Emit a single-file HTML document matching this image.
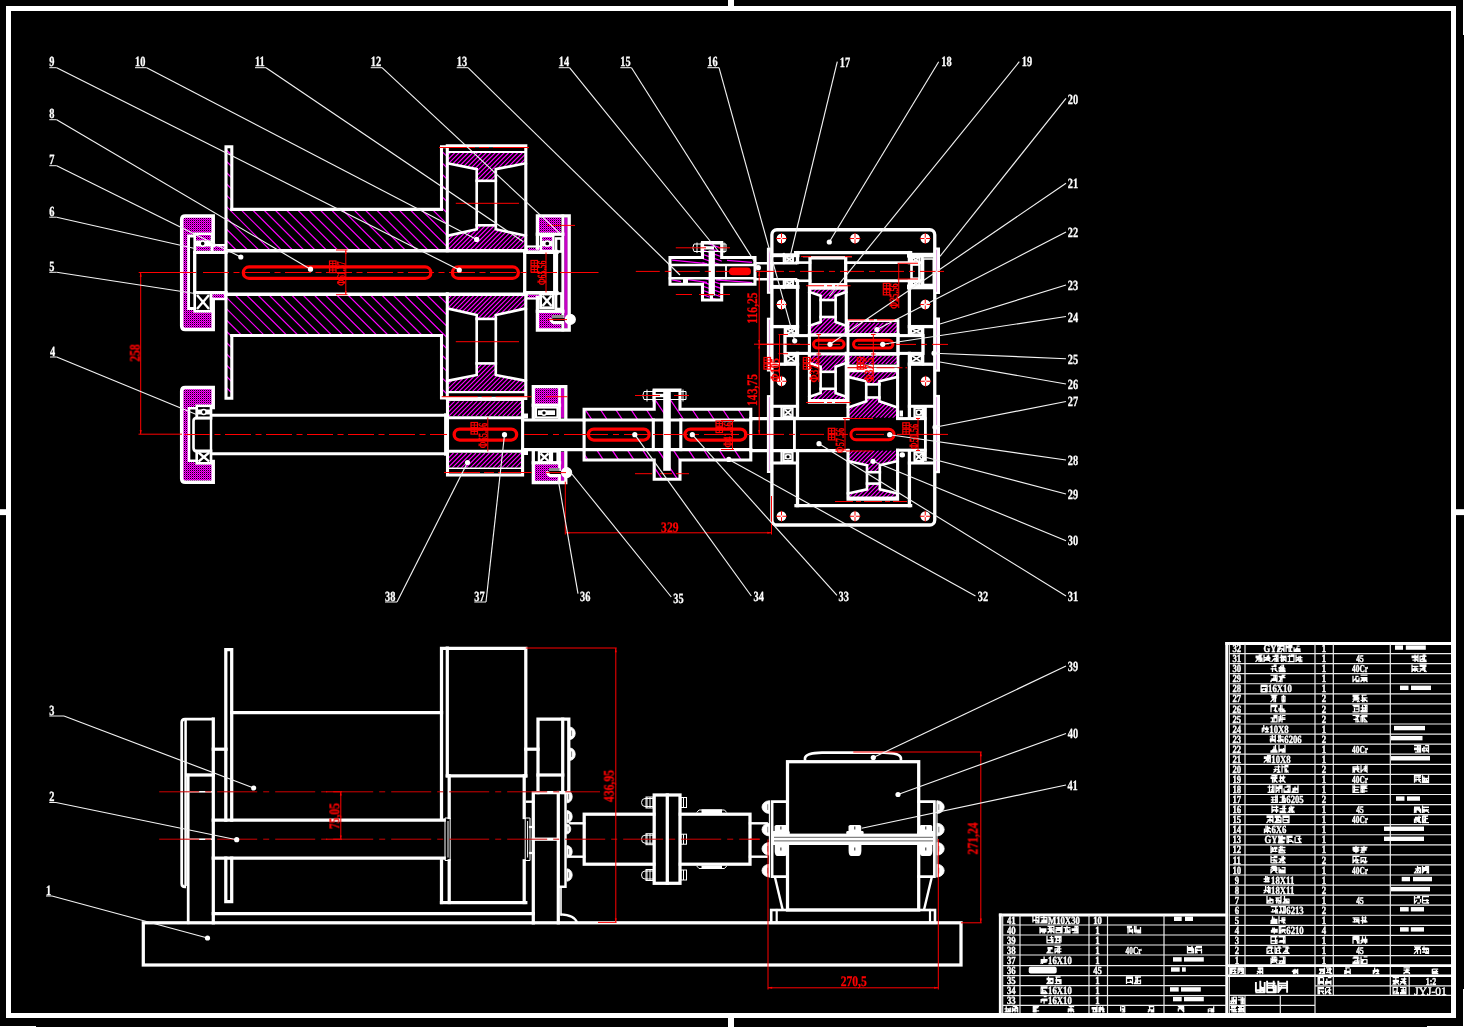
<!DOCTYPE html>
<html><head><meta charset="utf-8"><title>drawing</title>
<style>html,body{margin:0;padding:0;background:#000;overflow:hidden}svg{display:block}text{font-family:"Liberation Serif",serif}</style>
</head><body>
<svg width="1464" height="1027" viewBox="0 0 1464 1027" shape-rendering="auto">
<defs><pattern id="dh" x="0" y="0" width="2" height="2" patternUnits="userSpaceOnUse"><rect width="2" height="2" fill="#f0f"/><rect x="0" y="0" width="1" height="1" fill="#100010"/><rect x="1" y="1" width="1" height="1" fill="#a800a8"/></pattern><clipPath id="c1"><path d="M226,146.7 L231.8,146.7 L231.8,209.4 L441.5,209.4 L441.5,146.7 L447.3,146.7 L447.3,250.7 L226,250.7 Z"/></clipPath><clipPath id="c2"><path d="M226,294.3 L447.3,294.3 L447.3,398.3 L441.5,398.3 L441.5,335.5 L231.8,335.5 L231.8,398.3 L226,398.3 Z"/></clipPath><clipPath id="c3"><path d="M447.3,152 L525.8,152 L525.8,163.3 L495.8,169.2 L495.8,180.8 L476.7,180.8 L476.7,169.2 L447.3,163.3 Z"/></clipPath><clipPath id="c4"><path d="M447.3,235.8 L476.7,229.2 L476.7,225.3 L495.8,225.3 L495.8,229.2 L525.8,235.8 L525.8,250.7 L447.3,250.7 Z"/></clipPath><clipPath id="c5"><path d="M447.3,392.2 L525.8,392.2 L525.8,380.9 L495.8,375 L495.8,363.4 L476.7,363.4 L476.7,375 L447.3,380.9 Z"/></clipPath><clipPath id="c6"><path d="M447.3,308.4 L476.7,315 L476.7,318.9 L495.8,318.9 L495.8,315 L525.8,308.4 L525.8,293.9 L447.3,293.9 Z"/></clipPath><clipPath id="c7"><path d="M447.5,401.2 L522.6,401.2 L522.6,416.2 L447.5,416.2 Z"/></clipPath><clipPath id="c8"><path d="M447.5,453 L522.6,453 L522.6,467.8 L447.5,467.8 Z"/></clipPath><clipPath id="c9"><path d="M584.1,409.2 L654.2,409.2 L654.2,390 L680,390 L680,409.2 L750.8,409.2 L750.8,420 L584.1,420 Z"/></clipPath><clipPath id="c10"><path d="M584.1,449.6 L750.8,449.6 L750.8,460 L680,460 L680,479.2 L654.2,479.2 L654.2,460 L584.1,460 Z"/></clipPath><clipPath id="c11"><path d="M702.5,242.5 L721.7,242.5 L721.7,265 L702.5,265 Z"/></clipPath><clipPath id="c12"><path d="M702.5,278.3 L721.7,278.3 L721.7,300 L702.5,300 Z"/></clipPath><clipPath id="c13"><path d="M809.4,288.6 L846.25,288.6 L846.25,292 L835.6,295.75 L835.6,300 L820.6,300 L820.6,295.75 L809.4,292 Z"/></clipPath><clipPath id="c14"><path d="M809.4,325.75 L820.6,322 L820.6,317 L835.6,317 L835.6,322 L846.25,325.75 L846.25,335 L809.4,335 Z"/></clipPath><clipPath id="c15"><path d="M809.4,400.2 L846.25,400.2 L846.25,396.8 L835.6,393.05 L835.6,388.8 L820.6,388.8 L820.6,393.05 L809.4,396.8 Z"/></clipPath><clipPath id="c16"><path d="M809.4,363.05 L820.6,366.8 L820.6,371.8 L835.6,371.8 L835.6,366.8 L846.25,363.05 L846.25,353.4 L809.4,353.4 Z"/></clipPath><clipPath id="c17"><path d="M848,322.5 L898,322.5 L898,333.2 L848,333.2 Z"/></clipPath><clipPath id="c18"><path d="M848,355.8 L898,355.8 L898,364.2 L848,364.2 Z"/></clipPath><clipPath id="c19"><path d="M848,371.2 L897.6,371.2 L897.6,376.9 L879.4,381.25 L879.4,384.4 L866.25,384.4 L866.25,381.25 L848,376.9 Z"/></clipPath><clipPath id="c20"><path d="M848,407.5 L866.25,401.25 L866.25,397.5 L879.4,397.5 L879.4,401.25 L897.6,407.5 L897.6,417.8 L848,417.8 Z"/></clipPath><clipPath id="c21"><path d="M848,497.6 L897.6,497.6 L897.6,493.5 L879.8,489.4 L879.8,483.6 L867,483.6 L867,489.4 L848,493.5 Z"/></clipPath><clipPath id="c22"><path d="M848,461 L867,465.2 L867,472.2 L879.8,472.2 L879.8,465.2 L897.6,461 L897.6,450.4 L848,450.4 Z"/></clipPath></defs>
<rect x="0" y="0" width="1464" height="1027" fill="#000"/>
<path clip-path="url(#c1)" d="M121.62,146.7 L225.62,250.7 M132.89,146.7 L236.89,250.7 M144.16,146.7 L248.16,250.7 M155.43,146.7 L259.43,250.7 M166.7,146.7 L270.7,250.7 M177.97,146.7 L281.97,250.7 M189.24,146.7 L293.24,250.7 M200.51,146.7 L304.51,250.7 M211.78,146.7 L315.78,250.7 M223.05,146.7 L327.05,250.7 M234.32,146.7 L338.32,250.7 M245.59,146.7 L349.59,250.7 M256.86,146.7 L360.86,250.7 M268.13,146.7 L372.13,250.7 M279.4,146.7 L383.4,250.7 M290.67,146.7 L394.67,250.7 M301.94,146.7 L405.94,250.7 M313.21,146.7 L417.21,250.7 M324.48,146.7 L428.48,250.7 M335.75,146.7 L439.75,250.7 M347.02,146.7 L451.02,250.7 M358.29,146.7 L462.29,250.7 M369.56,146.7 L473.56,250.7 M380.83,146.7 L484.83,250.7 M392.1,146.7 L496.1,250.7 M403.37,146.7 L507.37,250.7 M414.64,146.7 L518.64,250.7 M425.91,146.7 L529.91,250.7 M437.18,146.7 L541.18,250.7 M448.45,146.7 L552.45,250.7" stroke="#ff00ff" stroke-width="1.2" fill="none"/>
<path clip-path="url(#c2)" d="M121.87,294.3 L225.87,398.3 M133.14,294.3 L237.14,398.3 M144.41,294.3 L248.41,398.3 M155.68,294.3 L259.68,398.3 M166.95,294.3 L270.95,398.3 M178.22,294.3 L282.22,398.3 M189.49,294.3 L293.49,398.3 M200.76,294.3 L304.76,398.3 M212.03,294.3 L316.03,398.3 M223.3,294.3 L327.3,398.3 M234.57,294.3 L338.57,398.3 M245.84,294.3 L349.84,398.3 M257.11,294.3 L361.11,398.3 M268.38,294.3 L372.38,398.3 M279.65,294.3 L383.65,398.3 M290.92,294.3 L394.92,398.3 M302.19,294.3 L406.19,398.3 M313.46,294.3 L417.46,398.3 M324.73,294.3 L428.73,398.3 M336,294.3 L440,398.3 M347.27,294.3 L451.27,398.3 M358.54,294.3 L462.54,398.3 M369.81,294.3 L473.81,398.3 M381.08,294.3 L485.08,398.3 M392.35,294.3 L496.35,398.3 M403.62,294.3 L507.62,398.3 M414.89,294.3 L518.89,398.3 M426.16,294.3 L530.16,398.3 M437.43,294.3 L541.43,398.3 M448.7,294.3 L552.7,398.3" stroke="#ff00ff" stroke-width="1.2" fill="none"/>
<path clip-path="url(#c3)" d="M446.5,152 L417.7,180.8 M451,152 L422.2,180.8 M455.5,152 L426.7,180.8 M460,152 L431.2,180.8 M464.5,152 L435.7,180.8 M469,152 L440.2,180.8 M473.5,152 L444.7,180.8 M478,152 L449.2,180.8 M482.5,152 L453.7,180.8 M487,152 L458.2,180.8 M491.5,152 L462.7,180.8 M496,152 L467.2,180.8 M500.5,152 L471.7,180.8 M505,152 L476.2,180.8 M509.5,152 L480.7,180.8 M514,152 L485.2,180.8 M518.5,152 L489.7,180.8 M523,152 L494.2,180.8 M527.5,152 L498.7,180.8 M532,152 L503.2,180.8 M536.5,152 L507.7,180.8 M541,152 L512.2,180.8 M545.5,152 L516.7,180.8 M550,152 L521.2,180.8 M554.5,152 L525.7,180.8 M559,152 L530.2,180.8" stroke="#ff00ff" stroke-width="1.2" fill="none"/>
<path clip-path="url(#c4)" d="M445.2,225.3 L419.8,250.7 M449.7,225.3 L424.3,250.7 M454.2,225.3 L428.8,250.7 M458.7,225.3 L433.3,250.7 M463.2,225.3 L437.8,250.7 M467.7,225.3 L442.3,250.7 M472.2,225.3 L446.8,250.7 M476.7,225.3 L451.3,250.7 M481.2,225.3 L455.8,250.7 M485.7,225.3 L460.3,250.7 M490.2,225.3 L464.8,250.7 M494.7,225.3 L469.3,250.7 M499.2,225.3 L473.8,250.7 M503.7,225.3 L478.3,250.7 M508.2,225.3 L482.8,250.7 M512.7,225.3 L487.3,250.7 M517.2,225.3 L491.8,250.7 M521.7,225.3 L496.3,250.7 M526.2,225.3 L500.8,250.7 M530.7,225.3 L505.3,250.7 M535.2,225.3 L509.8,250.7 M539.7,225.3 L514.3,250.7 M544.2,225.3 L518.8,250.7 M548.7,225.3 L523.3,250.7 M553.2,225.3 L527.8,250.7" stroke="#ff00ff" stroke-width="1.2" fill="none"/>
<path clip-path="url(#c5)" d="M446.6,363.4 L417.8,392.2 M451.1,363.4 L422.3,392.2 M455.6,363.4 L426.8,392.2 M460.1,363.4 L431.3,392.2 M464.6,363.4 L435.8,392.2 M469.1,363.4 L440.3,392.2 M473.6,363.4 L444.8,392.2 M478.1,363.4 L449.3,392.2 M482.6,363.4 L453.8,392.2 M487.1,363.4 L458.3,392.2 M491.6,363.4 L462.8,392.2 M496.1,363.4 L467.3,392.2 M500.6,363.4 L471.8,392.2 M505.1,363.4 L476.3,392.2 M509.6,363.4 L480.8,392.2 M514.1,363.4 L485.3,392.2 M518.6,363.4 L489.8,392.2 M523.1,363.4 L494.3,392.2 M527.6,363.4 L498.8,392.2 M532.1,363.4 L503.3,392.2 M536.6,363.4 L507.8,392.2 M541.1,363.4 L512.3,392.2 M545.6,363.4 L516.8,392.2 M550.1,363.4 L521.3,392.2 M554.6,363.4 L525.8,392.2" stroke="#ff00ff" stroke-width="1.2" fill="none"/>
<path clip-path="url(#c6)" d="M444.1,293.9 L419.1,318.9 M448.6,293.9 L423.6,318.9 M453.1,293.9 L428.1,318.9 M457.6,293.9 L432.6,318.9 M462.1,293.9 L437.1,318.9 M466.6,293.9 L441.6,318.9 M471.1,293.9 L446.1,318.9 M475.6,293.9 L450.6,318.9 M480.1,293.9 L455.1,318.9 M484.6,293.9 L459.6,318.9 M489.1,293.9 L464.1,318.9 M493.6,293.9 L468.6,318.9 M498.1,293.9 L473.1,318.9 M502.6,293.9 L477.6,318.9 M507.1,293.9 L482.1,318.9 M511.6,293.9 L486.6,318.9 M516.1,293.9 L491.1,318.9 M520.6,293.9 L495.6,318.9 M525.1,293.9 L500.1,318.9 M529.6,293.9 L504.6,318.9 M534.1,293.9 L509.1,318.9 M538.6,293.9 L513.6,318.9 M543.1,293.9 L518.1,318.9 M547.6,293.9 L522.6,318.9 M552.1,293.9 L527.1,318.9" stroke="#ff00ff" stroke-width="1.2" fill="none"/>
<path d="M181.7,216 L213.2,216 L213.2,233.5 L194.7,233.5 L194.7,236 L188.6,236 L188.6,308.5 L194.7,308.5 L194.7,311.5 L213.2,311.5 L213.2,329.5 L181.7,329.5 Z" fill="url(#dh)" stroke="none" shape-rendering="crispEdges"/>
<path d="M196,235 L211,235 L211,251 L196,251 Z" fill="url(#dh)" stroke="none" shape-rendering="crispEdges"/>
<path d="M213,246.3 L224.5,246.3 L224.5,251.2 L213,251.2 Z" fill="url(#dh)" stroke="none" shape-rendering="crispEdges"/>
<path d="M212,293.8 L224.5,293.8 L224.5,298 L212,298 Z" fill="url(#dh)" stroke="none" shape-rendering="crispEdges"/>
<path d="M181.7,387.5 L213.2,387.5 L213.2,405 L194.7,405 L194.7,407.5 L188.6,407.5 L188.6,461.3 L194.7,461.3 L194.7,464.3 L213.2,464.3 L213.2,482.3 L181.7,482.3 Z" fill="url(#dh)" stroke="none" shape-rendering="crispEdges"/>
<path clip-path="url(#c7)" d="M445.8,401.2 L430.8,416.2 M450.3,401.2 L435.3,416.2 M454.8,401.2 L439.8,416.2 M459.3,401.2 L444.3,416.2 M463.8,401.2 L448.8,416.2 M468.3,401.2 L453.3,416.2 M472.8,401.2 L457.8,416.2 M477.3,401.2 L462.3,416.2 M481.8,401.2 L466.8,416.2 M486.3,401.2 L471.3,416.2 M490.8,401.2 L475.8,416.2 M495.3,401.2 L480.3,416.2 M499.8,401.2 L484.8,416.2 M504.3,401.2 L489.3,416.2 M508.8,401.2 L493.8,416.2 M513.3,401.2 L498.3,416.2 M517.8,401.2 L502.8,416.2 M522.3,401.2 L507.3,416.2 M526.8,401.2 L511.8,416.2 M531.3,401.2 L516.3,416.2 M535.8,401.2 L520.8,416.2 M540.3,401.2 L525.3,416.2" stroke="#ff00ff" stroke-width="1.2" fill="none"/>
<path clip-path="url(#c8)" d="M444.5,453 L429.7,467.8 M449,453 L434.2,467.8 M453.5,453 L438.7,467.8 M458,453 L443.2,467.8 M462.5,453 L447.7,467.8 M467,453 L452.2,467.8 M471.5,453 L456.7,467.8 M476,453 L461.2,467.8 M480.5,453 L465.7,467.8 M485,453 L470.2,467.8 M489.5,453 L474.7,467.8 M494,453 L479.2,467.8 M498.5,453 L483.7,467.8 M503,453 L488.2,467.8 M507.5,453 L492.7,467.8 M512,453 L497.2,467.8 M516.5,453 L501.7,467.8 M521,453 L506.2,467.8 M525.5,453 L510.7,467.8 M530,453 L515.2,467.8 M534.5,453 L519.7,467.8 M539,453 L524.2,467.8" stroke="#ff00ff" stroke-width="1.2" fill="none"/>
<path d="M538.9,217.4 L561.3,217.4 L561.3,233 L538.9,233 Z" fill="url(#dh)" stroke="none" shape-rendering="crispEdges"/>
<path d="M538.9,312.5 L561.3,312.5 L561.3,328.5 L538.9,328.5 Z" fill="url(#dh)" stroke="none" shape-rendering="crispEdges"/>
<rect x="564.2" y="217.4" width="3.6" height="111.1" fill="#c800c8"/>
<path d="M542,237 L552.3,237 L552.3,250 L542,250 Z" fill="url(#dh)" stroke="none" shape-rendering="crispEdges"/>
<path d="M527.5,247.5 L540,247.5 L540,250.5 L527.5,250.5 Z" fill="url(#dh)" stroke="none" shape-rendering="crispEdges"/>
<path d="M527.5,294.5 L540,294.5 L540,297.5 L527.5,297.5 Z" fill="url(#dh)" stroke="none" shape-rendering="crispEdges"/>
<path d="M534.8,388.2 L558,388.2 L558,404 L534.8,404 Z" fill="url(#dh)" stroke="none" shape-rendering="crispEdges"/>
<path d="M534.8,464 L558,464 L558,481 L534.8,481 Z" fill="url(#dh)" stroke="none" shape-rendering="crispEdges"/>
<rect x="560.9" y="388.2" width="3.5" height="29.6" fill="#c800c8"/>
<rect x="560.9" y="451.8" width="3.5" height="29.2" fill="#c800c8"/>
<path clip-path="url(#c9)" d="M556.8,390 L576.8,420 M572.1,390 L592.1,420 M587.4,390 L607.4,420 M602.7,390 L622.7,420 M618,390 L638,420 M633.3,390 L653.3,420 M648.6,390 L668.6,420 M663.9,390 L683.9,420 M679.2,390 L699.2,420 M694.5,390 L714.5,420 M709.8,390 L729.8,420 M725.1,390 L745.1,420 M740.4,390 L760.4,420 M755.7,390 L775.7,420" stroke="#ff00ff" stroke-width="1.25" fill="none"/>
<path clip-path="url(#c10)" d="M550.63,449.6 L570.37,479.2 M565.93,449.6 L585.67,479.2 M581.23,449.6 L600.97,479.2 M596.53,449.6 L616.27,479.2 M611.83,449.6 L631.57,479.2 M627.13,449.6 L646.87,479.2 M642.43,449.6 L662.17,479.2 M657.73,449.6 L677.47,479.2 M673.03,449.6 L692.77,479.2 M688.33,449.6 L708.07,479.2 M703.63,449.6 L723.37,479.2 M718.93,449.6 L738.67,479.2 M734.23,449.6 L753.97,479.2 M749.53,449.6 L769.27,479.2 M764.83,449.6 L784.57,479.2" stroke="#ff00ff" stroke-width="1.25" fill="none"/>
<path clip-path="url(#c11)" d="M632.86,242.5 L697.14,265 M644.86,242.5 L709.14,265 M656.86,242.5 L721.14,265 M668.86,242.5 L733.14,265 M680.86,242.5 L745.14,265 M692.86,242.5 L757.14,265 M704.86,242.5 L769.14,265 M716.86,242.5 L781.14,265 M728.86,242.5 L793.14,265" stroke="#ff00ff" stroke-width="1.2" fill="none"/>
<path clip-path="url(#c12)" d="M632.14,278.3 L694.14,300 M644.14,278.3 L706.14,300 M656.14,278.3 L718.14,300 M668.14,278.3 L730.14,300 M680.14,278.3 L742.14,300 M692.14,278.3 L754.14,300 M704.14,278.3 L766.14,300 M716.14,278.3 L778.14,300 M728.14,278.3 L790.14,300" stroke="#ff00ff" stroke-width="1.2" fill="none"/>
<line x1="672" y1="260.2" x2="707" y2="263.6" stroke="#ff00ff" stroke-width="1.2"/>
<line x1="727" y1="260.4" x2="752" y2="262.4" stroke="#ff00ff" stroke-width="1.2"/>
<line x1="672" y1="279.9" x2="681" y2="281.6" stroke="#ff00ff" stroke-width="1.2"/>
<line x1="688" y1="279.7" x2="707" y2="282.4" stroke="#ff00ff" stroke-width="1.2"/>
<line x1="716" y1="279.8" x2="752" y2="282.6" stroke="#ff00ff" stroke-width="1.2"/>
<path clip-path="url(#c13)" d="M808.6,288.6 L797.2,300 M812.8,288.6 L801.4,300 M817,288.6 L805.6,300 M821.2,288.6 L809.8,300 M825.4,288.6 L814,300 M829.6,288.6 L818.2,300 M833.8,288.6 L822.4,300 M838,288.6 L826.6,300 M842.2,288.6 L830.8,300 M846.4,288.6 L835,300 M850.6,288.6 L839.2,300 M854.8,288.6 L843.4,300 M859,288.6 L847.6,300" stroke="#ff00ff" stroke-width="1.2" fill="none"/>
<path clip-path="url(#c14)" d="M805.4,317 L787.4,335 M809.6,317 L791.6,335 M813.8,317 L795.8,335 M818,317 L800,335 M822.2,317 L804.2,335 M826.4,317 L808.4,335 M830.6,317 L812.6,335 M834.8,317 L816.8,335 M839,317 L821,335 M843.2,317 L825.2,335 M847.4,317 L829.4,335 M851.6,317 L833.6,335 M855.8,317 L837.8,335 M860,317 L842,335 M864.2,317 L846.2,335 M868.4,317 L850.4,335" stroke="#ff00ff" stroke-width="1.2" fill="none"/>
<path clip-path="url(#c15)" d="M807,388.8 L795.6,400.2 M811.2,388.8 L799.8,400.2 M815.4,388.8 L804,400.2 M819.6,388.8 L808.2,400.2 M823.8,388.8 L812.4,400.2 M828,388.8 L816.6,400.2 M832.2,388.8 L820.8,400.2 M836.4,388.8 L825,400.2 M840.6,388.8 L829.2,400.2 M844.8,388.8 L833.4,400.2 M849,388.8 L837.6,400.2 M853.2,388.8 L841.8,400.2 M857.4,388.8 L846,400.2 M861.6,388.8 L850.2,400.2" stroke="#ff00ff" stroke-width="1.2" fill="none"/>
<path clip-path="url(#c16)" d="M808.8,353.4 L790.4,371.8 M813,353.4 L794.6,371.8 M817.2,353.4 L798.8,371.8 M821.4,353.4 L803,371.8 M825.6,353.4 L807.2,371.8 M829.8,353.4 L811.4,371.8 M834,353.4 L815.6,371.8 M838.2,353.4 L819.8,371.8 M842.4,353.4 L824,371.8 M846.6,353.4 L828.2,371.8 M850.8,353.4 L832.4,371.8 M855,353.4 L836.6,371.8 M859.2,353.4 L840.8,371.8 M863.4,353.4 L845,371.8 M867.6,353.4 L849.2,371.8" stroke="#ff00ff" stroke-width="1.2" fill="none"/>
<path clip-path="url(#c17)" d="M845.6,322.5 L834.9,333.2 M849.8,322.5 L839.1,333.2 M854,322.5 L843.3,333.2 M858.2,322.5 L847.5,333.2 M862.4,322.5 L851.7,333.2 M866.6,322.5 L855.9,333.2 M870.8,322.5 L860.1,333.2 M875,322.5 L864.3,333.2 M879.2,322.5 L868.5,333.2 M883.4,322.5 L872.7,333.2 M887.6,322.5 L876.9,333.2 M891.8,322.5 L881.1,333.2 M896,322.5 L885.3,333.2 M900.2,322.5 L889.5,333.2 M904.4,322.5 L893.7,333.2 M908.6,322.5 L897.9,333.2 M912.8,322.5 L902.1,333.2" stroke="#ff00ff" stroke-width="1.2" fill="none"/>
<path clip-path="url(#c18)" d="M847.9,355.8 L839.5,364.2 M852.1,355.8 L843.7,364.2 M856.3,355.8 L847.9,364.2 M860.5,355.8 L852.1,364.2 M864.7,355.8 L856.3,364.2 M868.9,355.8 L860.5,364.2 M873.1,355.8 L864.7,364.2 M877.3,355.8 L868.9,364.2 M881.5,355.8 L873.1,364.2 M885.7,355.8 L877.3,364.2 M889.9,355.8 L881.5,364.2 M894.1,355.8 L885.7,364.2 M898.3,355.8 L889.9,364.2 M902.5,355.8 L894.1,364.2 M906.7,355.8 L898.3,364.2" stroke="#ff00ff" stroke-width="1.2" fill="none"/>
<path clip-path="url(#c19)" d="M846.8,371.2 L833.6,384.4 M851,371.2 L837.8,384.4 M855.2,371.2 L842,384.4 M859.4,371.2 L846.2,384.4 M863.6,371.2 L850.4,384.4 M867.8,371.2 L854.6,384.4 M872,371.2 L858.8,384.4 M876.2,371.2 L863,384.4 M880.4,371.2 L867.2,384.4 M884.6,371.2 L871.4,384.4 M888.8,371.2 L875.6,384.4 M893,371.2 L879.8,384.4 M897.2,371.2 L884,384.4 M901.4,371.2 L888.2,384.4 M905.6,371.2 L892.4,384.4 M909.8,371.2 L896.6,384.4 M914,371.2 L900.8,384.4" stroke="#ff00ff" stroke-width="1.2" fill="none"/>
<path clip-path="url(#c20)" d="M845.7,397.5 L825.4,417.8 M849.9,397.5 L829.6,417.8 M854.1,397.5 L833.8,417.8 M858.3,397.5 L838,417.8 M862.5,397.5 L842.2,417.8 M866.7,397.5 L846.4,417.8 M870.9,397.5 L850.6,417.8 M875.1,397.5 L854.8,417.8 M879.3,397.5 L859,417.8 M883.5,397.5 L863.2,417.8 M887.7,397.5 L867.4,417.8 M891.9,397.5 L871.6,417.8 M896.1,397.5 L875.8,417.8 M900.3,397.5 L880,417.8 M904.5,397.5 L884.2,417.8 M908.7,397.5 L888.4,417.8 M912.9,397.5 L892.6,417.8 M917.1,397.5 L896.8,417.8 M921.3,397.5 L901,417.8" stroke="#ff00ff" stroke-width="1.2" fill="none"/>
<path clip-path="url(#c21)" d="M845.6,483.6 L831.6,497.6 M849.8,483.6 L835.8,497.6 M854,483.6 L840,497.6 M858.2,483.6 L844.2,497.6 M862.4,483.6 L848.4,497.6 M866.6,483.6 L852.6,497.6 M870.8,483.6 L856.8,497.6 M875,483.6 L861,497.6 M879.2,483.6 L865.2,497.6 M883.4,483.6 L869.4,497.6 M887.6,483.6 L873.6,497.6 M891.8,483.6 L877.8,497.6 M896,483.6 L882,497.6 M900.2,483.6 L886.2,497.6 M904.4,483.6 L890.4,497.6 M908.6,483.6 L894.6,497.6 M912.8,483.6 L898.8,497.6" stroke="#ff00ff" stroke-width="1.2" fill="none"/>
<path clip-path="url(#c22)" d="M845.2,450.4 L823.4,472.2 M849.4,450.4 L827.6,472.2 M853.6,450.4 L831.8,472.2 M857.8,450.4 L836,472.2 M862,450.4 L840.2,472.2 M866.2,450.4 L844.4,472.2 M870.4,450.4 L848.6,472.2 M874.6,450.4 L852.8,472.2 M878.8,450.4 L857,472.2 M883,450.4 L861.2,472.2 M887.2,450.4 L865.4,472.2 M891.4,450.4 L869.6,472.2 M895.6,450.4 L873.8,472.2 M899.8,450.4 L878,472.2 M904,450.4 L882.2,472.2 M908.2,450.4 L886.4,472.2 M912.4,450.4 L890.6,472.2 M916.6,450.4 L894.8,472.2 M920.8,450.4 L899,472.2" stroke="#ff00ff" stroke-width="1.2" fill="none"/>
<rect x="8.5" y="8.5" width="1445" height="1007" fill="none" stroke="#fff" stroke-width="5"/>
<rect x="728" y="0" width="6" height="8" fill="#fff"/>
<rect x="728" y="1016" width="6" height="11" fill="#fff"/>
<rect x="0" y="509.2" width="8" height="5.9" fill="#fff"/>
<rect x="1454" y="509.2" width="10" height="5.9" fill="#fff"/>
<rect x="1463" y="0" width="1" height="35" fill="#fff"/>
<rect x="1463" y="989" width="1" height="38" fill="#fff"/>
<rect x="1427" y="1026" width="37" height="1" fill="#fff"/>
<rect x="0" y="1026" width="36" height="1" fill="#fff"/>
<path d="M231.8,209.4 L231.8,146.7 L226,146.7 L226,398.3 L231.8,398.3 L231.8,335.5" fill="none" stroke="#fff" stroke-width="3.08" stroke-linejoin="miter" stroke-linecap="square"/>
<path d="M231.8,209.4 L441.5,209.4 L441.5,146.7 L447.3,146.7" fill="none" stroke="#fff" stroke-width="3.08" stroke-linejoin="miter" stroke-linecap="square"/>
<path d="M231.8,335.5 L441.5,335.5 L441.5,398 L447.3,398" fill="none" stroke="#fff" stroke-width="3.08" stroke-linejoin="miter" stroke-linecap="square"/>
<line x1="226" y1="250.8" x2="526" y2="250.8" stroke="#fff" stroke-width="3.52" stroke-linecap="square"/>
<line x1="226" y1="294.2" x2="526" y2="294.2" stroke="#fff" stroke-width="3.52" stroke-linecap="square"/>
<path d="M447.3,250.7 L447.3,145.8 L525.8,145.8 L525.8,250.7" fill="none" stroke="#fff" stroke-width="3.08" stroke-linejoin="miter" stroke-linecap="square"/>
<line x1="447.3" y1="152" x2="525.8" y2="152" stroke="#fff" stroke-width="2.2" stroke-linecap="square"/>
<path d="M447.3,163.3 L476.7,169.2 L476.7,229.2 L447.3,235.8" fill="none" stroke="#fff" stroke-width="2.64" stroke-linejoin="miter" stroke-linecap="square"/>
<path d="M525.8,163.3 L495.8,169.2 L495.8,229.2 L525.8,235.8" fill="none" stroke="#fff" stroke-width="2.64" stroke-linejoin="miter" stroke-linecap="square"/>
<line x1="476.7" y1="180.8" x2="495.8" y2="180.8" stroke="#fff" stroke-width="2.64" stroke-linecap="square"/>
<line x1="476.7" y1="225.3" x2="495.8" y2="225.3" stroke="#fff" stroke-width="2.64" stroke-linecap="square"/>
<path d="M447.3,293.9 L447.3,398.4 L525.8,398.4 L525.8,293.9" fill="none" stroke="#fff" stroke-width="3.08" stroke-linejoin="miter" stroke-linecap="square"/>
<line x1="447.3" y1="392.2" x2="525.8" y2="392.2" stroke="#fff" stroke-width="2.2" stroke-linecap="square"/>
<path d="M447.3,380.9 L476.7,375 L476.7,315 L447.3,308.4" fill="none" stroke="#fff" stroke-width="2.64" stroke-linejoin="miter" stroke-linecap="square"/>
<path d="M525.8,380.9 L495.8,375 L495.8,315 L525.8,308.4" fill="none" stroke="#fff" stroke-width="2.64" stroke-linejoin="miter" stroke-linecap="square"/>
<line x1="476.7" y1="363.4" x2="495.8" y2="363.4" stroke="#fff" stroke-width="2.64" stroke-linecap="square"/>
<line x1="476.7" y1="318.9" x2="495.8" y2="318.9" stroke="#fff" stroke-width="2.64" stroke-linecap="square"/>
<path d="M213.2,245.5 V216 H185.2 Q181.7,216 181.7,219.5 V326 Q181.7,329.5 185.2,329.5 H213.2 V299.5" fill="none" stroke="#fff" stroke-width="3.52" stroke-linejoin="miter" stroke-linecap="square"/>
<path d="M194.7,236 L188.6,236 L188.6,308.5 L194.7,308.5" fill="none" stroke="#fff" stroke-width="2.86" stroke-linejoin="miter" stroke-linecap="square"/>
<rect x="194.7" y="233.8" width="17.3" height="18.5" fill="none" stroke="#fff" stroke-width="2.64"/>
<rect x="196" y="240.5" width="15" height="6" fill="#fff"/>
<circle cx="202.7" cy="243.6" r="2.6" fill="#000" stroke="#fff" stroke-width="1.6"/>
<rect x="212" y="245.2" width="13.5" height="7.1" fill="none" stroke="#fff" stroke-width="2.42"/>
<path d="M226,252.3 L194.7,252.3 L194.7,292.7 L226,292.7" fill="none" stroke="#fff" stroke-width="3.3" stroke-linejoin="miter" stroke-linecap="square"/>
<rect x="194.7" y="292.7" width="16.3" height="18.6" fill="none" stroke="#fff" stroke-width="2.64"/>
<line x1="197" y1="295" x2="209" y2="309" stroke="#fff" stroke-width="2.42"/>
<line x1="209" y1="295" x2="197" y2="309" stroke="#fff" stroke-width="2.42"/>
<rect x="211" y="292.7" width="14.5" height="6.3" fill="none" stroke="#fff" stroke-width="2.42"/>
<path d="M213.2,407.5 V387.5 H185.2 Q181.7,387.5 181.7,391 V478.8 Q181.7,482.3 185.2,482.3 H213.2 V461.5" fill="none" stroke="#fff" stroke-width="3.52" stroke-linejoin="miter" stroke-linecap="square"/>
<path d="M196.7,408.3 L189,408.3 L189,460.8 L196.7,460.8" fill="none" stroke="#fff" stroke-width="2.64" stroke-linejoin="miter" stroke-linecap="square"/>
<rect x="196.7" y="405.8" width="14.3" height="12.5" fill="none" stroke="#fff" stroke-width="2.64"/>
<rect x="198" y="409.5" width="12" height="5" fill="#fff"/>
<circle cx="203.7" cy="412" r="2.4" fill="#000" stroke="#fff" stroke-width="1.5"/>
<rect x="196.7" y="450.8" width="14.3" height="12.5" fill="none" stroke="#fff" stroke-width="2.64"/>
<line x1="198.5" y1="452.5" x2="209.2" y2="461.6" stroke="#fff" stroke-width="2.42"/>
<line x1="209.2" y1="452.5" x2="198.5" y2="461.6" stroke="#fff" stroke-width="2.42"/>
<path d="M211.5,417.7 H197 Q193.5,417.7 193.5,421 V448 Q193.5,451.4 197,451.4 H211.5" fill="none" stroke="#fff" stroke-width="2.64" stroke-linejoin="miter" stroke-linecap="butt"/>
<line x1="211" y1="418" x2="211" y2="451" stroke="#fff" stroke-width="2.42" stroke-linecap="square"/>
<line x1="212" y1="415.3" x2="445" y2="415.3" stroke="#fff" stroke-width="3.08" stroke-linecap="square"/>
<line x1="212" y1="453.8" x2="445" y2="453.8" stroke="#fff" stroke-width="3.08" stroke-linecap="square"/>
<line x1="445.3" y1="414.5" x2="445.3" y2="454.5" stroke="#fff" stroke-width="2.42" stroke-linecap="square"/>
<rect x="447.5" y="399.4" width="75.1" height="75.6" fill="none" stroke="#fff" stroke-width="3.08"/>
<line x1="447.5" y1="417.8" x2="522.6" y2="417.8" stroke="#fff" stroke-width="3.08" stroke-linecap="square"/>
<line x1="447.5" y1="451.2" x2="522.6" y2="451.2" stroke="#fff" stroke-width="3.08" stroke-linecap="square"/>
<line x1="447.5" y1="468.3" x2="522.6" y2="468.3" stroke="#fff" stroke-width="1.6" stroke-linecap="square"/>
<rect x="523.5" y="413.5" width="4.5" height="5" fill="#fff"/>
<rect x="523.5" y="450" width="4.5" height="5" fill="#fff"/>
<line x1="522.6" y1="420" x2="584.1" y2="420" stroke="#fff" stroke-width="3.08" stroke-linecap="square"/>
<line x1="522.6" y1="449.6" x2="584.1" y2="449.6" stroke="#fff" stroke-width="3.08" stroke-linecap="square"/>
<path d="M537.4,248 L537.4,215.9 L569.2,215.9 L569.2,330 L537.4,330 L537.4,297.5" fill="none" stroke="#fff" stroke-width="3.3" stroke-linejoin="miter" stroke-linecap="square"/>
<line x1="562.8" y1="215.9" x2="562.8" y2="330" stroke="#fff" stroke-width="2.86" stroke-linecap="square"/>
<line x1="537.4" y1="234.2" x2="562.8" y2="234.2" stroke="#fff" stroke-width="3.3" stroke-linecap="square"/>
<line x1="537.4" y1="311.3" x2="562.8" y2="311.3" stroke="#fff" stroke-width="3.3" stroke-linecap="square"/>
<rect x="541" y="236" width="12.3" height="15" fill="none" stroke="#fff" stroke-width="2.42"/>
<rect x="542" y="240.8" width="10.3" height="5.6" fill="#fff"/>
<circle cx="547.3" cy="243.5" r="2.6" fill="#000" stroke="#fff" stroke-width="1.5"/>
<rect x="556" y="238.5" width="5.5" height="13" fill="none" stroke="#fff" stroke-width="2.64"/>
<rect x="526.5" y="246.5" width="14.5" height="5" fill="none" stroke="#fff" stroke-width="2.2"/>
<path d="M524.7,250.7 L524.7,294.3" fill="none" stroke="#fff" stroke-width="3.3" stroke-linejoin="miter" stroke-linecap="square"/>
<line x1="524.7" y1="252.3" x2="557" y2="252.3" stroke="#fff" stroke-width="3.3" stroke-linecap="square"/>
<line x1="524.7" y1="292.7" x2="557" y2="292.7" stroke="#fff" stroke-width="3.3" stroke-linecap="square"/>
<line x1="555.6" y1="252.3" x2="555.6" y2="292.7" stroke="#fff" stroke-width="5.06" stroke-linecap="square"/>
<rect x="540.6" y="294" width="12.7" height="13.8" fill="none" stroke="#fff" stroke-width="2.86"/>
<line x1="542.5" y1="295.8" x2="551.5" y2="306" stroke="#fff" stroke-width="2.42"/>
<line x1="551.5" y1="295.8" x2="542.5" y2="306" stroke="#fff" stroke-width="2.42"/>
<rect x="526.5" y="293.5" width="14.5" height="5" fill="none" stroke="#fff" stroke-width="2.2"/>
<rect x="556" y="293.5" width="5.5" height="15.5" fill="none" stroke="#fff" stroke-width="2.64"/>
<circle cx="570.3" cy="319.4" r="5" fill="#fff" stroke="#fff" stroke-width="1.2"/>
<rect x="551.5" y="318" width="13" height="3.4" fill="#000"/>
<path d="M564,322.6 H553.5 Q550.6,321.4 551.2,318.4" fill="none" stroke="#fff" stroke-width="3.08" stroke-linejoin="miter" stroke-linecap="butt"/>
<rect x="551.9" y="315" width="11.7" height="3.1" fill="#8c8c8c"/>
<path d="M533.3,419 L533.3,386.7 L565.8,386.7 L565.8,419" fill="none" stroke="#fff" stroke-width="3.3" stroke-linejoin="miter" stroke-linecap="square"/>
<path d="M533.3,450.6 L533.3,482.5 L565.8,482.5 L565.8,450.6" fill="none" stroke="#fff" stroke-width="3.3" stroke-linejoin="miter" stroke-linecap="square"/>
<line x1="559.5" y1="386.7" x2="559.5" y2="419" stroke="#fff" stroke-width="2.86" stroke-linecap="square"/>
<line x1="559.5" y1="450.6" x2="559.5" y2="482.5" stroke="#fff" stroke-width="2.86" stroke-linecap="square"/>
<line x1="533.3" y1="405.2" x2="559.5" y2="405.2" stroke="#fff" stroke-width="3.3" stroke-linecap="square"/>
<line x1="533.3" y1="462.8" x2="559.5" y2="462.8" stroke="#fff" stroke-width="3.3" stroke-linecap="square"/>
<rect x="536" y="407.5" width="21.5" height="10" fill="none" stroke="#fff" stroke-width="2.2"/>
<rect x="538" y="410.3" width="17" height="4.7" fill="#fff"/>
<circle cx="544" cy="412.8" r="2.4" fill="#000" stroke="#fff" stroke-width="1.5"/>
<rect x="539" y="451.7" width="11" height="10.8" fill="none" stroke="#fff" stroke-width="2.42"/>
<line x1="540.5" y1="453.3" x2="548.5" y2="461" stroke="#fff" stroke-width="2.42"/>
<line x1="548.5" y1="453.3" x2="540.5" y2="461" stroke="#fff" stroke-width="2.42"/>
<rect x="552" y="451.5" width="5.5" height="11" fill="none" stroke="#fff" stroke-width="2.2"/>
<circle cx="566.6" cy="472.6" r="5" fill="#fff" stroke="#fff" stroke-width="1.2"/>
<rect x="548.5" y="471" width="12.5" height="3.4" fill="#000"/>
<path d="M560.5,475.6 H550 Q547.2,474.4 547.8,471.4" fill="none" stroke="#fff" stroke-width="3.08" stroke-linejoin="miter" stroke-linecap="butt"/>
<rect x="549" y="468" width="10.5" height="3" fill="#8c8c8c"/>
<path d="M584.1,409.2 L654.2,409.2 L654.2,390 L680,390 L680,409.2 L750.8,409.2 L750.8,460 L680,460 L680,479.2 L654.2,479.2 L654.2,460 L584.1,460 Z" fill="none" stroke="#fff" stroke-width="3.08" stroke-linejoin="miter" stroke-linecap="square"/>
<line x1="584.1" y1="420" x2="750.8" y2="420" stroke="#fff" stroke-width="3.08" stroke-linecap="square"/>
<line x1="584.1" y1="449.6" x2="750.8" y2="449.6" stroke="#fff" stroke-width="3.08" stroke-linecap="square"/>
<line x1="653.3" y1="420" x2="653.3" y2="449.6" stroke="#fff" stroke-width="3.08" stroke-linecap="square"/>
<line x1="680.8" y1="420" x2="680.8" y2="449.6" stroke="#fff" stroke-width="3.08" stroke-linecap="square"/>
<rect x="663.2" y="390" width="7.6" height="80.8" fill="#fff"/>
<path d="M644,391.5 H686 M644,399.5 H686 M647,389.5 V401.5 M653,389.5 V401.5 M683,389.5 V401.5 M644,391.5 Q641.5,395.5 644,399.5 M686,391.5 V399.5" fill="none" stroke="#fff" stroke-width="1" stroke-linejoin="miter" stroke-linecap="butt"/>
<rect x="654" y="393.8" width="12" height="3.4" fill="#fff"/>
<path d="M670,257.5 L702.5,257.5 L702.5,242.5 L721.7,242.5 L721.7,257.5 L755,257.5 L755,284.2 L721.7,284.2 L721.7,300 L702.5,300 L702.5,284.2 L670,284.2 Z" fill="none" stroke="#fff" stroke-width="3.08" stroke-linejoin="miter" stroke-linecap="square"/>
<line x1="670" y1="265" x2="755" y2="265" stroke="#fff" stroke-width="2.64" stroke-linecap="square"/>
<line x1="670" y1="278.3" x2="755" y2="278.3" stroke="#fff" stroke-width="2.64" stroke-linecap="square"/>
<rect x="708.6" y="250.5" width="6.3" height="45" fill="#fff"/>
<rect x="710" y="295.5" width="3" height="3.5" fill="#fff"/>
<line x1="726" y1="265" x2="726" y2="278.3" stroke="#fff" stroke-width="1.8" stroke-linecap="square"/>
<rect x="683" y="279" width="5" height="4.5" fill="#fff"/>
<path d="M694,244 H726 M694,251.5 H726 M697,242.5 V253 M701,242.5 V253 M724,242.5 V253 M694,244 Q691.5,247.8 694,251.5 M726,244 V251.5" fill="none" stroke="#fff" stroke-width="1" stroke-linejoin="miter" stroke-linecap="butt"/>
<rect x="703" y="246.2" width="11" height="3.3" fill="#fff"/>
<line x1="755" y1="263.3" x2="796" y2="263.3" stroke="#fff" stroke-width="2.64" stroke-linecap="square"/>
<line x1="755" y1="279.2" x2="796" y2="279.2" stroke="#fff" stroke-width="2.64" stroke-linecap="square"/>
<rect x="771.9" y="229.75" width="162.85" height="295.25" fill="none" stroke="#fff" stroke-width="3.3" rx="5"/>
<rect x="766.9" y="247.7" width="3.9" height="46.1" fill="#fff"/>
<rect x="936" y="247.5" width="4" height="46.5" fill="#fff"/>
<rect x="766.9" y="317.7" width="3.9" height="53.8" fill="#fff"/>
<rect x="936" y="317.5" width="4" height="54.2" fill="#fff"/>
<rect x="766.9" y="395.1" width="3.9" height="77.9" fill="#fff"/>
<rect x="936" y="394.9" width="4" height="78.3" fill="#fff"/>
<line x1="795.6" y1="252.6" x2="910.6" y2="252.6" stroke="#fff" stroke-width="3.3" stroke-linecap="square"/>
<line x1="796" y1="505.6" x2="910.6" y2="505.6" stroke="#fff" stroke-width="3.3" stroke-linecap="square"/>
<line x1="797.5" y1="252.6" x2="797.5" y2="262.6" stroke="#fff" stroke-width="3.3" stroke-linecap="square"/>
<line x1="797.5" y1="280.75" x2="797.5" y2="335" stroke="#fff" stroke-width="3.3" stroke-linecap="square"/>
<line x1="797.5" y1="353.4" x2="797.5" y2="417.5" stroke="#fff" stroke-width="3.3" stroke-linecap="square"/>
<line x1="797.5" y1="450.6" x2="797.5" y2="505.6" stroke="#fff" stroke-width="3.3" stroke-linecap="square"/>
<line x1="909.4" y1="252.6" x2="909.4" y2="262.6" stroke="#fff" stroke-width="3.3" stroke-linecap="square"/>
<line x1="909.4" y1="280.75" x2="909.4" y2="335" stroke="#fff" stroke-width="3.3" stroke-linecap="square"/>
<line x1="909.4" y1="353.4" x2="909.4" y2="417.5" stroke="#fff" stroke-width="3.3" stroke-linecap="square"/>
<line x1="909.4" y1="450.6" x2="909.4" y2="505.6" stroke="#fff" stroke-width="3.3" stroke-linecap="square"/>
<line x1="771.9" y1="255.2" x2="797.5" y2="255.2" stroke="#fff" stroke-width="3.96" stroke-linecap="square"/>
<line x1="771.9" y1="286.9" x2="797.5" y2="286.9" stroke="#fff" stroke-width="3.96" stroke-linecap="square"/>
<line x1="909.4" y1="255.2" x2="934.75" y2="255.2" stroke="#fff" stroke-width="4.84" stroke-linecap="square"/>
<line x1="909.4" y1="286.9" x2="934.75" y2="286.9" stroke="#fff" stroke-width="4.84" stroke-linecap="square"/>
<rect x="773.8" y="258" width="9.7" height="3.4" fill="#000"/>
<rect x="773.8" y="281" width="9.7" height="3.5" fill="#000"/>
<rect x="785.5" y="256.5" width="7.5" height="5.8" fill="none" stroke="#fff" stroke-width="2.2"/>
<line x1="786.5" y1="257.5" x2="792" y2="261.3" stroke="#fff" stroke-width="1.8"/>
<line x1="792" y1="257.5" x2="786.5" y2="261.3" stroke="#fff" stroke-width="1.8"/>
<rect x="785.5" y="280.5" width="7.5" height="6" fill="none" stroke="#fff" stroke-width="2.2"/>
<line x1="786.5" y1="281.5" x2="792" y2="285.5" stroke="#fff" stroke-width="1.8"/>
<line x1="792" y1="281.5" x2="786.5" y2="285.5" stroke="#fff" stroke-width="1.8"/>
<line x1="783.8" y1="254" x2="783.8" y2="263" stroke="#fff" stroke-width="2.2" stroke-linecap="square"/>
<line x1="783.8" y1="279.5" x2="783.8" y2="288" stroke="#fff" stroke-width="2.2" stroke-linecap="square"/>
<rect x="912" y="257" width="7.5" height="5.5" fill="none" stroke="#fff" stroke-width="2.2"/>
<line x1="913" y1="258" x2="918.5" y2="261.5" stroke="#fff" stroke-width="1.8"/>
<line x1="918.5" y1="258" x2="913" y2="261.5" stroke="#fff" stroke-width="1.8"/>
<rect x="912" y="280.7" width="7.5" height="5.5" fill="none" stroke="#fff" stroke-width="2.2"/>
<line x1="913" y1="281.7" x2="918.5" y2="285.2" stroke="#fff" stroke-width="1.8"/>
<line x1="918.5" y1="281.7" x2="913" y2="285.2" stroke="#fff" stroke-width="1.8"/>
<rect x="911.5" y="264.5" width="8" height="14.2" fill="none" stroke="#fff" stroke-width="2.64"/>
<line x1="922.3" y1="257" x2="922.3" y2="286" stroke="#fff" stroke-width="2.86" stroke-linecap="square"/>
<rect x="923.5" y="259" width="9.8" height="25.5" fill="none" stroke="#fff" stroke-width="1.6"/>
<line x1="796" y1="262.6" x2="810" y2="262.6" stroke="#fff" stroke-width="2.64" stroke-linecap="square"/>
<line x1="796" y1="280.75" x2="810" y2="280.75" stroke="#fff" stroke-width="2.64" stroke-linecap="square"/>
<line x1="845.6" y1="262.6" x2="920" y2="262.6" stroke="#fff" stroke-width="2.86" stroke-linecap="square"/>
<line x1="845.6" y1="280.75" x2="920" y2="280.75" stroke="#fff" stroke-width="2.86" stroke-linecap="square"/>
<rect x="810" y="257.9" width="35.7" height="26.8" fill="none" stroke="#fff" stroke-width="3.3"/>
<line x1="803" y1="256.6" x2="852" y2="256.6" stroke="#ffd0d0" stroke-width="1.4"/>
<path d="M809.4,335 L809.4,286.6 L846.25,286.6 L846.25,335" fill="none" stroke="#fff" stroke-width="3.08" stroke-linejoin="miter" stroke-linecap="square"/>
<line x1="809.4" y1="288.6" x2="846.25" y2="288.6" stroke="#fff" stroke-width="2.2" stroke-linecap="square"/>
<path d="M809.4,292 L820.6,295.75 L820.6,322 L809.4,325.75" fill="none" stroke="#fff" stroke-width="2.64" stroke-linejoin="miter" stroke-linecap="square"/>
<path d="M846.25,292 L835.6,295.75 L835.6,322 L846.25,325.75" fill="none" stroke="#fff" stroke-width="2.64" stroke-linejoin="miter" stroke-linecap="square"/>
<line x1="820.6" y1="300" x2="835.6" y2="300" stroke="#fff" stroke-width="2.64" stroke-linecap="square"/>
<line x1="820.6" y1="317" x2="835.6" y2="317" stroke="#fff" stroke-width="2.64" stroke-linecap="square"/>
<path d="M809.4,353.4 L809.4,402.2 L846.25,402.2 L846.25,353.4" fill="none" stroke="#fff" stroke-width="3.08" stroke-linejoin="miter" stroke-linecap="square"/>
<line x1="809.4" y1="400.2" x2="846.25" y2="400.2" stroke="#fff" stroke-width="2.2" stroke-linecap="square"/>
<path d="M809.4,396.8 L820.6,393.05 L820.6,366.8 L809.4,363.05" fill="none" stroke="#fff" stroke-width="2.64" stroke-linejoin="miter" stroke-linecap="square"/>
<path d="M846.25,396.8 L835.6,393.05 L835.6,366.8 L846.25,363.05" fill="none" stroke="#fff" stroke-width="2.64" stroke-linejoin="miter" stroke-linecap="square"/>
<line x1="820.6" y1="388.8" x2="835.6" y2="388.8" stroke="#fff" stroke-width="2.64" stroke-linecap="square"/>
<line x1="820.6" y1="371.8" x2="835.6" y2="371.8" stroke="#fff" stroke-width="2.64" stroke-linecap="square"/>
<rect x="848" y="320.6" width="50" height="45.4" fill="none" stroke="#fff" stroke-width="2.86"/>
<line x1="848" y1="335" x2="898" y2="335" stroke="#fff" stroke-width="3.3" stroke-linecap="square"/>
<line x1="848" y1="353.8" x2="898" y2="353.8" stroke="#fff" stroke-width="3.3" stroke-linecap="square"/>
<line x1="809.4" y1="335" x2="898" y2="335" stroke="#fff" stroke-width="3.3" stroke-linecap="square"/>
<line x1="809.4" y1="353.8" x2="898" y2="353.8" stroke="#fff" stroke-width="3.3" stroke-linecap="square"/>
<line x1="771.9" y1="326.6" x2="797.5" y2="326.6" stroke="#fff" stroke-width="3.3" stroke-linecap="square"/>
<line x1="771.9" y1="364.2" x2="797.5" y2="364.2" stroke="#fff" stroke-width="3.3" stroke-linecap="square"/>
<line x1="909.4" y1="326.6" x2="934.75" y2="326.6" stroke="#fff" stroke-width="3.3" stroke-linecap="square"/>
<line x1="909.4" y1="364.2" x2="934.75" y2="364.2" stroke="#fff" stroke-width="3.3" stroke-linecap="square"/>
<rect x="785" y="335.6" width="24.4" height="17.8" fill="none" stroke="#fff" stroke-width="3.08"/>
<line x1="785" y1="326.6" x2="785" y2="364.2" stroke="#fff" stroke-width="2.64" stroke-linecap="square"/>
<rect x="786.2" y="328" width="9.8" height="6.4" fill="none" stroke="#fff" stroke-width="2.2"/>
<line x1="787.2" y1="329" x2="795" y2="333.4" stroke="#fff" stroke-width="1.8"/>
<line x1="795" y1="329" x2="787.2" y2="333.4" stroke="#fff" stroke-width="1.8"/>
<rect x="786.2" y="354.8" width="9.8" height="7.8" fill="none" stroke="#fff" stroke-width="2.2"/>
<line x1="787.2" y1="355.8" x2="795" y2="361.6" stroke="#fff" stroke-width="1.8"/>
<line x1="795" y1="355.8" x2="787.2" y2="361.6" stroke="#fff" stroke-width="1.8"/>
<rect x="898" y="335.6" width="25" height="17.8" fill="none" stroke="#fff" stroke-width="3.08"/>
<line x1="923" y1="326.6" x2="923" y2="364.2" stroke="#fff" stroke-width="2.64" stroke-linecap="square"/>
<rect x="911" y="328" width="10.8" height="6.4" fill="none" stroke="#fff" stroke-width="2.2"/>
<line x1="912" y1="329" x2="920.8" y2="333.4" stroke="#fff" stroke-width="1.8"/>
<line x1="920.8" y1="329" x2="912" y2="333.4" stroke="#fff" stroke-width="1.8"/>
<rect x="911" y="354.8" width="10.8" height="7.8" fill="none" stroke="#fff" stroke-width="2.2"/>
<line x1="912" y1="355.8" x2="920.8" y2="361.6" stroke="#fff" stroke-width="1.8"/>
<line x1="920.8" y1="355.8" x2="912" y2="361.6" stroke="#fff" stroke-width="1.8"/>
<path d="M848,417.8 L848,369.6 L897.6,369.6 L897.6,417.8" fill="none" stroke="#fff" stroke-width="3.08" stroke-linejoin="miter" stroke-linecap="square"/>
<line x1="848" y1="371.2" x2="897.6" y2="371.2" stroke="#fff" stroke-width="2.2" stroke-linecap="square"/>
<path d="M848,376.9 L866.25,381.25 L866.25,401.25 L848,407.5" fill="none" stroke="#fff" stroke-width="2.64" stroke-linejoin="miter" stroke-linecap="square"/>
<path d="M897.6,376.9 L879.4,381.25 L879.4,401.25 L897.6,407.5" fill="none" stroke="#fff" stroke-width="2.64" stroke-linejoin="miter" stroke-linecap="square"/>
<line x1="866.25" y1="384.4" x2="879.4" y2="384.4" stroke="#fff" stroke-width="2.64" stroke-linecap="square"/>
<line x1="866.25" y1="397.5" x2="879.4" y2="397.5" stroke="#fff" stroke-width="2.64" stroke-linecap="square"/>
<path d="M848,450.4 L848,499.2 L897.6,499.2 L897.6,450.4" fill="none" stroke="#fff" stroke-width="3.08" stroke-linejoin="miter" stroke-linecap="square"/>
<line x1="848" y1="497.6" x2="897.6" y2="497.6" stroke="#fff" stroke-width="2.2" stroke-linecap="square"/>
<path d="M848,493.5 L867,489.4 L867,465.2 L848,461" fill="none" stroke="#fff" stroke-width="2.64" stroke-linejoin="miter" stroke-linecap="square"/>
<path d="M897.6,493.5 L879.8,489.4 L879.8,465.2 L897.6,461" fill="none" stroke="#fff" stroke-width="2.64" stroke-linejoin="miter" stroke-linecap="square"/>
<line x1="867" y1="483.6" x2="879.8" y2="483.6" stroke="#fff" stroke-width="2.64" stroke-linecap="square"/>
<line x1="867" y1="472.2" x2="879.8" y2="472.2" stroke="#fff" stroke-width="2.64" stroke-linecap="square"/>
<line x1="750.8" y1="418.6" x2="848" y2="418.6" stroke="#fff" stroke-width="3.3" stroke-linecap="square"/>
<line x1="750.8" y1="450.6" x2="848" y2="450.6" stroke="#fff" stroke-width="3.3" stroke-linecap="square"/>
<line x1="794.4" y1="418" x2="794.4" y2="450.4" stroke="#fff" stroke-width="2.86" stroke-linecap="square"/>
<line x1="897.6" y1="418.6" x2="925" y2="418.6" stroke="#fff" stroke-width="3.08" stroke-linecap="square"/>
<line x1="897.6" y1="450.2" x2="925" y2="450.2" stroke="#fff" stroke-width="3.08" stroke-linecap="square"/>
<line x1="925.4" y1="408.5" x2="925.4" y2="459.5" stroke="#fff" stroke-width="2.86" stroke-linecap="square"/>
<line x1="771.9" y1="406.3" x2="797.5" y2="406.3" stroke="#fff" stroke-width="3.08" stroke-linecap="square"/>
<line x1="771.9" y1="463" x2="797.5" y2="463" stroke="#fff" stroke-width="3.08" stroke-linecap="square"/>
<line x1="909.4" y1="406.3" x2="934.75" y2="406.3" stroke="#fff" stroke-width="3.08" stroke-linecap="square"/>
<line x1="909.4" y1="463" x2="934.75" y2="463" stroke="#fff" stroke-width="3.08" stroke-linecap="square"/>
<rect x="783.5" y="408.3" width="9" height="8.2" fill="none" stroke="#fff" stroke-width="2.2"/>
<line x1="784.5" y1="409.3" x2="791.5" y2="415.5" stroke="#fff" stroke-width="1.8"/>
<line x1="791.5" y1="409.3" x2="784.5" y2="415.5" stroke="#fff" stroke-width="1.8"/>
<rect x="783.5" y="452.5" width="9" height="8.5" fill="none" stroke="#fff" stroke-width="2.2"/>
<rect x="784.5" y="454.35" width="7" height="4.8" fill="#fff"/>
<circle cx="788" cy="456.75" r="2.2" fill="#000" stroke="#fff" stroke-width="1.2"/>
<rect x="914.5" y="408.3" width="8.5" height="8.2" fill="none" stroke="#fff" stroke-width="2.2"/>
<rect x="915.5" y="410" width="6.5" height="4.8" fill="#fff"/>
<circle cx="918.75" cy="412.4" r="2.2" fill="#000" stroke="#fff" stroke-width="1.2"/>
<rect x="914.5" y="452.5" width="8.5" height="8.5" fill="none" stroke="#fff" stroke-width="2.2"/>
<line x1="915.5" y1="453.5" x2="922" y2="460" stroke="#fff" stroke-width="1.8"/>
<line x1="922" y1="453.5" x2="915.5" y2="460" stroke="#fff" stroke-width="1.8"/>
<line x1="781.5" y1="406.3" x2="781.5" y2="418" stroke="#fff" stroke-width="2.2" stroke-linecap="square"/>
<line x1="781.5" y1="450.4" x2="781.5" y2="463" stroke="#fff" stroke-width="2.2" stroke-linecap="square"/>
<rect x="899.5" y="410.5" width="3.5" height="6" fill="#fff"/>
<rect x="899.5" y="452.3" width="5.5" height="5.2" fill="#fff" rx="2.5"/>
<circle cx="781.5" cy="238.5" r="4" fill="#fff" stroke="#fff" stroke-width="1.6"/>
<circle cx="855" cy="238.5" r="4" fill="#fff" stroke="#fff" stroke-width="1.6"/>
<circle cx="925.25" cy="238.5" r="4" fill="#fff" stroke="#fff" stroke-width="1.6"/>
<circle cx="781.5" cy="304.5" r="4" fill="#fff" stroke="#fff" stroke-width="1.6"/>
<circle cx="925.25" cy="304.5" r="4" fill="#fff" stroke="#fff" stroke-width="1.6"/>
<circle cx="781.5" cy="381.25" r="4" fill="#fff" stroke="#fff" stroke-width="1.6"/>
<circle cx="925.6" cy="381.25" r="4" fill="#fff" stroke="#fff" stroke-width="1.6"/>
<circle cx="781.5" cy="516.25" r="4" fill="#fff" stroke="#fff" stroke-width="1.6"/>
<circle cx="855" cy="516.25" r="4" fill="#fff" stroke="#fff" stroke-width="1.6"/>
<circle cx="925.25" cy="516.25" r="4" fill="#fff" stroke="#fff" stroke-width="1.6"/>
<rect x="143.3" y="922.8" width="817.7" height="42.2" fill="none" stroke="#fff" stroke-width="3.25"/>
<line x1="213.3" y1="913.5" x2="533.3" y2="913.5" stroke="#fff" stroke-width="3.25" stroke-linecap="square"/>
<path d="M213.3,719 H185 Q181.7,719 181.7,722.3 V883.5 Q181.7,886.8 185,886.8 H186" fill="none" stroke="#fff" stroke-width="2.75" stroke-linejoin="miter" stroke-linecap="butt"/>
<line x1="185.6" y1="720" x2="185.6" y2="886" stroke="#fff" stroke-width="2.53"/>
<line x1="188.2" y1="775" x2="188.2" y2="922.8" stroke="#fff" stroke-width="2.75" stroke-linecap="square"/>
<line x1="213.3" y1="719" x2="213.3" y2="922.8" stroke="#fff" stroke-width="3.25" stroke-linecap="square"/>
<line x1="213.3" y1="749.2" x2="226" y2="749.2" stroke="#fff" stroke-width="3.25" stroke-linecap="square"/>
<line x1="187" y1="775" x2="213.3" y2="775" stroke="#fff" stroke-width="3.25" stroke-linecap="square"/>
<line x1="188" y1="791.8" x2="213.3" y2="791.8" stroke="#fff" stroke-width="1.6"/>
<line x1="188" y1="839.2" x2="213.3" y2="839.2" stroke="#fff" stroke-width="1.6"/>
<path d="M225.8,820 L225.8,649.6 L231.7,649.6 L231.7,820" fill="none" stroke="#fff" stroke-width="3.25" stroke-linejoin="miter" stroke-linecap="square"/>
<path d="M225.8,858 L225.8,901.7 L231.7,901.7 L231.7,858" fill="none" stroke="#fff" stroke-width="3.25" stroke-linejoin="miter" stroke-linecap="square"/>
<line x1="231.7" y1="712.5" x2="441.5" y2="712.5" stroke="#fff" stroke-width="3.25" stroke-linecap="square"/>
<line x1="213.3" y1="820" x2="444.2" y2="820" stroke="#fff" stroke-width="3.25" stroke-linecap="square"/>
<line x1="213.3" y1="858" x2="444.2" y2="858" stroke="#fff" stroke-width="3.25" stroke-linecap="square"/>
<path d="M441.5,817.5 L441.5,648.3 L447.3,648.3" fill="none" stroke="#fff" stroke-width="3.25" stroke-linejoin="miter" stroke-linecap="square"/>
<line x1="447.3" y1="648.3" x2="447.3" y2="775.8" stroke="#fff" stroke-width="3.25" stroke-linecap="square"/>
<line x1="441.5" y1="860.8" x2="441.5" y2="902.5" stroke="#fff" stroke-width="3.25" stroke-linecap="square"/>
<path d="M445,818 V860.5 M448,821 V857.5 M450.2,818 V860.5 M445,818 H450.2 M445,860.5 H450.2" fill="none" stroke="#fff" stroke-width="1" stroke-linejoin="miter" stroke-linecap="butt"/>
<path d="M525.2,818 V860.5 M527.6,821 V857.5 M530,818 V860.5 M525.2,818 H530 M525.2,860.5 H530" fill="none" stroke="#fff" stroke-width="1" stroke-linejoin="miter" stroke-linecap="butt"/>
<path d="M447.3,648.3 L525.8,648.3 L525.8,775.8" fill="none" stroke="#fff" stroke-width="3.25" stroke-linejoin="miter" stroke-linecap="square"/>
<line x1="447.3" y1="775.8" x2="525.8" y2="775.8" stroke="#fff" stroke-width="3.25" stroke-linecap="square"/>
<line x1="449.2" y1="775.8" x2="449.2" y2="817.5" stroke="#fff" stroke-width="3.25" stroke-linecap="square"/>
<line x1="449.2" y1="860.8" x2="449.2" y2="902.5" stroke="#fff" stroke-width="3.25" stroke-linecap="square"/>
<line x1="524.2" y1="775.8" x2="524.2" y2="817.5" stroke="#fff" stroke-width="3.25" stroke-linecap="square"/>
<line x1="524.2" y1="860.8" x2="524.2" y2="902.5" stroke="#fff" stroke-width="3.25" stroke-linecap="square"/>
<line x1="441.5" y1="902.5" x2="525.8" y2="902.5" stroke="#fff" stroke-width="3.25" stroke-linecap="square"/>
<line x1="525.8" y1="749.2" x2="538" y2="749.2" stroke="#fff" stroke-width="3.25" stroke-linecap="square"/>
<line x1="527" y1="801.7" x2="533.3" y2="801.7" stroke="#fff" stroke-width="2.42" stroke-linecap="square"/>
<line x1="530" y1="827" x2="533.3" y2="827" stroke="#fff" stroke-width="2.2" stroke-linecap="square"/>
<line x1="530" y1="853" x2="533.3" y2="853" stroke="#fff" stroke-width="2.2" stroke-linecap="square"/>
<path d="M538,792.5 L538,719.2 L568.8,719.2 L568.8,792" fill="none" stroke="#fff" stroke-width="3.25" stroke-linejoin="miter" stroke-linecap="square"/>
<line x1="562.7" y1="719.2" x2="562.7" y2="792.5" stroke="#fff" stroke-width="3.25" stroke-linecap="square"/>
<line x1="538" y1="775" x2="562.7" y2="775" stroke="#fff" stroke-width="3.25" stroke-linecap="square"/>
<path d="M533.3,922.8 L533.3,792.5 L566,792.5" fill="none" stroke="#fff" stroke-width="3.25" stroke-linejoin="miter" stroke-linecap="square"/>
<line x1="558.3" y1="792.5" x2="558.3" y2="922.8" stroke="#fff" stroke-width="3.25" stroke-linecap="square"/>
<path d="M565.5,792.5 L565.5,886.7 L558.3,886.7" fill="none" stroke="#fff" stroke-width="2.42" stroke-linejoin="miter" stroke-linecap="square"/>
<line x1="561" y1="886.7" x2="561" y2="915" stroke="#fff" stroke-width="1.6" stroke-linecap="square"/>
<line x1="533.3" y1="839.2" x2="558.3" y2="839.2" stroke="#fff" stroke-width="3.25" stroke-linecap="square"/>
<path d="M560.5,914.3 Q574.5,914.8 577.3,922.8" fill="none" stroke="#fff" stroke-width="2.2" stroke-linejoin="miter" stroke-linecap="butt"/>
<path d="M570,727.14 A5.22,6.16 0 0 1 570,739.46 Z" fill="#fff" stroke="#fff" stroke-width="0.8"/>
<line x1="571.6" y1="730.53" x2="571.6" y2="736.07" stroke="#555" stroke-width="0.7"/>
<path d="M570,748.04 A5.22,6.16 0 0 1 570,760.36 Z" fill="#fff" stroke="#fff" stroke-width="0.8"/>
<line x1="571.6" y1="751.43" x2="571.6" y2="756.97" stroke="#555" stroke-width="0.7"/>
<path d="M567,790.54 A5.22,6.16 0 0 1 567,802.86 Z" fill="#fff" stroke="#fff" stroke-width="0.8"/>
<line x1="568.6" y1="793.93" x2="568.6" y2="799.47" stroke="#555" stroke-width="0.7"/>
<path d="M567,810.54 A5.22,6.16 0 0 1 567,822.86 Z" fill="#fff" stroke="#fff" stroke-width="0.8"/>
<line x1="568.6" y1="813.93" x2="568.6" y2="819.47" stroke="#555" stroke-width="0.7"/>
<path d="M567,845.54 A5.22,6.16 0 0 1 567,857.86 Z" fill="#fff" stroke="#fff" stroke-width="0.8"/>
<line x1="568.6" y1="848.93" x2="568.6" y2="854.47" stroke="#555" stroke-width="0.7"/>
<path d="M567,868.84 A5.22,6.16 0 0 1 567,881.16 Z" fill="#fff" stroke="#fff" stroke-width="0.8"/>
<line x1="568.6" y1="872.23" x2="568.6" y2="877.77" stroke="#555" stroke-width="0.7"/>
<path d="M566.5,823.96 A4.27,5.04 0 0 1 566.5,834.04 Z" fill="#fff" stroke="#fff" stroke-width="0.8"/>
<line x1="568.1" y1="826.73" x2="568.1" y2="831.27" stroke="#555" stroke-width="0.7"/>
<line x1="570" y1="823.3" x2="584.2" y2="823.3" stroke="#fff" stroke-width="2.42" stroke-linecap="square"/>
<line x1="570" y1="856.7" x2="584.2" y2="856.7" stroke="#fff" stroke-width="2.42" stroke-linecap="square"/>
<rect x="584.2" y="814.2" width="165.8" height="50" fill="none" stroke="#fff" stroke-width="3.25"/>
<rect x="655.5" y="811.5" width="23.2" height="55.5" fill="#000"/>
<rect x="654.2" y="795" width="25.8" height="88.3" fill="none" stroke="#fff" stroke-width="3.25"/>
<line x1="667.3" y1="795" x2="667.3" y2="883.3" stroke="#fff" stroke-width="3.3" stroke-linecap="square"/>
<path d="M653,798.5 H645 Q641.5,798.5 641.5,802.5 Q641.5,806.5 645,806.5 H653 M647,797 V808 M650,797 V808" fill="none" stroke="#fff" stroke-width="1" stroke-linejoin="miter" stroke-linecap="butt"/>
<rect x="646" y="797" width="7" height="11" fill="none" stroke="#fff" stroke-width="1"/>
<rect x="681" y="797.5" width="5.5" height="10" fill="none" stroke="#fff" stroke-width="1"/>
<line x1="683.5" y1="797.5" x2="683.5" y2="807.5" stroke="#fff" stroke-width="1"/>
<path d="M653,835.2 H645 Q641.5,835.2 641.5,839.2 Q641.5,843.2 645,843.2 H653 M647,833.7 V844.7 M650,833.7 V844.7" fill="none" stroke="#fff" stroke-width="1" stroke-linejoin="miter" stroke-linecap="butt"/>
<rect x="646" y="833.7" width="7" height="11" fill="none" stroke="#fff" stroke-width="1"/>
<rect x="681" y="834.2" width="5.5" height="10" fill="none" stroke="#fff" stroke-width="1"/>
<line x1="683.5" y1="834.2" x2="683.5" y2="844.2" stroke="#fff" stroke-width="1"/>
<path d="M653,871 H645 Q641.5,871 641.5,875 Q641.5,879 645,879 H653 M647,869.5 V880.5 M650,869.5 V880.5" fill="none" stroke="#fff" stroke-width="1" stroke-linejoin="miter" stroke-linecap="butt"/>
<rect x="646" y="869.5" width="7" height="11" fill="none" stroke="#fff" stroke-width="1"/>
<rect x="681" y="870" width="5.5" height="10" fill="none" stroke="#fff" stroke-width="1"/>
<line x1="683.5" y1="870" x2="683.5" y2="880" stroke="#fff" stroke-width="1"/>
<path d="M696.7,812.5 L699,810 H724.5 L726.7,812.5" fill="none" stroke="#fff" stroke-width="1" stroke-linejoin="miter" stroke-linecap="butt"/>
<rect x="701.5" y="809.3" width="20.5" height="3.7" fill="#fff"/>
<path d="M696.7,866 L699,868.5 H724.5 L726.7,866" fill="none" stroke="#fff" stroke-width="1" stroke-linejoin="miter" stroke-linecap="butt"/>
<rect x="701.5" y="865.5" width="20.5" height="3.5" fill="#fff"/>
<line x1="750" y1="823.3" x2="766.7" y2="823.3" stroke="#fff" stroke-width="2.42" stroke-linecap="square"/>
<line x1="750" y1="856.7" x2="766.7" y2="856.7" stroke="#fff" stroke-width="2.42" stroke-linecap="square"/>
<rect x="787.5" y="761.7" width="131.2" height="148.3" fill="none" stroke="#fff" stroke-width="3.25"/>
<path d="M805,760.5 V758 Q806,753 822,752.6 H884 Q900,753 900.9,758 V760.5" fill="none" stroke="#fff" stroke-width="2.64" stroke-linejoin="miter" stroke-linecap="butt"/>
<path d="M787.5,801.7 L772.1,801.7 L772.1,876.7 L787.5,876.7" fill="none" stroke="#fff" stroke-width="2.75" stroke-linejoin="miter" stroke-linecap="square"/>
<path d="M918.7,801.7 L934.4,801.7 L934.4,876.7 L918.7,876.7" fill="none" stroke="#fff" stroke-width="2.75" stroke-linejoin="miter" stroke-linecap="square"/>
<line x1="769.4" y1="800.5" x2="769.4" y2="877.5" stroke="#fff" stroke-width="1.1"/>
<line x1="937" y1="800.5" x2="937" y2="877.5" stroke="#fff" stroke-width="1.1"/>
<rect x="772.3" y="833.6" width="161.9" height="11.4" fill="#fff"/>
<line x1="774" y1="837.3" x2="933" y2="837.3" stroke="#3a3a3a" stroke-width="0.8"/>
<line x1="774" y1="840.9" x2="933" y2="840.9" stroke="#3a3a3a" stroke-width="0.8"/>
<rect x="774.6" y="825" width="12.7" height="7" fill="#fff" rx="1.6"/>
<rect x="772.4" y="831" width="17.3" height="3.5" fill="#fff" rx="1.2"/>
<path d="M774.7,845 H787.5 V851 Q787.3,856 784.5,856 H777.5 Q774.7,856 774.7,851 Z" fill="#fff"/>
<line x1="780.9" y1="847.5" x2="780.9" y2="850.5" stroke="#222" stroke-width="1"/>
<line x1="780.9" y1="826.5" x2="780.9" y2="829.5" stroke="#222" stroke-width="1"/>
<rect x="848.5" y="825" width="12.7" height="7" fill="#fff" rx="1.6"/>
<rect x="846.3" y="831" width="17.3" height="3.5" fill="#fff" rx="1.2"/>
<path d="M848.6,845 H861.4 V851 Q861.2,856 858.4,856 H851.4 Q848.6,856 848.6,851 Z" fill="#fff"/>
<line x1="854.8" y1="847.5" x2="854.8" y2="850.5" stroke="#222" stroke-width="1"/>
<line x1="854.8" y1="826.5" x2="854.8" y2="829.5" stroke="#222" stroke-width="1"/>
<rect x="919.5" y="825" width="12.7" height="7" fill="#fff" rx="1.6"/>
<rect x="917.3" y="831" width="17.3" height="3.5" fill="#fff" rx="1.2"/>
<path d="M919.6,845 H932.4 V851 Q932.2,856 929.4,856 H922.4 Q919.6,856 919.6,851 Z" fill="#fff"/>
<line x1="925.8" y1="847.5" x2="925.8" y2="850.5" stroke="#222" stroke-width="1"/>
<line x1="925.8" y1="826.5" x2="925.8" y2="829.5" stroke="#222" stroke-width="1"/>
<path d="M937.2,800.8 A7,6.3 0 0 1 937.2,813.4 Z" fill="#fff" stroke="#fff" stroke-width="0.8"/>
<line x1="938.8" y1="804.26" x2="938.8" y2="809.94" stroke="#555" stroke-width="0.7"/>
<path d="M769.3,800.8 A7.3,6.3 0 0 0 769.3,813.4 Z" fill="#fff" stroke="#fff" stroke-width="0.8"/>
<line x1="767.7" y1="804.26" x2="767.7" y2="809.94" stroke="#555" stroke-width="0.7"/>
<path d="M937.2,823.3 A7,6.3 0 0 1 937.2,835.9 Z" fill="#fff" stroke="#fff" stroke-width="0.8"/>
<line x1="938.8" y1="826.76" x2="938.8" y2="832.44" stroke="#555" stroke-width="0.7"/>
<path d="M769.3,823.3 A7.3,6.3 0 0 0 769.3,835.9 Z" fill="#fff" stroke="#fff" stroke-width="0.8"/>
<line x1="767.7" y1="826.76" x2="767.7" y2="832.44" stroke="#555" stroke-width="0.7"/>
<path d="M937.2,842.5 A7,6.3 0 0 1 937.2,855.1 Z" fill="#fff" stroke="#fff" stroke-width="0.8"/>
<line x1="938.8" y1="845.96" x2="938.8" y2="851.63" stroke="#555" stroke-width="0.7"/>
<path d="M769.3,842.5 A7.3,6.3 0 0 0 769.3,855.1 Z" fill="#fff" stroke="#fff" stroke-width="0.8"/>
<line x1="767.7" y1="845.96" x2="767.7" y2="851.63" stroke="#555" stroke-width="0.7"/>
<path d="M937.2,864.3 A7,6.3 0 0 1 937.2,876.9 Z" fill="#fff" stroke="#fff" stroke-width="0.8"/>
<line x1="938.8" y1="867.76" x2="938.8" y2="873.44" stroke="#555" stroke-width="0.7"/>
<path d="M769.3,864.3 A7.3,6.3 0 0 0 769.3,876.9 Z" fill="#fff" stroke="#fff" stroke-width="0.8"/>
<line x1="767.7" y1="867.76" x2="767.7" y2="873.44" stroke="#555" stroke-width="0.7"/>
<line x1="775" y1="877.5" x2="782.5" y2="909" stroke="#fff" stroke-width="2.42" stroke-linecap="square"/>
<line x1="931.7" y1="877.5" x2="924.2" y2="909" stroke="#fff" stroke-width="2.42" stroke-linecap="square"/>
<rect x="771.2" y="910" width="163.8" height="12.8" fill="none" stroke="#fff" stroke-width="2.64"/>
<line x1="776.7" y1="910" x2="776.7" y2="922.8" stroke="#fff" stroke-width="2.2" stroke-linecap="square"/>
<line x1="930" y1="910" x2="930" y2="922.8" stroke="#fff" stroke-width="2.2" stroke-linecap="square"/>
<line x1="1226.7" y1="643.5" x2="1226.7" y2="1013" stroke="#fff" stroke-width="2.86" stroke-linecap="square"/>
<line x1="1226.7" y1="643.5" x2="1451" y2="643.5" stroke="#fff" stroke-width="2.86" stroke-linecap="square"/>
<line x1="1229.3" y1="643.5" x2="1229.3" y2="1013" stroke="#ececec" stroke-width="1.2"/>
<line x1="1229.3" y1="653.57" x2="1451" y2="653.57" stroke="#ececec" stroke-width="1.2"/>
<line x1="1229.3" y1="663.63" x2="1451" y2="663.63" stroke="#ececec" stroke-width="1.2"/>
<line x1="1229.3" y1="673.7" x2="1451" y2="673.7" stroke="#ececec" stroke-width="1.2"/>
<line x1="1229.3" y1="683.76" x2="1451" y2="683.76" stroke="#ececec" stroke-width="1.2"/>
<line x1="1229.3" y1="693.83" x2="1451" y2="693.83" stroke="#ececec" stroke-width="1.2"/>
<line x1="1229.3" y1="703.89" x2="1451" y2="703.89" stroke="#ececec" stroke-width="1.2"/>
<line x1="1229.3" y1="713.96" x2="1451" y2="713.96" stroke="#ececec" stroke-width="1.2"/>
<line x1="1229.3" y1="724.02" x2="1451" y2="724.02" stroke="#ececec" stroke-width="1.2"/>
<line x1="1229.3" y1="734.09" x2="1451" y2="734.09" stroke="#ececec" stroke-width="1.2"/>
<line x1="1229.3" y1="744.16" x2="1451" y2="744.16" stroke="#ececec" stroke-width="1.2"/>
<line x1="1229.3" y1="754.22" x2="1451" y2="754.22" stroke="#ececec" stroke-width="1.2"/>
<line x1="1229.3" y1="764.29" x2="1451" y2="764.29" stroke="#ececec" stroke-width="1.2"/>
<line x1="1229.3" y1="774.35" x2="1451" y2="774.35" stroke="#ececec" stroke-width="1.2"/>
<line x1="1229.3" y1="784.42" x2="1451" y2="784.42" stroke="#ececec" stroke-width="1.2"/>
<line x1="1229.3" y1="794.48" x2="1451" y2="794.48" stroke="#ececec" stroke-width="1.2"/>
<line x1="1229.3" y1="804.55" x2="1451" y2="804.55" stroke="#ececec" stroke-width="1.2"/>
<line x1="1229.3" y1="814.62" x2="1451" y2="814.62" stroke="#ececec" stroke-width="1.2"/>
<line x1="1229.3" y1="824.68" x2="1451" y2="824.68" stroke="#ececec" stroke-width="1.2"/>
<line x1="1229.3" y1="834.75" x2="1451" y2="834.75" stroke="#ececec" stroke-width="1.2"/>
<line x1="1229.3" y1="844.81" x2="1451" y2="844.81" stroke="#ececec" stroke-width="1.2"/>
<line x1="1229.3" y1="854.88" x2="1451" y2="854.88" stroke="#ececec" stroke-width="1.2"/>
<line x1="1229.3" y1="864.94" x2="1451" y2="864.94" stroke="#ececec" stroke-width="1.2"/>
<line x1="1229.3" y1="875.01" x2="1451" y2="875.01" stroke="#ececec" stroke-width="1.2"/>
<line x1="1229.3" y1="885.08" x2="1451" y2="885.08" stroke="#ececec" stroke-width="1.2"/>
<line x1="1229.3" y1="895.14" x2="1451" y2="895.14" stroke="#ececec" stroke-width="1.2"/>
<line x1="1229.3" y1="905.21" x2="1451" y2="905.21" stroke="#ececec" stroke-width="1.2"/>
<line x1="1229.3" y1="915.27" x2="1451" y2="915.27" stroke="#ececec" stroke-width="1.2"/>
<line x1="1229.3" y1="925.34" x2="1451" y2="925.34" stroke="#ececec" stroke-width="1.2"/>
<line x1="1229.3" y1="935.4" x2="1451" y2="935.4" stroke="#ececec" stroke-width="1.2"/>
<line x1="1229.3" y1="945.47" x2="1451" y2="945.47" stroke="#ececec" stroke-width="1.2"/>
<line x1="1229.3" y1="955.53" x2="1451" y2="955.53" stroke="#ececec" stroke-width="1.2"/>
<line x1="1245" y1="643.5" x2="1245" y2="975.7" stroke="#ececec" stroke-width="1.2"/>
<line x1="1315" y1="643.5" x2="1315" y2="975.7" stroke="#ececec" stroke-width="1.2"/>
<line x1="1333.3" y1="643.5" x2="1333.3" y2="975.7" stroke="#ececec" stroke-width="1.2"/>
<line x1="1390.3" y1="643.5" x2="1390.3" y2="975.7" stroke="#ececec" stroke-width="1.2"/>
<line x1="1229.3" y1="965.6" x2="1451" y2="965.6" stroke="#fff" stroke-width="2.64" stroke-linecap="square"/>
<line x1="1229.3" y1="975.7" x2="1451" y2="975.7" stroke="#fff" stroke-width="2.64" stroke-linecap="square"/>
<line x1="1315" y1="975.7" x2="1315" y2="1013" stroke="#ececec" stroke-width="1.2"/>
<line x1="1333.3" y1="975.7" x2="1333.3" y2="995.3" stroke="#ececec" stroke-width="1.2"/>
<line x1="1390.3" y1="975.7" x2="1390.3" y2="995.3" stroke="#ececec" stroke-width="1.2"/>
<line x1="1409.2" y1="975.7" x2="1409.2" y2="995.3" stroke="#ececec" stroke-width="1.2"/>
<line x1="1315" y1="985.8" x2="1451" y2="985.8" stroke="#ececec" stroke-width="1.2"/>
<line x1="1229.3" y1="995.3" x2="1451" y2="995.3" stroke="#ececec" stroke-width="1.2"/>
<line x1="1229.3" y1="1005.3" x2="1315" y2="1005.3" stroke="#ececec" stroke-width="1.2"/>
<line x1="1280.3" y1="995.3" x2="1280.3" y2="1013" stroke="#ececec" stroke-width="1.2"/>
<line x1="1245" y1="995.3" x2="1245" y2="1013" stroke="#ececec" stroke-width="1.2"/>
<line x1="1000.3" y1="915" x2="1000.3" y2="1013" stroke="#fff" stroke-width="2.86" stroke-linecap="square"/>
<line x1="1000.3" y1="915" x2="1226.7" y2="915" stroke="#fff" stroke-width="2.86" stroke-linecap="square"/>
<line x1="1002.7" y1="915" x2="1002.7" y2="1013" stroke="#ececec" stroke-width="1.2"/>
<line x1="1002.7" y1="925" x2="1226.7" y2="925" stroke="#ececec" stroke-width="1.2"/>
<line x1="1002.7" y1="935" x2="1226.7" y2="935" stroke="#ececec" stroke-width="1.2"/>
<line x1="1002.7" y1="945" x2="1226.7" y2="945" stroke="#ececec" stroke-width="1.2"/>
<line x1="1002.7" y1="955" x2="1226.7" y2="955" stroke="#ececec" stroke-width="1.2"/>
<line x1="1002.7" y1="965.6" x2="1226.7" y2="965.6" stroke="#ececec" stroke-width="1.2"/>
<line x1="1002.7" y1="975.7" x2="1226.7" y2="975.7" stroke="#ececec" stroke-width="1.2"/>
<line x1="1002.7" y1="985.7" x2="1226.7" y2="985.7" stroke="#ececec" stroke-width="1.2"/>
<line x1="1002.7" y1="995.6" x2="1226.7" y2="995.6" stroke="#ececec" stroke-width="1.2"/>
<line x1="1002.7" y1="1005.3" x2="1226.7" y2="1005.3" stroke="#ececec" stroke-width="1.2"/>
<line x1="1020" y1="915" x2="1020" y2="1013" stroke="#ececec" stroke-width="1.2"/>
<line x1="1089" y1="915" x2="1089" y2="1013" stroke="#ececec" stroke-width="1.2"/>
<line x1="1107.5" y1="915" x2="1107.5" y2="1013" stroke="#ececec" stroke-width="1.2"/>
<line x1="1164" y1="915" x2="1164" y2="1013" stroke="#ececec" stroke-width="1.2"/>
<line x1="439" y1="147.5" x2="533" y2="147.5" stroke="#ff0000" stroke-width="1" stroke-dasharray="36 4 10 4"/>
<line x1="441.7" y1="396.7" x2="531.7" y2="396.7" stroke="#ff0000" stroke-width="1" stroke-dasharray="36 4 10 4"/>
<line x1="455.8" y1="203.3" x2="519" y2="203.3" stroke="#ff0000" stroke-width="1"/>
<line x1="455.8" y1="341.7" x2="519" y2="341.7" stroke="#ff0000" stroke-width="1"/>
<rect x="243.35" y="266.95" width="187.5" height="11.4" fill="none" stroke="#ff0000" stroke-width="3.3" rx="5.7"/>
<rect x="452.45" y="266.95" width="65.9" height="11.4" fill="none" stroke="#ff0000" stroke-width="3.3" rx="5.7"/>
<line x1="138.7" y1="272.5" x2="196" y2="272.5" stroke="#ff0000" stroke-width="1"/>
<line x1="203" y1="272.5" x2="598" y2="272.5" stroke="#ff0000" stroke-width="1" stroke-dasharray="26 4.5 6 4.5"/>
<line x1="560" y1="272.5" x2="598.5" y2="272.5" stroke="#ff0000" stroke-width="1"/>
<line x1="138.5" y1="434.2" x2="182" y2="434.2" stroke="#ff0000" stroke-width="1"/>
<line x1="184" y1="434.5" x2="447" y2="434.5" stroke="#ff0000" stroke-width="1" stroke-dasharray="26 4.5 6 4.5"/>
<line x1="524" y1="434.5" x2="584" y2="434.5" stroke="#ff0000" stroke-width="1" stroke-dasharray="24 5 6 5"/>
<line x1="444" y1="472.5" x2="531.7" y2="472.5" stroke="#ff0000" stroke-width="1" stroke-dasharray="36 4 10 4"/>
<rect x="454.15" y="429.15" width="62.5" height="10.9" fill="none" stroke="#ff0000" stroke-width="3.3" rx="5.45"/>
<line x1="547" y1="225.4" x2="575" y2="225.4" stroke="#ff0000" stroke-width="1"/>
<line x1="547" y1="319.6" x2="567" y2="319.6" stroke="#ff0000" stroke-width="1"/>
<line x1="546" y1="252.5" x2="546" y2="292.5" stroke="#ff0000" stroke-width="1"/>
<line x1="545.8" y1="396.7" x2="567.5" y2="396.7" stroke="#ff0000" stroke-width="1"/>
<line x1="545.8" y1="472.6" x2="566" y2="472.6" stroke="#ff0000" stroke-width="1"/>
<rect x="588.35" y="429.15" width="60.8" height="10.9" fill="none" stroke="#ff0000" stroke-width="3.3" rx="5.45"/>
<rect x="684.95" y="429.15" width="60.9" height="10.9" fill="none" stroke="#ff0000" stroke-width="3.3" rx="5.45"/>
<line x1="584" y1="434.5" x2="770" y2="434.5" stroke="#ff0000" stroke-width="1" stroke-dasharray="24 5 6 5"/>
<line x1="654" y1="434.5" x2="663" y2="434.5" stroke="#ff0000" stroke-width="1"/>
<line x1="671" y1="434.5" x2="680" y2="434.5" stroke="#ff0000" stroke-width="1"/>
<line x1="635" y1="395.5" x2="660" y2="395.5" stroke="#ff0000" stroke-width="1"/>
<line x1="674" y1="395.5" x2="689" y2="395.5" stroke="#ff0000" stroke-width="1"/>
<line x1="635" y1="473.7" x2="652" y2="473.7" stroke="#ff0000" stroke-width="1"/>
<line x1="660" y1="473.7" x2="672" y2="473.7" stroke="#ff0000" stroke-width="1"/>
<line x1="676" y1="473.7" x2="689" y2="473.7" stroke="#ff0000" stroke-width="1"/>
<rect x="729" y="267.5" width="22" height="7.8" fill="#ff0000" rx="3.8"/>
<line x1="736" y1="271.4" x2="744" y2="271.4" stroke="#ff0000" stroke-width="1"/>
<line x1="635.8" y1="271.4" x2="770" y2="271.4" stroke="#ff0000" stroke-width="1" stroke-dasharray="24 5 6 5"/>
<line x1="675.8" y1="247.8" x2="706" y2="247.8" stroke="#ff0000" stroke-width="1"/>
<line x1="718" y1="247.8" x2="730" y2="247.8" stroke="#ff0000" stroke-width="1"/>
<line x1="675.8" y1="294.5" x2="692" y2="294.5" stroke="#ff0000" stroke-width="1"/>
<line x1="699" y1="294.5" x2="714" y2="294.5" stroke="#ff0000" stroke-width="1"/>
<line x1="718" y1="294.5" x2="730" y2="294.5" stroke="#ff0000" stroke-width="1"/>
<line x1="140.7" y1="272.5" x2="140.7" y2="434.2" stroke="#ff0000" stroke-width="1"/>
<line x1="565.3" y1="481.7" x2="565.3" y2="534.5" stroke="#ff0000" stroke-width="1"/>
<line x1="771.5" y1="496" x2="771.5" y2="534.5" stroke="#ff0000" stroke-width="1"/>
<line x1="565.3" y1="532.8" x2="771.5" y2="532.8" stroke="#ff0000" stroke-width="1"/>
<line x1="759.2" y1="271.7" x2="759.2" y2="344.2" stroke="#ff0000" stroke-width="1"/>
<line x1="759.2" y1="344.2" x2="759.2" y2="434.2" stroke="#ff0000" stroke-width="1"/>
<line x1="754" y1="344.2" x2="800" y2="344.2" stroke="#ff0000" stroke-width="1"/>
<line x1="345.8" y1="250" x2="345.8" y2="294.7" stroke="#ff0000" stroke-width="1"/>
<line x1="336" y1="250" x2="347.5" y2="250" stroke="#ff0000" stroke-width="1"/>
<line x1="336" y1="294.7" x2="347.5" y2="294.7" stroke="#ff0000" stroke-width="1"/>
<line x1="487.8" y1="417.5" x2="487.8" y2="451.5" stroke="#ff0000" stroke-width="1"/>
<line x1="732.5" y1="420.5" x2="732.5" y2="449.5" stroke="#ff0000" stroke-width="1"/>
<line x1="721" y1="420.5" x2="734" y2="420.5" stroke="#ff0000" stroke-width="1"/>
<line x1="721" y1="449.5" x2="734" y2="449.5" stroke="#ff0000" stroke-width="1"/>
<path d="M140.7,272.5 L139.7,276.7 L141.7,276.7 Z" fill="#ff0000"/>
<path d="M140.7,434.2 L139.7,430 L141.7,430 Z" fill="#ff0000"/>
<path d="M565.3,532.8 L569.5,531.8 L569.5,533.8 Z" fill="#ff0000"/>
<path d="M771.5,532.8 L767.3,531.8 L767.3,533.8 Z" fill="#ff0000"/>
<path d="M759.2,271.7 L758.2,275.9 L760.2,275.9 Z" fill="#ff0000"/>
<path d="M759.2,344.2 L758.2,340 L760.2,340 Z" fill="#ff0000"/>
<path d="M759.2,344.2 L758.2,348.4 L760.2,348.4 Z" fill="#ff0000"/>
<path d="M759.2,434.2 L758.2,430 L760.2,430 Z" fill="#ff0000"/>
<path d="M345.8,250.5 L344.9,253.9 L346.7,253.9 Z" fill="#ff0000"/>
<path d="M345.8,294.3 L344.9,290.9 L346.7,290.9 Z" fill="#ff0000"/>
<line x1="769.4" y1="249.7" x2="769.4" y2="291.8" stroke="#d070d0" stroke-width="0.7"/>
<line x1="936.6" y1="249.7" x2="936.6" y2="291.8" stroke="#d070d0" stroke-width="0.7"/>
<line x1="769.4" y1="319.7" x2="769.4" y2="369.5" stroke="#d070d0" stroke-width="0.7"/>
<line x1="936.6" y1="319.7" x2="936.6" y2="369.5" stroke="#d070d0" stroke-width="0.7"/>
<line x1="769.4" y1="397.1" x2="769.4" y2="471" stroke="#d070d0" stroke-width="0.7"/>
<line x1="936.6" y1="397.1" x2="936.6" y2="471" stroke="#d070d0" stroke-width="0.7"/>
<line x1="801" y1="256.6" x2="811" y2="256.6" stroke="#ff0000" stroke-width="1"/>
<line x1="845" y1="256.6" x2="852" y2="256.6" stroke="#ff0000" stroke-width="1"/>
<line x1="806" y1="285.75" x2="850.6" y2="285.75" stroke="#ff0000" stroke-width="1" stroke-dasharray="18 3 5 3"/>
<line x1="760" y1="271.4" x2="948.7" y2="271.4" stroke="#ff0000" stroke-width="1" stroke-dasharray="24 5 6 5"/>
<line x1="898.75" y1="263.25" x2="898.75" y2="308" stroke="#ff0000" stroke-width="1"/>
<line x1="897.5" y1="263.25" x2="918" y2="263.25" stroke="#ff0000" stroke-width="1"/>
<line x1="897.5" y1="279" x2="918" y2="279" stroke="#ff0000" stroke-width="1"/>
<line x1="806" y1="402.5" x2="850.6" y2="402.5" stroke="#ff0000" stroke-width="1" stroke-dasharray="18 3 5 3"/>
<line x1="848" y1="319.8" x2="898" y2="319.8" stroke="#ff0000" stroke-width="1" stroke-dasharray="18 3 5 3"/>
<line x1="847.5" y1="367.75" x2="907" y2="367.75" stroke="#ff0000" stroke-width="1" stroke-dasharray="18 3 5 3"/>
<rect x="813.5" y="340.3" width="30.6" height="7.8" fill="none" stroke="#ff0000" stroke-width="3" rx="3.9"/>
<rect x="853.5" y="340.3" width="39.4" height="7.8" fill="none" stroke="#ff0000" stroke-width="3" rx="3.9"/>
<line x1="818" y1="344.4" x2="840" y2="344.4" stroke="#ff0000" stroke-width="1"/>
<line x1="858" y1="344.4" x2="889" y2="344.4" stroke="#ff0000" stroke-width="1"/>
<line x1="760" y1="344.4" x2="810" y2="344.4" stroke="#ff0000" stroke-width="1" stroke-dasharray="20 5 6 5"/>
<line x1="896" y1="344.4" x2="948" y2="344.4" stroke="#ff0000" stroke-width="1" stroke-dasharray="20 5 6 5"/>
<line x1="779.5" y1="334.5" x2="779.5" y2="381" stroke="#ff0000" stroke-width="1"/>
<line x1="778.5" y1="334.5" x2="788" y2="334.5" stroke="#ff0000" stroke-width="1"/>
<line x1="778.5" y1="353.7" x2="788" y2="353.7" stroke="#ff0000" stroke-width="1"/>
<line x1="818.8" y1="334.5" x2="818.8" y2="382" stroke="#ff0000" stroke-width="1"/>
<line x1="816.5" y1="334.5" x2="821" y2="334.5" stroke="#ff0000" stroke-width="1"/>
<line x1="816.5" y1="354" x2="821" y2="354" stroke="#ff0000" stroke-width="1"/>
<line x1="873.3" y1="334.5" x2="873.3" y2="382" stroke="#ff0000" stroke-width="1"/>
<line x1="871" y1="334.5" x2="875.5" y2="334.5" stroke="#ff0000" stroke-width="1"/>
<line x1="871" y1="354" x2="875.5" y2="354" stroke="#ff0000" stroke-width="1"/>
<line x1="835" y1="501.5" x2="907" y2="501.5" stroke="#ff0000" stroke-width="1" stroke-dasharray="18 3 5 3"/>
<rect x="850.9" y="429.3" width="43.2" height="10.4" fill="none" stroke="#ff0000" stroke-width="3" rx="5.2"/>
<line x1="856" y1="434.4" x2="884" y2="434.4" stroke="#ff0000" stroke-width="1"/>
<line x1="760" y1="434.4" x2="848" y2="434.4" stroke="#ff0000" stroke-width="1" stroke-dasharray="24 5 6 5"/>
<line x1="897" y1="434.4" x2="948" y2="434.4" stroke="#ff0000" stroke-width="1"/>
<line x1="845" y1="418.5" x2="845" y2="451" stroke="#ff0000" stroke-width="1"/>
<line x1="843" y1="418.5" x2="873" y2="418.5" stroke="#ff0000" stroke-width="1"/>
<line x1="846" y1="451" x2="873" y2="451" stroke="#ff0000" stroke-width="1"/>
<line x1="918" y1="418.5" x2="918" y2="450.5" stroke="#ff0000" stroke-width="1"/>
<line x1="916" y1="418.5" x2="920" y2="418.5" stroke="#ff0000" stroke-width="1"/>
<line x1="916" y1="450.5" x2="920" y2="450.5" stroke="#ff0000" stroke-width="1"/>
<line x1="776" y1="238.5" x2="787" y2="238.5" stroke="#ff0000" stroke-width="1"/>
<line x1="781.5" y1="233" x2="781.5" y2="244" stroke="#ff0000" stroke-width="1"/>
<circle cx="781.5" cy="238.5" r="0.9" fill="#fff"/>
<line x1="849.5" y1="238.5" x2="860.5" y2="238.5" stroke="#ff0000" stroke-width="1"/>
<line x1="855" y1="233" x2="855" y2="244" stroke="#ff0000" stroke-width="1"/>
<circle cx="855" cy="238.5" r="0.9" fill="#fff"/>
<line x1="919.75" y1="238.5" x2="930.75" y2="238.5" stroke="#ff0000" stroke-width="1"/>
<line x1="925.25" y1="233" x2="925.25" y2="244" stroke="#ff0000" stroke-width="1"/>
<circle cx="925.25" cy="238.5" r="0.9" fill="#fff"/>
<line x1="776" y1="304.5" x2="787" y2="304.5" stroke="#ff0000" stroke-width="1"/>
<line x1="781.5" y1="299" x2="781.5" y2="310" stroke="#ff0000" stroke-width="1"/>
<circle cx="781.5" cy="304.5" r="0.9" fill="#fff"/>
<line x1="919.75" y1="304.5" x2="930.75" y2="304.5" stroke="#ff0000" stroke-width="1"/>
<line x1="925.25" y1="299" x2="925.25" y2="310" stroke="#ff0000" stroke-width="1"/>
<circle cx="925.25" cy="304.5" r="0.9" fill="#fff"/>
<line x1="776" y1="381.25" x2="787" y2="381.25" stroke="#ff0000" stroke-width="1"/>
<line x1="781.5" y1="375.75" x2="781.5" y2="386.75" stroke="#ff0000" stroke-width="1"/>
<circle cx="781.5" cy="381.25" r="0.9" fill="#fff"/>
<line x1="920.1" y1="381.25" x2="931.1" y2="381.25" stroke="#ff0000" stroke-width="1"/>
<line x1="925.6" y1="375.75" x2="925.6" y2="386.75" stroke="#ff0000" stroke-width="1"/>
<circle cx="925.6" cy="381.25" r="0.9" fill="#fff"/>
<line x1="776" y1="516.25" x2="787" y2="516.25" stroke="#ff0000" stroke-width="1"/>
<line x1="781.5" y1="510.75" x2="781.5" y2="521.75" stroke="#ff0000" stroke-width="1"/>
<circle cx="781.5" cy="516.25" r="0.9" fill="#fff"/>
<line x1="849.5" y1="516.25" x2="860.5" y2="516.25" stroke="#ff0000" stroke-width="1"/>
<line x1="855" y1="510.75" x2="855" y2="521.75" stroke="#ff0000" stroke-width="1"/>
<circle cx="855" cy="516.25" r="0.9" fill="#fff"/>
<line x1="919.75" y1="516.25" x2="930.75" y2="516.25" stroke="#ff0000" stroke-width="1"/>
<line x1="925.25" y1="510.75" x2="925.25" y2="521.75" stroke="#ff0000" stroke-width="1"/>
<circle cx="925.25" cy="516.25" r="0.9" fill="#fff"/>
<line x1="159.2" y1="791.8" x2="600" y2="791.8" stroke="#d00000" stroke-width="1" stroke-dasharray="40 6 6 6"/>
<line x1="159.2" y1="839.2" x2="760" y2="839.2" stroke="#d00000" stroke-width="1" stroke-dasharray="40 6 6 6"/>
<line x1="750" y1="839.2" x2="759.5" y2="839.2" stroke="#ff0000" stroke-width="1"/>
<line x1="525.8" y1="648" x2="616.7" y2="648" stroke="#ff0000" stroke-width="1"/>
<line x1="615.8" y1="648" x2="615.8" y2="922.5" stroke="#ff0000" stroke-width="1"/>
<line x1="598" y1="922.4" x2="616.5" y2="922.4" stroke="#ff0000" stroke-width="1"/>
<line x1="340.8" y1="792" x2="340.8" y2="839" stroke="#ff0000" stroke-width="1"/>
<line x1="326" y1="791.8" x2="342" y2="791.8" stroke="#ff0000" stroke-width="1"/>
<line x1="326" y1="839.2" x2="342" y2="839.2" stroke="#ff0000" stroke-width="1"/>
<line x1="853.3" y1="752" x2="981.7" y2="752" stroke="#ff0000" stroke-width="1"/>
<line x1="980.8" y1="752" x2="980.8" y2="922.8" stroke="#ff0000" stroke-width="1"/>
<line x1="961" y1="922.8" x2="981.7" y2="922.8" stroke="#ff0000" stroke-width="1"/>
<line x1="768" y1="839.5" x2="768" y2="989.5" stroke="#ff0000" stroke-width="1"/>
<line x1="938.3" y1="839" x2="938.3" y2="989.5" stroke="#ff0000" stroke-width="1"/>
<line x1="768" y1="987.8" x2="938.3" y2="987.8" stroke="#ff0000" stroke-width="1"/>
<path d="M615.8,648 L614.8,652.2 L616.8,652.2 Z" fill="#ff0000"/>
<path d="M615.8,922.5 L614.8,918.3 L616.8,918.3 Z" fill="#ff0000"/>
<path d="M340.8,792 L339.8,795.6 L341.8,795.6 Z" fill="#ff0000"/>
<path d="M340.8,839 L339.8,835.4 L341.8,835.4 Z" fill="#ff0000"/>
<path d="M980.8,752 L979.8,756.2 L981.8,756.2 Z" fill="#ff0000"/>
<path d="M980.8,922.8 L979.8,918.6 L981.8,918.6 Z" fill="#ff0000"/>
<path d="M768,987.8 L772.2,986.8 L772.2,988.8 Z" fill="#ff0000"/>
<path d="M938.3,987.8 L934.1,986.8 L934.1,988.8 Z" fill="#ff0000"/>
<line x1="49.3" y1="67.7" x2="56.7" y2="67.7" stroke="#f2f2f2" stroke-width="1"/>
<line x1="56.7" y1="67.7" x2="459.3" y2="270" stroke="#f2f2f2" stroke-width="1.15"/>
<circle cx="459.3" cy="270" r="2.6" fill="#fff"/>
<line x1="135" y1="67.7" x2="146.7" y2="67.7" stroke="#f2f2f2" stroke-width="1"/>
<line x1="146.7" y1="67.7" x2="476.7" y2="239.4" stroke="#f2f2f2" stroke-width="1.15"/>
<circle cx="476.7" cy="239.4" r="2.6" fill="#fff"/>
<line x1="255" y1="67.7" x2="266" y2="67.7" stroke="#f2f2f2" stroke-width="1"/>
<line x1="266" y1="67.7" x2="523" y2="241.5" stroke="#f2f2f2" stroke-width="1.15"/>
<line x1="370.7" y1="67.7" x2="382" y2="67.7" stroke="#f2f2f2" stroke-width="1"/>
<line x1="382" y1="67.7" x2="560" y2="233.3" stroke="#f2f2f2" stroke-width="1.15"/>
<line x1="456.7" y1="67.7" x2="468" y2="67.7" stroke="#f2f2f2" stroke-width="1"/>
<line x1="468" y1="67.7" x2="680" y2="275" stroke="#f2f2f2" stroke-width="1.15"/>
<line x1="558.7" y1="67.7" x2="569.5" y2="67.7" stroke="#f2f2f2" stroke-width="1"/>
<line x1="569.5" y1="67.7" x2="719" y2="252" stroke="#f2f2f2" stroke-width="1.15"/>
<line x1="620.3" y1="67.7" x2="631.5" y2="67.7" stroke="#f2f2f2" stroke-width="1"/>
<line x1="631.5" y1="67.7" x2="758.4" y2="267.7" stroke="#f2f2f2" stroke-width="1.15"/>
<circle cx="758.4" cy="267.7" r="2.6" fill="#fff"/>
<line x1="707.3" y1="67.7" x2="719" y2="67.7" stroke="#f2f2f2" stroke-width="1"/>
<line x1="719" y1="67.7" x2="794.7" y2="340.8" stroke="#f2f2f2" stroke-width="1.15"/>
<circle cx="794.7" cy="340.8" r="2.6" fill="#fff"/>
<line x1="49.3" y1="119.7" x2="56.7" y2="119.7" stroke="#f2f2f2" stroke-width="1"/>
<line x1="56.7" y1="119.7" x2="310.5" y2="269.2" stroke="#f2f2f2" stroke-width="1.15"/>
<circle cx="310.5" cy="269.2" r="2.6" fill="#fff"/>
<line x1="49.3" y1="165.7" x2="56.7" y2="165.7" stroke="#f2f2f2" stroke-width="1"/>
<line x1="56.7" y1="165.7" x2="240.8" y2="257" stroke="#f2f2f2" stroke-width="1.15"/>
<circle cx="240.8" cy="257" r="2.6" fill="#fff"/>
<line x1="49.3" y1="217.2" x2="56.7" y2="217.2" stroke="#f2f2f2" stroke-width="1"/>
<line x1="56.7" y1="217.2" x2="197" y2="249" stroke="#f2f2f2" stroke-width="1.15"/>
<line x1="49.3" y1="272.3" x2="56.7" y2="272.3" stroke="#f2f2f2" stroke-width="1"/>
<line x1="56.7" y1="272.3" x2="195" y2="293.5" stroke="#f2f2f2" stroke-width="1.15"/>
<line x1="50" y1="357" x2="56.7" y2="357" stroke="#f2f2f2" stroke-width="1"/>
<line x1="56.7" y1="357" x2="198.3" y2="415.3" stroke="#f2f2f2" stroke-width="1.15"/>
<line x1="49.3" y1="716" x2="64" y2="716" stroke="#f2f2f2" stroke-width="1"/>
<line x1="64" y1="716" x2="253.7" y2="788" stroke="#f2f2f2" stroke-width="1.15"/>
<circle cx="253.7" cy="788" r="2.6" fill="#fff"/>
<line x1="49.3" y1="802.5" x2="56" y2="802.5" stroke="#f2f2f2" stroke-width="1"/>
<line x1="56" y1="802.5" x2="236.7" y2="839.7" stroke="#f2f2f2" stroke-width="1.15"/>
<circle cx="236.7" cy="839.7" r="2.6" fill="#fff"/>
<line x1="46" y1="896" x2="52" y2="896" stroke="#f2f2f2" stroke-width="1"/>
<line x1="52" y1="896" x2="207.5" y2="938" stroke="#f2f2f2" stroke-width="1.15"/>
<circle cx="207.5" cy="938" r="2.6" fill="#fff"/>
<line x1="385" y1="602" x2="397" y2="602" stroke="#f2f2f2" stroke-width="1"/>
<line x1="397" y1="602" x2="467.5" y2="462.5" stroke="#f2f2f2" stroke-width="1.15"/>
<circle cx="467.5" cy="462.5" r="2.6" fill="#fff"/>
<line x1="474.3" y1="602" x2="486" y2="602" stroke="#f2f2f2" stroke-width="1"/>
<line x1="486" y1="602" x2="504.5" y2="434.7" stroke="#f2f2f2" stroke-width="1.15"/>
<circle cx="504.5" cy="434.7" r="2.6" fill="#fff"/>
<line x1="837.3" y1="61.7" x2="790" y2="257" stroke="#f2f2f2" stroke-width="1.15"/>
<line x1="938.7" y1="61.7" x2="829.3" y2="242" stroke="#f2f2f2" stroke-width="1.15"/>
<circle cx="829.3" cy="242" r="2.6" fill="#fff"/>
<line x1="1019.3" y1="61.7" x2="829.4" y2="296" stroke="#f2f2f2" stroke-width="1.15"/>
<line x1="1066" y1="98.3" x2="940" y2="256.3" stroke="#f2f2f2" stroke-width="1.15"/>
<line x1="1066" y1="183.3" x2="830" y2="344.3" stroke="#f2f2f2" stroke-width="1.15"/>
<circle cx="830" cy="344.3" r="2.6" fill="#fff"/>
<line x1="1066" y1="232" x2="876.9" y2="329.6" stroke="#f2f2f2" stroke-width="1.15"/>
<circle cx="876.9" cy="329.6" r="2.6" fill="#fff"/>
<line x1="1066" y1="285" x2="940" y2="324" stroke="#f2f2f2" stroke-width="1.15"/>
<line x1="1066" y1="316.5" x2="882.7" y2="344.3" stroke="#f2f2f2" stroke-width="1.15"/>
<circle cx="882.7" cy="344.3" r="2.6" fill="#fff"/>
<line x1="1066" y1="358.7" x2="934.1" y2="353.2" stroke="#f2f2f2" stroke-width="1.15"/>
<circle cx="934.1" cy="353.2" r="2.6" fill="#fff"/>
<line x1="1066" y1="384" x2="940" y2="362" stroke="#f2f2f2" stroke-width="1.15"/>
<line x1="1066" y1="401.5" x2="935" y2="427.2" stroke="#f2f2f2" stroke-width="1.15"/>
<circle cx="935" cy="427.2" r="2.6" fill="#fff"/>
<line x1="1066" y1="460" x2="889.7" y2="434.7" stroke="#f2f2f2" stroke-width="1.15"/>
<circle cx="889.7" cy="434.7" r="2.6" fill="#fff"/>
<line x1="1066" y1="494" x2="918" y2="455.2" stroke="#f2f2f2" stroke-width="1.15"/>
<line x1="1066" y1="540.7" x2="873" y2="461.3" stroke="#f2f2f2" stroke-width="1.15"/>
<circle cx="873" cy="461.3" r="2.6" fill="#fff"/>
<line x1="1066" y1="596" x2="819" y2="443.7" stroke="#f2f2f2" stroke-width="1.15"/>
<circle cx="819" cy="443.7" r="2.6" fill="#fff"/>
<line x1="975.5" y1="596" x2="728.8" y2="459.4" stroke="#f2f2f2" stroke-width="1.15"/>
<circle cx="728.8" cy="459.4" r="2.6" fill="#fff"/>
<line x1="837" y1="595.3" x2="692.3" y2="434.7" stroke="#f2f2f2" stroke-width="1.15"/>
<circle cx="692.3" cy="434.7" r="2.6" fill="#fff"/>
<line x1="751.3" y1="596" x2="634.8" y2="434.7" stroke="#f2f2f2" stroke-width="1.15"/>
<circle cx="634.8" cy="434.7" r="2.6" fill="#fff"/>
<line x1="671.3" y1="597" x2="569" y2="470.5" stroke="#f2f2f2" stroke-width="1.15"/>
<line x1="578" y1="593.7" x2="558" y2="478.7" stroke="#f2f2f2" stroke-width="1.15"/>
<line x1="1066" y1="666" x2="873.3" y2="757.5" stroke="#f2f2f2" stroke-width="1.15"/>
<circle cx="873.3" cy="757.5" r="2.6" fill="#fff"/>
<line x1="1066" y1="733.5" x2="898" y2="794.5" stroke="#f2f2f2" stroke-width="1.15"/>
<circle cx="898" cy="794.5" r="2.6" fill="#fff"/>
<line x1="1066" y1="785" x2="861.7" y2="828.3" stroke="#f2f2f2" stroke-width="1.15"/>
<g opacity="0.999" style="text-rendering:geometricPrecision">
<text transform="translate(1236.8,652.17) scale(0.8,1)" font-family="'Liberation Serif', serif" font-size="10.9" font-weight="bold" fill="#fff" stroke="#fff" stroke-width="0.45" text-anchor="middle">32</text>
<text transform="translate(1263.46,652.17) scale(0.8,1)" font-family="'Liberation Serif', serif" font-size="10.9" font-weight="bold" fill="#fff" stroke="#fff" stroke-width="0.45" text-anchor="start">GYZ</text>
<path d="M1277.54,644.87 H1283.64 M1277.54,646.19 H1284.54 M1277.54,648.83 H1283.64 M1278.04,647.37 V651.97 M1284.04,644.37 V651.97 M1281.42,648.17 L1284.54,651.87 M1280.66,648.17 L1277.54,651.87 M1288.66,644.87 H1292.54 M1285.54,646.19 H1292.54 M1285.54,647.51 H1292.54 M1288.66,651.47 H1292.54 M1286.04,644.37 V651.97 M1289.04,644.37 V651.97 M1290.54,644.37 V650.97 M1296.66,646.19 H1299.64 M1296.66,648.83 H1300.54 M1294.44,650.15 H1300.54 M1293.54,651.47 H1299.64 M1294.04,647.37 V651.97 M1297.04,647.37 V651.97 M1297.42,648.17 L1300.54,651.87 M1296.66,648.17 L1293.54,651.87" stroke="#fff" stroke-width="1.3" fill="none"/>
<text transform="translate(1324,652.17) scale(0.8,1)" font-family="'Liberation Serif', serif" font-size="10.9" font-weight="bold" fill="#fff" stroke="#fff" stroke-width="0.45" text-anchor="middle">1</text>
<rect x="1395" y="645.37" width="8" height="4.4" fill="#fff"/>
<rect x="1405.8" y="645.37" width="20" height="4.4" fill="#fff"/>
<text transform="translate(1236.8,662.23) scale(0.8,1)" font-family="'Liberation Serif', serif" font-size="10.9" font-weight="bold" fill="#fff" stroke="#fff" stroke-width="0.45" text-anchor="middle">31</text>
<path d="M1258.62,654.93 H1262.5 M1255.5,656.25 H1261.6 M1255.5,657.57 H1261.6 M1256.4,658.89 H1262.5 M1259,657.43 V662.03 M1260.5,654.43 V662.03 M1262,657.43 V661.03 M1259.38,658.23 L1262.5,661.93 M1258.62,658.23 L1255.5,661.93 M1266.62,656.25 H1269.6 M1264.4,657.57 H1270.5 M1266.62,658.89 H1270.5 M1263.5,660.21 H1269.6 M1264,654.43 V662.03 M1268.5,654.43 V661.03 M1267.38,658.23 L1270.5,661.93 M1266.62,658.23 L1263.5,661.93 M1274.62,654.93 H1277.6 M1272.4,656.25 H1278.5 M1274.62,658.89 H1277.6 M1275,657.43 V662.03 M1276.5,654.43 V662.03 M1278,654.43 V662.03 M1275.38,658.23 L1278.5,661.93 M1274.62,658.23 L1271.5,661.93 M1280.4,656.25 H1286.5 M1279.5,657.57 H1286.5 M1280.4,660.21 H1285.6 M1281.5,654.43 V662.03 M1283,657.43 V662.03 M1286,657.43 V662.03 M1283.38,658.23 L1286.5,661.93 M1290.62,654.93 H1294.5 M1287.5,656.25 H1294.5 M1287.5,661.53 H1294.5 M1289.5,654.43 V662.03 M1294,654.43 V662.03 M1296.4,657.57 H1302.5 M1295.5,660.21 H1302.5 M1298.62,661.53 H1302.5 M1296,654.43 V662.03 M1299,655.73 V661.03 M1300.5,655.73 V662.03 M1298.62,658.23 L1295.5,661.93" stroke="#fff" stroke-width="1.3" fill="none"/>
<text transform="translate(1324,662.23) scale(0.8,1)" font-family="'Liberation Serif', serif" font-size="10.9" font-weight="bold" fill="#fff" stroke="#fff" stroke-width="0.45" text-anchor="middle">1</text>
<text transform="translate(1360,662.23) scale(0.7,1)" font-family="'Liberation Serif', serif" font-size="10.5" font-weight="bold" fill="#fff" stroke="#fff" stroke-width="0.45" text-anchor="middle">45</text>
<path d="M1411.5,656.25 H1417.6 M1411.5,657.57 H1417.6 M1412.4,660.21 H1417.6 M1415,654.43 V662.03 M1418,654.43 V661.03 M1415.38,658.23 L1418.5,661.93 M1422.62,654.93 H1425.6 M1419.5,656.25 H1426.5 M1422.62,660.21 H1426.5 M1419.5,661.53 H1426.5 M1420,655.73 V662.03 M1423,655.73 V662.03 M1424.5,654.43 V662.03 M1423.38,658.23 L1426.5,661.93 M1422.62,658.23 L1419.5,661.93" stroke="#fff" stroke-width="1.3" fill="none"/>
<text transform="translate(1236.8,672.3) scale(0.8,1)" font-family="'Liberation Serif', serif" font-size="10.9" font-weight="bold" fill="#fff" stroke="#fff" stroke-width="0.45" text-anchor="middle">30</text>
<path d="M1273.62,665 H1276.6 M1271.4,666.32 H1276.6 M1270.5,668.96 H1276.6 M1272.5,667.5 V672.1 M1275.5,667.5 V671.1 M1274.38,668.3 L1277.5,672 M1278.5,667.64 H1284.6 M1278.5,668.96 H1285.5 M1278.5,670.28 H1285.5 M1278.5,671.6 H1284.6 M1280.5,665.8 V672.1 M1282,664.5 V672.1 M1283.5,664.5 V671.1 M1282.38,668.3 L1285.5,672" stroke="#fff" stroke-width="1.3" fill="none"/>
<text transform="translate(1324,672.3) scale(0.8,1)" font-family="'Liberation Serif', serif" font-size="10.9" font-weight="bold" fill="#fff" stroke="#fff" stroke-width="0.45" text-anchor="middle">1</text>
<text transform="translate(1360,672.3) scale(0.7,1)" font-family="'Liberation Serif', serif" font-size="10.5" font-weight="bold" fill="#fff" stroke="#fff" stroke-width="0.45" text-anchor="middle">40Cr</text>
<path d="M1411.5,666.32 H1418.5 M1411.5,668.96 H1418.5 M1411.5,670.28 H1417.6 M1412,664.5 V671.1 M1415,665.8 V672.1 M1416.5,667.5 V671.1 M1415.38,668.3 L1418.5,672 M1414.62,668.3 L1411.5,672 M1419.5,665 H1426.5 M1419.5,666.32 H1426.5 M1422.62,667.64 H1425.6 M1419.5,668.96 H1425.6 M1423,664.5 V671.1 M1424.5,664.5 V672.1 M1423.38,668.3 L1426.5,672 M1422.62,668.3 L1419.5,672" stroke="#fff" stroke-width="1.3" fill="none"/>
<text transform="translate(1236.8,682.36) scale(0.8,1)" font-family="'Liberation Serif', serif" font-size="10.9" font-weight="bold" fill="#fff" stroke="#fff" stroke-width="0.45" text-anchor="middle">29</text>
<path d="M1270.5,675.06 H1277.5 M1271.4,679.02 H1276.6 M1270.5,680.34 H1276.6 M1274,674.56 V681.16 M1275.5,675.86 V681.16 M1277,674.56 V682.16 M1274.38,678.36 L1277.5,682.06 M1273.62,678.36 L1270.5,682.06 M1281.62,675.06 H1285.5 M1278.5,676.38 H1284.6 M1279.4,677.7 H1285.5 M1280.5,675.86 V682.16 M1282,677.56 V682.16 M1281.62,678.36 L1278.5,682.06" stroke="#fff" stroke-width="1.3" fill="none"/>
<text transform="translate(1324,682.36) scale(0.8,1)" font-family="'Liberation Serif', serif" font-size="10.9" font-weight="bold" fill="#fff" stroke="#fff" stroke-width="0.45" text-anchor="middle">1</text>
<path d="M1355.62,676.38 H1358.6 M1355.62,680.34 H1359.5 M1355.62,681.66 H1359.5 M1353,675.86 V682.16 M1356,675.86 V681.16 M1359,677.56 V682.16 M1355.62,678.36 L1352.5,682.06 M1360.5,675.06 H1367.5 M1360.5,677.7 H1367.5 M1361.4,679.02 H1367.5 M1360.5,680.34 H1367.5 M1364,677.56 V682.16 M1365.5,677.56 V681.16 M1364.38,678.36 L1367.5,682.06 M1363.62,678.36 L1360.5,682.06" stroke="#fff" stroke-width="1.3" fill="none"/>
<text transform="translate(1236.8,692.43) scale(0.8,1)" font-family="'Liberation Serif', serif" font-size="10.9" font-weight="bold" fill="#fff" stroke="#fff" stroke-width="0.45" text-anchor="middle">28</text>
<path d="M1260.6,685.13 H1266.7 M1260.6,686.45 H1267.6 M1260.6,689.09 H1266.7 M1260.6,691.73 H1267.6 M1261.1,685.93 V691.23 M1265.6,687.63 V692.23 M1267.1,684.63 V692.23 M1264.48,688.43 L1267.6,692.13 M1263.72,688.43 L1260.6,692.13" stroke="#fff" stroke-width="1.3" fill="none"/>
<text transform="translate(1268.1,692.43) scale(0.8,1)" font-family="'Liberation Serif', serif" font-size="10.9" font-weight="bold" fill="#fff" stroke="#fff" stroke-width="0.45" text-anchor="start">16X10</text>
<text transform="translate(1324,692.43) scale(0.8,1)" font-family="'Liberation Serif', serif" font-size="10.9" font-weight="bold" fill="#fff" stroke="#fff" stroke-width="0.45" text-anchor="middle">1</text>
<rect x="1400" y="685.63" width="8.5" height="4.4" fill="#fff"/>
<rect x="1411" y="685.63" width="20" height="4.4" fill="#fff"/>
<text transform="translate(1236.8,702.49) scale(0.8,1)" font-family="'Liberation Serif', serif" font-size="10.9" font-weight="bold" fill="#fff" stroke="#fff" stroke-width="0.45" text-anchor="middle">27</text>
<path d="M1270.5,695.19 H1277.5 M1271.4,696.51 H1276.6 M1271.4,697.83 H1276.6 M1274,694.69 V702.29 M1275.5,695.99 V702.29 M1273.62,698.49 L1270.5,702.19 M1281.62,696.51 H1285.5 M1281.62,700.47 H1285.5 M1281.62,701.79 H1284.6 M1282,695.99 V701.29 M1283.5,694.69 V702.29 M1285,695.99 V702.29" stroke="#fff" stroke-width="1.3" fill="none"/>
<text transform="translate(1324,702.49) scale(0.8,1)" font-family="'Liberation Serif', serif" font-size="10.9" font-weight="bold" fill="#fff" stroke="#fff" stroke-width="0.45" text-anchor="middle">2</text>
<path d="M1352.5,695.19 H1359.5 M1352.5,696.51 H1358.6 M1353.4,697.83 H1359.5 M1352.5,699.15 H1359.5 M1356,694.69 V701.29 M1357.5,695.99 V702.29 M1356.38,698.49 L1359.5,702.19 M1355.62,698.49 L1352.5,702.19 M1361.4,695.19 H1366.6 M1361.4,697.83 H1367.5 M1360.5,700.47 H1367.5 M1362.5,694.69 V702.29 M1364,697.69 V702.29 M1364.38,698.49 L1367.5,702.19" stroke="#fff" stroke-width="1.3" fill="none"/>
<text transform="translate(1236.8,712.56) scale(0.8,1)" font-family="'Liberation Serif', serif" font-size="10.9" font-weight="bold" fill="#fff" stroke="#fff" stroke-width="0.45" text-anchor="middle">26</text>
<path d="M1270.5,705.26 H1277.5 M1270.5,706.58 H1277.5 M1273.62,710.54 H1276.6 M1271,706.06 V712.36 M1275.5,704.76 V712.36 M1274.38,708.56 L1277.5,712.26 M1279.4,709.22 H1284.6 M1281.62,710.54 H1285.5 M1279.4,711.86 H1284.6 M1279,707.76 V711.36 M1280.5,704.76 V711.36 M1282,704.76 V711.36 M1282.38,708.56 L1285.5,712.26" stroke="#fff" stroke-width="1.3" fill="none"/>
<text transform="translate(1324,712.56) scale(0.8,1)" font-family="'Liberation Serif', serif" font-size="10.9" font-weight="bold" fill="#fff" stroke="#fff" stroke-width="0.45" text-anchor="middle">2</text>
<path d="M1352.5,705.26 H1359.5 M1353.4,706.58 H1359.5 M1355.62,709.22 H1359.5 M1352.5,711.86 H1358.6 M1354.5,707.76 V712.36 M1359,704.76 V712.36 M1363.62,705.26 H1367.5 M1360.5,707.9 H1367.5 M1360.5,710.54 H1366.6 M1360.5,711.86 H1367.5 M1362.5,704.76 V712.36 M1365.5,706.06 V712.36 M1367,704.76 V712.36 M1364.38,708.56 L1367.5,712.26 M1363.62,708.56 L1360.5,712.26" stroke="#fff" stroke-width="1.3" fill="none"/>
<text transform="translate(1236.8,722.62) scale(0.8,1)" font-family="'Liberation Serif', serif" font-size="10.9" font-weight="bold" fill="#fff" stroke="#fff" stroke-width="0.45" text-anchor="middle">25</text>
<path d="M1273.62,715.33 H1277.5 M1273.62,716.65 H1277.5 M1270.5,717.97 H1276.6 M1270.5,721.93 H1276.6 M1272.5,717.83 V722.42 M1274,714.83 V721.42 M1277,714.83 V722.42 M1281.62,715.33 H1285.5 M1281.62,717.97 H1285.5 M1278.5,719.29 H1285.5 M1279,716.12 V722.42 M1280.5,714.83 V721.42 M1282,716.12 V722.42 M1281.62,718.62 L1278.5,722.33" stroke="#fff" stroke-width="1.3" fill="none"/>
<text transform="translate(1324,722.62) scale(0.8,1)" font-family="'Liberation Serif', serif" font-size="10.9" font-weight="bold" fill="#fff" stroke="#fff" stroke-width="0.45" text-anchor="middle">2</text>
<path d="M1352.5,715.33 H1359.5 M1355.62,716.65 H1359.5 M1353.4,719.29 H1358.6 M1356,717.83 V722.42 M1357.5,714.83 V722.42 M1356.38,718.62 L1359.5,722.33 M1361.4,715.33 H1367.5 M1361.4,716.65 H1367.5 M1363.62,721.93 H1367.5 M1361,716.12 V722.42 M1362.5,716.12 V722.42 M1364,714.83 V721.42 M1364.38,718.62 L1367.5,722.33" stroke="#fff" stroke-width="1.3" fill="none"/>
<text transform="translate(1236.8,732.69) scale(0.8,1)" font-family="'Liberation Serif', serif" font-size="10.9" font-weight="bold" fill="#fff" stroke="#fff" stroke-width="0.45" text-anchor="middle">24</text>
<path d="M1261.78,728.03 H1268.78 M1264.9,729.35 H1268.78 M1264.9,731.99 H1267.88 M1262.28,727.89 V732.49 M1263.78,724.89 V731.49 M1266.78,726.19 V732.49 M1265.66,728.69 L1268.78,732.39" stroke="#fff" stroke-width="1.3" fill="none"/>
<text transform="translate(1269.28,732.69) scale(0.8,1)" font-family="'Liberation Serif', serif" font-size="10.9" font-weight="bold" fill="#fff" stroke="#fff" stroke-width="0.45" text-anchor="start">10X8</text>
<text transform="translate(1324,732.69) scale(0.8,1)" font-family="'Liberation Serif', serif" font-size="10.9" font-weight="bold" fill="#fff" stroke="#fff" stroke-width="0.45" text-anchor="middle">1</text>
<rect x="1394" y="725.89" width="31" height="4.4" fill="#fff"/>
<text transform="translate(1236.8,742.76) scale(0.8,1)" font-family="'Liberation Serif', serif" font-size="10.9" font-weight="bold" fill="#fff" stroke="#fff" stroke-width="0.45" text-anchor="middle">23</text>
<path d="M1269.68,736.78 H1275.78 M1269.68,739.42 H1275.78 M1269.68,740.74 H1275.78 M1270.78,737.96 V742.56 M1272.28,734.96 V741.56 M1275.28,734.96 V742.56 M1272.66,738.76 L1275.78,742.46 M1277.68,736.78 H1283.78 M1279.9,739.42 H1283.78 M1276.78,740.74 H1283.78 M1278.78,734.96 V742.56 M1280.28,734.96 V742.56 M1280.66,738.76 L1283.78,742.46" stroke="#fff" stroke-width="1.3" fill="none"/>
<text transform="translate(1284.28,742.76) scale(0.8,1)" font-family="'Liberation Serif', serif" font-size="10.9" font-weight="bold" fill="#fff" stroke="#fff" stroke-width="0.45" text-anchor="start">6206</text>
<text transform="translate(1324,742.76) scale(0.8,1)" font-family="'Liberation Serif', serif" font-size="10.9" font-weight="bold" fill="#fff" stroke="#fff" stroke-width="0.45" text-anchor="middle">2</text>
<rect x="1391" y="735.96" width="31.5" height="4.4" fill="#fff"/>
<text transform="translate(1236.8,752.82) scale(0.8,1)" font-family="'Liberation Serif', serif" font-size="10.9" font-weight="bold" fill="#fff" stroke="#fff" stroke-width="0.45" text-anchor="middle">22</text>
<path d="M1273.62,749.48 H1276.6 M1270.5,750.8 H1277.5 M1271.4,752.12 H1277.5 M1274,746.32 V752.62 M1275.5,745.02 V752.62 M1274.38,748.82 L1277.5,752.52 M1273.62,748.82 L1270.5,752.52 M1279.4,749.48 H1285.5 M1278.5,750.8 H1285.5 M1281.62,752.12 H1284.6 M1279,745.02 V752.62 M1283.5,748.02 V752.62 M1285,745.02 V752.62 M1282.38,748.82 L1285.5,752.52 M1281.62,748.82 L1278.5,752.52" stroke="#fff" stroke-width="1.3" fill="none"/>
<text transform="translate(1324,752.82) scale(0.8,1)" font-family="'Liberation Serif', serif" font-size="10.9" font-weight="bold" fill="#fff" stroke="#fff" stroke-width="0.45" text-anchor="middle">1</text>
<text transform="translate(1360,752.82) scale(0.7,1)" font-family="'Liberation Serif', serif" font-size="10.5" font-weight="bold" fill="#fff" stroke="#fff" stroke-width="0.45" text-anchor="middle">40Cr</text>
<path d="M1414,745.52 H1421 M1414,748.16 H1421 M1414,749.48 H1420.1 M1414.9,752.12 H1421 M1417.5,745.02 V752.62 M1419,745.02 V752.62 M1420.5,745.02 V752.62 M1417.88,748.82 L1421,752.52 M1425.12,745.52 H1429 M1422.9,748.16 H1428.1 M1422,750.8 H1429 M1422.5,748.02 V751.62 M1424,746.32 V752.62 M1428.5,745.02 V752.62 M1425.88,748.82 L1429,752.52" stroke="#fff" stroke-width="1.3" fill="none"/>
<text transform="translate(1236.8,762.89) scale(0.8,1)" font-family="'Liberation Serif', serif" font-size="10.9" font-weight="bold" fill="#fff" stroke="#fff" stroke-width="0.45" text-anchor="middle">21</text>
<path d="M1266.9,755.59 H1270.78 M1263.78,756.91 H1270.78 M1263.78,758.23 H1269.88 M1267.28,758.09 V762.69 M1268.78,755.09 V762.69 M1270.28,755.09 V762.69 M1267.66,758.89 L1270.78,762.59 M1266.9,758.89 L1263.78,762.59" stroke="#fff" stroke-width="1.3" fill="none"/>
<text transform="translate(1271.28,762.89) scale(0.8,1)" font-family="'Liberation Serif', serif" font-size="10.9" font-weight="bold" fill="#fff" stroke="#fff" stroke-width="0.45" text-anchor="start">10X8</text>
<text transform="translate(1324,762.89) scale(0.8,1)" font-family="'Liberation Serif', serif" font-size="10.9" font-weight="bold" fill="#fff" stroke="#fff" stroke-width="0.45" text-anchor="middle">1</text>
<rect x="1391" y="756.09" width="39" height="4.4" fill="#fff"/>
<text transform="translate(1236.8,772.95) scale(0.8,1)" font-family="'Liberation Serif', serif" font-size="10.9" font-weight="bold" fill="#fff" stroke="#fff" stroke-width="0.45" text-anchor="middle">20</text>
<path d="M1274.4,766.97 H1280.5 M1273.5,769.61 H1279.6 M1276.62,772.25 H1279.6 M1275.5,768.15 V771.75 M1278.5,765.15 V771.75 M1277.38,768.95 L1280.5,772.65 M1276.62,768.95 L1273.5,772.65 M1284.62,765.65 H1288.5 M1281.5,766.97 H1288.5 M1284.62,770.93 H1288.5 M1282,765.15 V772.75 M1285,765.15 V772.75 M1286.5,768.15 V772.75 M1285.38,768.95 L1288.5,772.65" stroke="#fff" stroke-width="1.3" fill="none"/>
<text transform="translate(1324,772.95) scale(0.8,1)" font-family="'Liberation Serif', serif" font-size="10.9" font-weight="bold" fill="#fff" stroke="#fff" stroke-width="0.45" text-anchor="middle">2</text>
<path d="M1352.5,766.97 H1359.5 M1352.5,768.29 H1359.5 M1352.5,769.61 H1359.5 M1353,766.45 V772.75 M1354.5,768.15 V772.75 M1357.5,765.15 V771.75 M1356.38,768.95 L1359.5,772.65 M1355.62,768.95 L1352.5,772.65 M1363.62,766.97 H1367.5 M1363.62,768.29 H1367.5 M1363.62,770.93 H1367.5 M1361,765.15 V772.75 M1365.5,765.15 V771.75 M1367,765.15 V771.75 M1364.38,768.95 L1367.5,772.65 M1363.62,768.95 L1360.5,772.65" stroke="#fff" stroke-width="1.3" fill="none"/>
<text transform="translate(1236.8,783.02) scale(0.8,1)" font-family="'Liberation Serif', serif" font-size="10.9" font-weight="bold" fill="#fff" stroke="#fff" stroke-width="0.45" text-anchor="middle">19</text>
<path d="M1271.4,775.72 H1277.5 M1270.5,777.04 H1277.5 M1270.5,778.36 H1277.5 M1273.62,781 H1276.6 M1272.5,778.22 V782.82 M1274,778.22 V782.82 M1275.5,775.22 V781.82 M1274.38,779.02 L1277.5,782.72 M1279.4,777.04 H1285.5 M1279.4,778.36 H1284.6 M1278.5,781 H1284.6 M1280.5,775.22 V782.82 M1283.5,775.22 V781.82 M1282.38,779.02 L1285.5,782.72" stroke="#fff" stroke-width="1.3" fill="none"/>
<text transform="translate(1324,783.02) scale(0.8,1)" font-family="'Liberation Serif', serif" font-size="10.9" font-weight="bold" fill="#fff" stroke="#fff" stroke-width="0.45" text-anchor="middle">1</text>
<text transform="translate(1360,783.02) scale(0.7,1)" font-family="'Liberation Serif', serif" font-size="10.5" font-weight="bold" fill="#fff" stroke="#fff" stroke-width="0.45" text-anchor="middle">40Cr</text>
<path d="M1414,775.72 H1421 M1414,777.04 H1421 M1414,779.68 H1421 M1414.5,775.22 V782.82 M1416,778.22 V781.82 M1419,775.22 V781.82 M1417.88,779.02 L1421,782.72 M1422.9,778.36 H1429 M1422.9,781 H1428.1 M1422.9,782.32 H1429 M1422.5,775.22 V782.82 M1424,776.52 V781.82 M1428.5,775.22 V782.82 M1425.88,779.02 L1429,782.72 M1425.12,779.02 L1422,782.72" stroke="#fff" stroke-width="1.3" fill="none"/>
<text transform="translate(1236.8,793.08) scale(0.8,1)" font-family="'Liberation Serif', serif" font-size="10.9" font-weight="bold" fill="#fff" stroke="#fff" stroke-width="0.45" text-anchor="middle">18</text>
<path d="M1267.5,787.1 H1273.6 M1270.62,791.06 H1274.5 M1267.5,792.38 H1274.5 M1269.5,785.28 V792.88 M1272.5,785.28 V792.88 M1274,785.28 V792.88 M1271.38,789.08 L1274.5,792.78 M1278.62,785.78 H1281.6 M1276.4,787.1 H1281.6 M1275.5,788.42 H1282.5 M1276,785.28 V792.88 M1279,786.58 V792.88 M1282,785.28 V792.88 M1278.62,789.08 L1275.5,792.78 M1286.62,785.78 H1289.6 M1284.4,787.1 H1290.5 M1284.4,791.06 H1290.5 M1283.5,792.38 H1290.5 M1284,788.28 V792.88 M1288.5,788.28 V791.88 M1290,785.28 V791.88 M1287.38,789.08 L1290.5,792.78 M1292.4,788.42 H1297.6 M1292.4,789.74 H1298.5 M1291.5,792.38 H1298.5 M1293.5,788.28 V792.88 M1295,786.58 V791.88 M1298,785.28 V792.88 M1294.62,789.08 L1291.5,792.78" stroke="#fff" stroke-width="1.3" fill="none"/>
<text transform="translate(1324,793.08) scale(0.8,1)" font-family="'Liberation Serif', serif" font-size="10.9" font-weight="bold" fill="#fff" stroke="#fff" stroke-width="0.45" text-anchor="middle">1</text>
<path d="M1352.5,787.1 H1359.5 M1355.62,789.74 H1358.6 M1353.4,792.38 H1359.5 M1353,785.28 V791.88 M1354.5,785.28 V791.88 M1355.62,789.08 L1352.5,792.78 M1361.4,785.78 H1367.5 M1360.5,787.1 H1366.6 M1360.5,788.42 H1367.5 M1360.5,791.06 H1367.5 M1361,785.28 V792.88 M1362.5,786.58 V792.88 M1364,788.28 V792.88" stroke="#fff" stroke-width="1.3" fill="none"/>
<text transform="translate(1236.8,803.15) scale(0.8,1)" font-family="'Liberation Serif', serif" font-size="10.9" font-weight="bold" fill="#fff" stroke="#fff" stroke-width="0.45" text-anchor="middle">17</text>
<path d="M1270.78,797.17 H1277.78 M1270.78,799.81 H1276.88 M1270.78,802.45 H1277.78 M1272.78,796.65 V802.95 M1275.78,795.35 V802.95 M1277.28,795.35 V802.95 M1281.9,795.85 H1284.88 M1279.68,797.17 H1284.88 M1281.9,798.49 H1285.78 M1278.78,802.45 H1285.78 M1282.28,798.35 V802.95 M1283.78,795.35 V802.95 M1285.28,798.35 V802.95 M1282.66,799.15 L1285.78,802.85" stroke="#fff" stroke-width="1.3" fill="none"/>
<text transform="translate(1286.28,803.15) scale(0.8,1)" font-family="'Liberation Serif', serif" font-size="10.9" font-weight="bold" fill="#fff" stroke="#fff" stroke-width="0.45" text-anchor="start">6205</text>
<text transform="translate(1324,803.15) scale(0.8,1)" font-family="'Liberation Serif', serif" font-size="10.9" font-weight="bold" fill="#fff" stroke="#fff" stroke-width="0.45" text-anchor="middle">2</text>
<rect x="1396" y="796.35" width="8.5" height="4.4" fill="#fff"/>
<rect x="1407" y="796.35" width="13" height="4.4" fill="#fff"/>
<text transform="translate(1236.8,813.22) scale(0.8,1)" font-family="'Liberation Serif', serif" font-size="10.9" font-weight="bold" fill="#fff" stroke="#fff" stroke-width="0.45" text-anchor="middle">16</text>
<path d="M1271.5,807.24 H1278.5 M1271.5,809.88 H1278.5 M1274.62,811.2 H1278.5 M1272,805.42 V812.02 M1276.5,805.42 V813.02 M1274.62,809.22 L1271.5,812.92 M1282.62,805.92 H1285.6 M1279.5,808.56 H1286.5 M1279.5,811.2 H1285.6 M1279.5,812.52 H1286.5 M1283,805.42 V812.02 M1284.5,805.42 V813.02 M1290.62,807.24 H1294.5 M1288.4,808.56 H1293.6 M1290.62,811.2 H1294.5 M1289.5,806.72 V813.02 M1291,805.42 V813.02 M1292.5,808.42 V813.02 M1291.38,809.22 L1294.5,812.92 M1290.62,809.22 L1287.5,812.92" stroke="#fff" stroke-width="1.3" fill="none"/>
<text transform="translate(1324,813.22) scale(0.8,1)" font-family="'Liberation Serif', serif" font-size="10.9" font-weight="bold" fill="#fff" stroke="#fff" stroke-width="0.45" text-anchor="middle">1</text>
<text transform="translate(1360,813.22) scale(0.7,1)" font-family="'Liberation Serif', serif" font-size="10.5" font-weight="bold" fill="#fff" stroke="#fff" stroke-width="0.45" text-anchor="middle">45</text>
<path d="M1414,807.24 H1420.1 M1414,808.56 H1420.1 M1414.9,809.88 H1421 M1414.5,808.42 V812.02 M1416,806.72 V813.02 M1420.5,808.42 V813.02 M1417.88,809.22 L1421,812.92 M1417.12,809.22 L1414,812.92 M1422,807.24 H1429 M1422.9,809.88 H1429 M1422.9,811.2 H1428.1 M1422.5,805.42 V813.02 M1424,808.42 V813.02 M1425.88,809.22 L1429,812.92" stroke="#fff" stroke-width="1.3" fill="none"/>
<text transform="translate(1236.8,823.28) scale(0.8,1)" font-family="'Liberation Serif', serif" font-size="10.9" font-weight="bold" fill="#fff" stroke="#fff" stroke-width="0.45" text-anchor="middle">15</text>
<path d="M1266.5,815.98 H1273.5 M1266.5,817.3 H1272.6 M1267.4,819.94 H1273.5 M1270,815.48 V823.08 M1273,816.78 V822.08 M1270.38,819.28 L1273.5,822.98 M1269.62,819.28 L1266.5,822.98 M1274.5,815.98 H1280.6 M1274.5,817.3 H1281.5 M1274.5,822.58 H1281.5 M1276.5,816.78 V823.08 M1278,815.48 V822.08 M1281,816.78 V822.08 M1278.38,819.28 L1281.5,822.98 M1277.62,819.28 L1274.5,822.98 M1282.5,815.98 H1289.5 M1282.5,817.3 H1288.6 M1282.5,819.94 H1289.5 M1282.5,822.58 H1289.5 M1283,815.48 V822.08 M1289,815.48 V823.08 M1286.38,819.28 L1289.5,822.98" stroke="#fff" stroke-width="1.3" fill="none"/>
<text transform="translate(1324,823.28) scale(0.8,1)" font-family="'Liberation Serif', serif" font-size="10.9" font-weight="bold" fill="#fff" stroke="#fff" stroke-width="0.45" text-anchor="middle">1</text>
<text transform="translate(1360,823.28) scale(0.7,1)" font-family="'Liberation Serif', serif" font-size="10.5" font-weight="bold" fill="#fff" stroke="#fff" stroke-width="0.45" text-anchor="middle">40Cr</text>
<path d="M1414.9,817.3 H1421 M1414.9,818.62 H1420.1 M1414,819.94 H1420.1 M1417.12,821.26 H1420.1 M1414.5,818.48 V823.08 M1416,818.48 V823.08 M1419,815.48 V823.08 M1417.88,819.28 L1421,822.98 M1422.9,815.98 H1428.1 M1425.12,818.62 H1428.1 M1422.9,822.58 H1429 M1422.5,815.48 V823.08 M1424,816.78 V823.08 M1425.5,815.48 V823.08 M1425.12,819.28 L1422,822.98" stroke="#fff" stroke-width="1.3" fill="none"/>
<text transform="translate(1236.8,833.35) scale(0.8,1)" font-family="'Liberation Serif', serif" font-size="10.9" font-weight="bold" fill="#fff" stroke="#fff" stroke-width="0.45" text-anchor="middle">14</text>
<path d="M1267.08,827.37 H1270.06 M1267.08,828.69 H1270.96 M1263.96,831.33 H1270.96 M1264.46,828.55 V832.15 M1265.96,825.55 V832.15 M1267.46,825.55 V833.15 M1267.84,829.35 L1270.96,833.05 M1267.08,829.35 L1263.96,833.05" stroke="#fff" stroke-width="1.3" fill="none"/>
<text transform="translate(1271.46,833.35) scale(0.8,1)" font-family="'Liberation Serif', serif" font-size="10.9" font-weight="bold" fill="#fff" stroke="#fff" stroke-width="0.45" text-anchor="start">6X6</text>
<text transform="translate(1324,833.35) scale(0.8,1)" font-family="'Liberation Serif', serif" font-size="10.9" font-weight="bold" fill="#fff" stroke="#fff" stroke-width="0.45" text-anchor="middle">1</text>
<rect x="1384" y="826.55" width="40" height="4.4" fill="#fff"/>
<text transform="translate(1236.8,843.41) scale(0.8,1)" font-family="'Liberation Serif', serif" font-size="10.9" font-weight="bold" fill="#fff" stroke="#fff" stroke-width="0.45" text-anchor="middle">13</text>
<text transform="translate(1264.46,843.41) scale(0.8,1)" font-family="'Liberation Serif', serif" font-size="10.9" font-weight="bold" fill="#fff" stroke="#fff" stroke-width="0.45" text-anchor="start">GYZ</text>
<path d="M1278.54,837.43 H1285.54 M1278.54,838.75 H1285.54 M1278.54,841.39 H1284.64 M1278.54,842.71 H1284.64 M1279.04,835.61 V842.21 M1282.04,835.61 V842.21 M1281.66,839.41 L1278.54,843.11 M1286.54,836.11 H1292.64 M1286.54,837.43 H1292.64 M1287.44,841.39 H1293.54 M1287.04,835.61 V843.21 M1288.54,836.91 V843.21 M1290.42,839.41 L1293.54,843.11 M1289.66,839.41 L1286.54,843.11 M1295.44,836.11 H1300.64 M1297.66,838.75 H1301.54 M1294.54,842.71 H1301.54 M1295.04,836.91 V843.21 M1299.54,835.61 V842.21 M1298.42,839.41 L1301.54,843.11" stroke="#fff" stroke-width="1.3" fill="none"/>
<text transform="translate(1324,843.41) scale(0.8,1)" font-family="'Liberation Serif', serif" font-size="10.9" font-weight="bold" fill="#fff" stroke="#fff" stroke-width="0.45" text-anchor="middle">1</text>
<rect x="1384" y="836.61" width="40" height="4.4" fill="#fff"/>
<text transform="translate(1236.8,853.48) scale(0.8,1)" font-family="'Liberation Serif', serif" font-size="10.9" font-weight="bold" fill="#fff" stroke="#fff" stroke-width="0.45" text-anchor="middle">12</text>
<path d="M1273.62,847.5 H1277.5 M1270.5,848.82 H1277.5 M1270.5,851.46 H1277.5 M1271,845.68 V853.28 M1272.5,846.98 V852.28 M1275.5,846.98 V852.28 M1273.62,849.48 L1270.5,853.18 M1278.5,847.5 H1285.5 M1278.5,850.14 H1285.5 M1278.5,852.78 H1284.6 M1279,848.68 V852.28 M1280.5,845.68 V853.28 M1282,845.68 V853.28 M1282.38,849.48 L1285.5,853.18 M1281.62,849.48 L1278.5,853.18" stroke="#fff" stroke-width="1.3" fill="none"/>
<text transform="translate(1324,853.48) scale(0.8,1)" font-family="'Liberation Serif', serif" font-size="10.9" font-weight="bold" fill="#fff" stroke="#fff" stroke-width="0.45" text-anchor="middle">1</text>
<path d="M1352.5,847.5 H1359.5 M1352.5,848.82 H1358.6 M1352.5,850.14 H1359.5 M1353.4,851.46 H1358.6 M1356,845.68 V853.28 M1357.5,848.68 V852.28 M1360.5,847.5 H1367.5 M1361.4,848.82 H1366.6 M1360.5,850.14 H1366.6 M1362.5,846.98 V853.28 M1364,845.68 V853.28 M1363.62,849.48 L1360.5,853.18" stroke="#fff" stroke-width="1.3" fill="none"/>
<text transform="translate(1236.8,863.54) scale(0.8,1)" font-family="'Liberation Serif', serif" font-size="10.9" font-weight="bold" fill="#fff" stroke="#fff" stroke-width="0.45" text-anchor="middle">11</text>
<path d="M1273.62,856.24 H1277.5 M1270.5,857.56 H1277.5 M1271.4,860.2 H1277.5 M1271.4,862.84 H1277.5 M1271,855.74 V863.34 M1274,858.74 V863.34 M1274.38,859.54 L1277.5,863.24 M1281.62,857.56 H1285.5 M1278.5,858.88 H1285.5 M1281.62,862.84 H1285.5 M1280.5,858.74 V863.34 M1282,855.74 V862.34 M1283.5,855.74 V862.34 M1282.38,859.54 L1285.5,863.24 M1281.62,859.54 L1278.5,863.24" stroke="#fff" stroke-width="1.3" fill="none"/>
<text transform="translate(1324,863.54) scale(0.8,1)" font-family="'Liberation Serif', serif" font-size="10.9" font-weight="bold" fill="#fff" stroke="#fff" stroke-width="0.45" text-anchor="middle">2</text>
<path d="M1352.5,856.24 H1359.5 M1352.5,860.2 H1359.5 M1355.62,862.84 H1359.5 M1353,855.74 V862.34 M1356,857.04 V863.34 M1357.5,858.74 V863.34 M1355.62,859.54 L1352.5,863.24 M1360.5,857.56 H1366.6 M1361.4,861.52 H1367.5 M1363.62,862.84 H1366.6 M1361,857.04 V862.34 M1365.5,857.04 V863.34 M1363.62,859.54 L1360.5,863.24" stroke="#fff" stroke-width="1.3" fill="none"/>
<text transform="translate(1236.8,873.61) scale(0.8,1)" font-family="'Liberation Serif', serif" font-size="10.9" font-weight="bold" fill="#fff" stroke="#fff" stroke-width="0.45" text-anchor="middle">10</text>
<path d="M1271.4,866.31 H1276.6 M1270.5,867.63 H1277.5 M1271.4,868.95 H1277.5 M1273.62,870.27 H1277.5 M1271,868.81 V872.41 M1275.5,867.11 V872.41 M1274.38,869.61 L1277.5,873.31 M1273.62,869.61 L1270.5,873.31 M1281.62,867.63 H1285.5 M1278.5,870.27 H1285.5 M1278.5,871.59 H1284.6 M1278.5,872.91 H1285.5 M1279,867.11 V872.41 M1280.5,868.81 V873.41 M1285,867.11 V872.41 M1282.38,869.61 L1285.5,873.31" stroke="#fff" stroke-width="1.3" fill="none"/>
<text transform="translate(1324,873.61) scale(0.8,1)" font-family="'Liberation Serif', serif" font-size="10.9" font-weight="bold" fill="#fff" stroke="#fff" stroke-width="0.45" text-anchor="middle">1</text>
<text transform="translate(1360,873.61) scale(0.7,1)" font-family="'Liberation Serif', serif" font-size="10.5" font-weight="bold" fill="#fff" stroke="#fff" stroke-width="0.45" text-anchor="middle">40Cr</text>
<path d="M1417.12,867.63 H1420.1 M1414.9,868.95 H1421 M1414,872.91 H1421 M1417.5,865.81 V872.41 M1420.5,867.11 V873.41 M1417.88,869.61 L1421,873.31 M1417.12,869.61 L1414,873.31 M1425.12,866.31 H1429 M1422,867.63 H1428.1 M1422.9,868.95 H1429 M1422.9,870.27 H1428.1 M1422.5,865.81 V872.41 M1427,867.11 V873.41 M1428.5,865.81 V872.41 M1425.88,869.61 L1429,873.31 M1425.12,869.61 L1422,873.31" stroke="#fff" stroke-width="1.3" fill="none"/>
<text transform="translate(1236.8,883.68) scale(0.8,1)" font-family="'Liberation Serif', serif" font-size="10.9" font-weight="bold" fill="#fff" stroke="#fff" stroke-width="0.45" text-anchor="middle">9</text>
<path d="M1266.72,877.7 H1269.7 M1263.6,879.02 H1269.7 M1263.6,881.66 H1269.7 M1265.6,875.88 V882.48 M1267.1,875.88 V882.48 M1268.6,878.88 V882.48" stroke="#fff" stroke-width="1.3" fill="none"/>
<text transform="translate(1271.1,883.68) scale(0.8,1)" font-family="'Liberation Serif', serif" font-size="10.9" font-weight="bold" fill="#fff" stroke="#fff" stroke-width="0.45" text-anchor="start">18X11</text>
<text transform="translate(1324,883.68) scale(0.8,1)" font-family="'Liberation Serif', serif" font-size="10.9" font-weight="bold" fill="#fff" stroke="#fff" stroke-width="0.45" text-anchor="middle">1</text>
<rect x="1401.7" y="876.88" width="8.3" height="4.4" fill="#fff"/>
<rect x="1413" y="876.88" width="19" height="4.4" fill="#fff"/>
<text transform="translate(1236.8,893.74) scale(0.8,1)" font-family="'Liberation Serif', serif" font-size="10.9" font-weight="bold" fill="#fff" stroke="#fff" stroke-width="0.45" text-anchor="middle">8</text>
<path d="M1266.72,887.76 H1270.6 M1263.6,890.4 H1270.6 M1266.72,891.72 H1270.6 M1265.6,885.94 V892.54 M1268.6,885.94 V893.54 M1270.1,887.24 V893.54 M1267.48,889.74 L1270.6,893.44 M1266.72,889.74 L1263.6,893.44" stroke="#fff" stroke-width="1.3" fill="none"/>
<text transform="translate(1271.1,893.74) scale(0.8,1)" font-family="'Liberation Serif', serif" font-size="10.9" font-weight="bold" fill="#fff" stroke="#fff" stroke-width="0.45" text-anchor="start">18X11</text>
<text transform="translate(1324,893.74) scale(0.8,1)" font-family="'Liberation Serif', serif" font-size="10.9" font-weight="bold" fill="#fff" stroke="#fff" stroke-width="0.45" text-anchor="middle">2</text>
<rect x="1391" y="886.94" width="39" height="4.4" fill="#fff"/>
<text transform="translate(1236.8,903.81) scale(0.8,1)" font-family="'Liberation Serif', serif" font-size="10.9" font-weight="bold" fill="#fff" stroke="#fff" stroke-width="0.45" text-anchor="middle">7</text>
<path d="M1269.62,899.15 H1272.6 M1266.5,900.47 H1273.5 M1267.4,903.11 H1272.6 M1267,896.01 V902.61 M1270,897.31 V903.61 M1273,899.01 V903.61 M1269.62,899.81 L1266.5,903.51 M1275.4,897.83 H1281.5 M1275.4,900.47 H1281.5 M1277.62,903.11 H1280.6 M1276.5,897.31 V903.61 M1278,897.31 V902.61 M1281,896.01 V903.61 M1278.38,899.81 L1281.5,903.51 M1283.4,899.15 H1289.5 M1285.62,901.79 H1289.5 M1283.4,903.11 H1289.5 M1284.5,896.01 V903.61 M1286,899.01 V902.61 M1289,899.01 V902.61 M1286.38,899.81 L1289.5,903.51 M1285.62,899.81 L1282.5,903.51" stroke="#fff" stroke-width="1.3" fill="none"/>
<text transform="translate(1324,903.81) scale(0.8,1)" font-family="'Liberation Serif', serif" font-size="10.9" font-weight="bold" fill="#fff" stroke="#fff" stroke-width="0.45" text-anchor="middle">1</text>
<text transform="translate(1360,903.81) scale(0.7,1)" font-family="'Liberation Serif', serif" font-size="10.5" font-weight="bold" fill="#fff" stroke="#fff" stroke-width="0.45" text-anchor="middle">45</text>
<path d="M1417.12,896.51 H1420.1 M1414,897.83 H1420.1 M1417.12,903.11 H1420.1 M1414.5,896.01 V903.61 M1420.5,899.01 V902.61 M1417.12,899.81 L1414,903.51 M1422,896.51 H1429 M1422,900.47 H1429 M1422.9,903.11 H1429 M1422.5,897.31 V903.61 M1427,899.01 V902.61 M1425.88,899.81 L1429,903.51" stroke="#fff" stroke-width="1.3" fill="none"/>
<text transform="translate(1236.8,913.87) scale(0.8,1)" font-family="'Liberation Serif', serif" font-size="10.9" font-weight="bold" fill="#fff" stroke="#fff" stroke-width="0.45" text-anchor="middle">6</text>
<path d="M1270.78,906.57 H1277.78 M1273.9,910.53 H1277.78 M1270.78,911.85 H1277.78 M1272.78,909.07 V912.67 M1275.78,906.07 V913.67 M1277.28,909.07 V913.67 M1278.78,906.57 H1285.78 M1278.78,911.85 H1285.78 M1281.9,913.17 H1285.78 M1280.78,906.07 V913.67 M1283.78,907.37 V912.67 M1285.28,906.07 V912.67 M1281.9,909.87 L1278.78,913.57" stroke="#fff" stroke-width="1.3" fill="none"/>
<text transform="translate(1286.28,913.87) scale(0.8,1)" font-family="'Liberation Serif', serif" font-size="10.9" font-weight="bold" fill="#fff" stroke="#fff" stroke-width="0.45" text-anchor="start">6213</text>
<text transform="translate(1324,913.87) scale(0.8,1)" font-family="'Liberation Serif', serif" font-size="10.9" font-weight="bold" fill="#fff" stroke="#fff" stroke-width="0.45" text-anchor="middle">2</text>
<rect x="1400" y="907.07" width="8.7" height="4.4" fill="#fff"/>
<rect x="1410.8" y="907.07" width="13.2" height="4.4" fill="#fff"/>
<text transform="translate(1236.8,923.94) scale(0.8,1)" font-family="'Liberation Serif', serif" font-size="10.9" font-weight="bold" fill="#fff" stroke="#fff" stroke-width="0.45" text-anchor="middle">5</text>
<path d="M1271.4,919.28 H1277.5 M1270.5,920.6 H1277.5 M1270.5,921.92 H1277.5 M1270.5,923.24 H1277.5 M1272.5,916.14 V923.74 M1274,917.44 V922.74 M1275.5,919.14 V923.74 M1274.38,919.94 L1277.5,923.64 M1273.62,919.94 L1270.5,923.64 M1281.62,917.96 H1285.5 M1281.62,919.28 H1285.5 M1279.4,920.6 H1285.5 M1279,916.14 V923.74 M1282,917.44 V922.74 M1283.5,919.14 V923.74 M1282.38,919.94 L1285.5,923.64" stroke="#fff" stroke-width="1.3" fill="none"/>
<text transform="translate(1324,923.94) scale(0.8,1)" font-family="'Liberation Serif', serif" font-size="10.9" font-weight="bold" fill="#fff" stroke="#fff" stroke-width="0.45" text-anchor="middle">1</text>
<path d="M1352.5,917.96 H1359.5 M1353.4,919.28 H1359.5 M1355.62,920.6 H1359.5 M1352.5,921.92 H1359.5 M1354.5,917.44 V922.74 M1359,919.14 V923.74 M1356.38,919.94 L1359.5,923.64 M1361.4,917.96 H1366.6 M1360.5,920.6 H1366.6 M1363.62,921.92 H1367.5 M1362.5,916.14 V923.74 M1364,919.14 V922.74 M1365.5,916.14 V922.74" stroke="#fff" stroke-width="1.3" fill="none"/>
<text transform="translate(1236.8,934) scale(0.8,1)" font-family="'Liberation Serif', serif" font-size="10.9" font-weight="bold" fill="#fff" stroke="#fff" stroke-width="0.45" text-anchor="middle">4</text>
<path d="M1271.68,929.34 H1277.78 M1270.78,930.66 H1277.78 M1270.78,931.98 H1277.78 M1272.78,927.5 V932.8 M1274.28,927.5 V933.8 M1278.78,926.7 H1285.78 M1281.9,929.34 H1285.78 M1278.78,930.66 H1285.78 M1279.28,926.2 V933.8 M1280.78,926.2 V933.8 M1282.28,929.2 V932.8 M1282.66,930 L1285.78,933.7 M1281.9,930 L1278.78,933.7" stroke="#fff" stroke-width="1.3" fill="none"/>
<text transform="translate(1286.28,934) scale(0.8,1)" font-family="'Liberation Serif', serif" font-size="10.9" font-weight="bold" fill="#fff" stroke="#fff" stroke-width="0.45" text-anchor="start">6210</text>
<text transform="translate(1324,934) scale(0.8,1)" font-family="'Liberation Serif', serif" font-size="10.9" font-weight="bold" fill="#fff" stroke="#fff" stroke-width="0.45" text-anchor="middle">4</text>
<rect x="1400" y="927.2" width="8.7" height="4.4" fill="#fff"/>
<rect x="1410.8" y="927.2" width="13.2" height="4.4" fill="#fff"/>
<text transform="translate(1236.8,944.07) scale(0.8,1)" font-family="'Liberation Serif', serif" font-size="10.9" font-weight="bold" fill="#fff" stroke="#fff" stroke-width="0.45" text-anchor="middle">3</text>
<path d="M1270.5,936.77 H1277.5 M1270.5,940.73 H1277.5 M1270.5,943.37 H1277.5 M1271,936.27 V942.87 M1275.5,937.57 V942.87 M1277,939.27 V943.87 M1278.5,936.77 H1285.5 M1279.4,940.73 H1284.6 M1278.5,942.05 H1284.6 M1283.5,936.27 V943.87 M1285,936.27 V943.87" stroke="#fff" stroke-width="1.3" fill="none"/>
<text transform="translate(1324,944.07) scale(0.8,1)" font-family="'Liberation Serif', serif" font-size="10.9" font-weight="bold" fill="#fff" stroke="#fff" stroke-width="0.45" text-anchor="middle">1</text>
<path d="M1353.4,936.77 H1359.5 M1352.5,938.09 H1359.5 M1353.4,939.41 H1358.6 M1353,936.27 V943.87 M1357.5,936.27 V943.87 M1359,937.57 V942.87 M1356.38,940.07 L1359.5,943.77 M1361.4,939.41 H1367.5 M1360.5,940.73 H1367.5 M1363.62,942.05 H1367.5 M1362.5,936.27 V942.87 M1365.5,936.27 V943.87 M1363.62,940.07 L1360.5,943.77" stroke="#fff" stroke-width="1.3" fill="none"/>
<text transform="translate(1236.8,954.13) scale(0.8,1)" font-family="'Liberation Serif', serif" font-size="10.9" font-weight="bold" fill="#fff" stroke="#fff" stroke-width="0.45" text-anchor="middle">2</text>
<path d="M1267.4,946.83 H1272.6 M1266.5,948.15 H1273.5 M1266.5,953.43 H1273.5 M1267,947.63 V953.93 M1271.5,946.33 V953.93 M1270.38,950.13 L1273.5,953.83 M1269.62,950.13 L1266.5,953.83 M1277.62,946.83 H1280.6 M1274.5,948.15 H1281.5 M1274.5,953.43 H1281.5 M1275,946.33 V953.93 M1276.5,947.63 V953.93 M1279.5,946.33 V953.93 M1278.38,950.13 L1281.5,953.83 M1277.62,950.13 L1274.5,953.83 M1282.5,946.83 H1288.6 M1285.62,948.15 H1289.5 M1282.5,953.43 H1289.5 M1286,947.63 V953.93 M1287.5,946.33 V953.93 M1286.38,950.13 L1289.5,953.83 M1285.62,950.13 L1282.5,953.83" stroke="#fff" stroke-width="1.3" fill="none"/>
<text transform="translate(1324,954.13) scale(0.8,1)" font-family="'Liberation Serif', serif" font-size="10.9" font-weight="bold" fill="#fff" stroke="#fff" stroke-width="0.45" text-anchor="middle">1</text>
<text transform="translate(1360,954.13) scale(0.7,1)" font-family="'Liberation Serif', serif" font-size="10.5" font-weight="bold" fill="#fff" stroke="#fff" stroke-width="0.45" text-anchor="middle">45</text>
<path d="M1414,946.83 H1421 M1414.9,948.15 H1420.1 M1414,949.47 H1421 M1417.5,946.33 V953.93 M1420.5,949.33 V953.93 M1417.12,950.13 L1414,953.83 M1422,948.15 H1428.1 M1422,949.47 H1429 M1422,952.11 H1429 M1425.12,953.43 H1429 M1424,946.33 V952.93 M1428.5,947.63 V953.93 M1425.88,950.13 L1429,953.83" stroke="#fff" stroke-width="1.3" fill="none"/>
<text transform="translate(1236.8,964.2) scale(0.8,1)" font-family="'Liberation Serif', serif" font-size="10.9" font-weight="bold" fill="#fff" stroke="#fff" stroke-width="0.45" text-anchor="middle">1</text>
<path d="M1271.4,956.9 H1276.6 M1273.62,958.22 H1277.5 M1270.5,959.54 H1277.5 M1273.62,960.86 H1277.5 M1271,957.7 V964 M1272.5,956.4 V963 M1274,957.7 V963 M1274.38,960.2 L1277.5,963.9 M1273.62,960.2 L1270.5,963.9 M1279.4,956.9 H1284.6 M1278.5,960.86 H1285.5 M1281.62,962.18 H1284.6 M1278.5,963.5 H1285.5 M1283.5,956.4 V963 M1285,956.4 V964 M1282.38,960.2 L1285.5,963.9 M1281.62,960.2 L1278.5,963.9" stroke="#fff" stroke-width="1.3" fill="none"/>
<text transform="translate(1324,964.2) scale(0.8,1)" font-family="'Liberation Serif', serif" font-size="10.9" font-weight="bold" fill="#fff" stroke="#fff" stroke-width="0.45" text-anchor="middle">1</text>
<path d="M1353.4,956.9 H1358.6 M1352.5,958.22 H1359.5 M1352.5,962.18 H1358.6 M1352.5,963.5 H1359.5 M1357.5,956.4 V963 M1359,959.4 V964 M1356.38,960.2 L1359.5,963.9 M1355.62,960.2 L1352.5,963.9 M1363.62,956.9 H1367.5 M1361.4,959.54 H1367.5 M1360.5,963.5 H1367.5 M1361,956.4 V963 M1362.5,959.4 V963 M1367,959.4 V964 M1363.62,960.2 L1360.5,963.9" stroke="#fff" stroke-width="1.3" fill="none"/>
<path d="M1230.1,967.9 H1236.5 M1231,969.06 H1236.5 M1230.1,971.38 H1236.5 M1232.95,973.7 H1235.6 M1230.6,967.4 V973.2 M1231.95,968.7 V974.2 M1234.65,970.08 V973.2 M1233.65,970.8 L1236.5,974.1 M1232.95,970.8 L1230.1,974.1 M1237.5,967.9 H1243 M1237.5,969.06 H1243.9 M1237.5,970.22 H1243.9 M1240.35,973.7 H1243.9 M1238,968.7 V973.2 M1242.05,968.7 V973.2 M1243.4,967.4 V973.2 M1241.05,970.8 L1243.9,974.1 M1240.35,970.8 L1237.5,974.1" stroke="#fff" stroke-width="1.3" fill="none"/>
<path d="M1257.7,967.9 H1263.2 M1257.7,969.06 H1263.2 M1256.8,971.38 H1263.2 M1260,967.4 V974.2 M1262.7,967.4 V974.2 M1260.35,970.8 L1263.2,974.1 M1259.65,970.8 L1256.8,974.1" stroke="#fff" stroke-width="1.3" fill="none"/>
<path d="M1292.7,970.22 H1298.2 M1291.8,971.38 H1297.3 M1292.7,972.54 H1298.2 M1293.65,970.08 V974.2 M1295,968.7 V974.2 M1297.7,968.7 V973.2 M1295.35,970.8 L1298.2,974.1" stroke="#fff" stroke-width="1.3" fill="none"/>
<path d="M1319,969.06 H1324.1 M1319,970.22 H1324.1 M1321.67,973.7 H1325 M1320.75,968.7 V974.2 M1323.25,968.7 V974.2 M1324.5,967.4 V974.2 M1322.33,970.8 L1325,974.1 M1321.67,970.8 L1319,974.1 M1326,967.9 H1331.1 M1328.67,969.06 H1332 M1326.9,970.22 H1331.1 M1326,972.54 H1331.1 M1327.75,968.7 V973.2 M1330.25,968.7 V974.2 M1329.33,970.8 L1332,974.1" stroke="#fff" stroke-width="1.3" fill="none"/>
<path d="M1345.2,967.9 H1349.8 M1344.3,971.38 H1350.7 M1344.3,972.54 H1350.7 M1344.8,970.08 V973.2 M1346.15,967.4 V974.2 M1350.2,968.7 V973.2 M1347.85,970.8 L1350.7,974.1 M1347.15,970.8 L1344.3,974.1" stroke="#fff" stroke-width="1.3" fill="none"/>
<path d="M1373.7,970.22 H1379.2 M1373.7,971.38 H1379.2 M1375.65,973.7 H1378.3 M1373.3,970.08 V974.2 M1374.65,967.4 V973.2 M1377.35,968.7 V974.2 M1376.35,970.8 L1379.2,974.1 M1375.65,970.8 L1372.8,974.1" stroke="#fff" stroke-width="1.3" fill="none"/>
<path d="M1403.5,967.9 H1409.9 M1403.5,970.22 H1409.9 M1403.5,972.54 H1409.9 M1406.7,968.7 V973.2 M1408.05,968.7 V973.2 M1407.05,970.8 L1409.9,974.1 M1406.35,970.8 L1403.5,974.1" stroke="#fff" stroke-width="1.3" fill="none"/>
<path d="M1432.7,969.06 H1438.2 M1432.7,971.38 H1438.2 M1431.8,972.54 H1437.3 M1431.8,973.7 H1437.3 M1432.3,968.7 V973.2 M1436.35,970.08 V973.2 M1435.35,970.8 L1438.2,974.1" stroke="#fff" stroke-width="1.3" fill="none"/>
<path d="M1259.78,987.86 H1264.3 M1256.3,990.08 H1264.3 M1255.4,992.3 H1265.2 M1255.9,982 V991.8 M1260.3,980.7 V992.8 M1264.7,982 V991.8 M1260.82,986.75 L1265.2,992.7 M1266.6,983.42 H1275.5 M1266.6,985.64 H1276.4 M1266.6,987.86 H1276.4 M1266.6,992.3 H1276.4 M1267.1,980.7 V992.8 M1273.7,980.7 V992.8 M1275.9,985.5 V992.8 M1272.02,986.75 L1276.4,992.7 M1277.8,983.42 H1286.7 M1277.8,985.64 H1287.6 M1277.8,987.86 H1287.6 M1278.3,980.7 V992.8 M1287.1,980.7 V992.8 M1282.18,986.75 L1277.8,992.7" stroke="#fff" stroke-width="1.9" fill="none"/>
<path d="M1317.6,977.7 H1323.1 M1318.5,981.66 H1324 M1317.6,982.98 H1324 M1318.1,977.2 V983.8 M1319.45,977.2 V984.8 M1323.5,977.2 V984.8 M1321.15,981 L1324,984.7 M1320.45,981 L1317.6,984.7 M1327.85,977.7 H1331.4 M1325,981.66 H1331.4 M1325,982.98 H1331.4 M1326.85,978.5 V984.8 M1330.9,980.2 V984.8 M1328.55,981 L1331.4,984.7 M1327.85,981 L1325,984.7" stroke="#fff" stroke-width="1.3" fill="none"/>
<path d="M1317.6,987.3 H1324 M1318.5,988.62 H1324 M1320.45,991.26 H1324 M1318.1,986.8 V994.4 M1319.45,989.8 V994.4 M1321.15,990.6 L1324,994.3 M1325.9,987.3 H1330.5 M1327.85,989.94 H1331.4 M1327.85,992.58 H1330.5 M1325.5,988.1 V993.4 M1329.55,986.8 V994.4 M1328.55,990.6 L1331.4,994.3 M1327.85,990.6 L1325,994.3" stroke="#fff" stroke-width="1.3" fill="none"/>
<path d="M1392.6,977.7 H1399 M1392.6,980.34 H1399 M1392.6,981.66 H1399 M1394.45,980.2 V984.8 M1395.8,977.2 V984.8 M1396.15,981 L1399,984.7 M1395.45,981 L1392.6,984.7 M1400.9,979.02 H1406.4 M1400,981.66 H1406.4 M1402.85,982.98 H1405.5 M1403.2,978.5 V983.8 M1404.55,977.2 V984.8 M1403.55,981 L1406.4,984.7 M1402.85,981 L1400,984.7" stroke="#fff" stroke-width="1.3" fill="none"/>
<path d="M1393.5,987.3 H1398.1 M1395.45,992.58 H1399 M1392.6,993.9 H1399 M1393.1,986.8 V994.4 M1397.15,988.1 V994.4 M1396.15,990.6 L1399,994.3 M1395.45,990.6 L1392.6,994.3 M1400,987.3 H1405.5 M1400.9,989.94 H1406.4 M1400,992.58 H1406.4 M1400,993.9 H1405.5 M1401.85,989.8 V993.4 M1403.2,986.8 V994.4 M1405.9,986.8 V994.4 M1403.55,990.6 L1406.4,994.3" stroke="#fff" stroke-width="1.3" fill="none"/>
<text transform="translate(1431,984.8) scale(0.75,1)" font-family="'Liberation Serif', serif" font-size="10.5" font-weight="bold" fill="#fff" stroke="#fff" stroke-width="0.45" text-anchor="middle">1:2</text>
<text transform="translate(1430.5,994.6) scale(1,1)" font-family="'Liberation Serif', serif" font-size="11.5" font-weight="normal" fill="#fff" stroke="#fff" stroke-width="0.45" text-anchor="middle">JYJ-01</text>
<path d="M1233.03,997.2 H1236.8 M1233.03,999.84 H1236.8 M1230,1001.16 H1236.8 M1230.9,1003.8 H1236.8 M1231.95,996.7 V1004.3 M1233.4,996.7 V1003.3 M1236.3,996.7 V1004.3 M1233.77,1000.5 L1236.8,1004.2 M1233.03,1000.5 L1230,1004.2 M1237.8,997.2 H1243.7 M1237.8,999.84 H1243.7 M1240.83,1003.8 H1243.7 M1241.2,998 V1004.3 M1242.65,996.7 V1003.3 M1244.1,998 V1004.3" stroke="#fff" stroke-width="1.3" fill="none"/>
<path d="M1230.9,1006.3 H1236.8 M1230.9,1007.42 H1235.9 M1230,1009.66 H1236.8 M1233.03,1011.9 H1235.9 M1231.95,1005.8 V1012.4 M1233.4,1008.4 V1012.4 M1234.85,1007.1 V1011.4 M1233.77,1009.1 L1236.8,1012.3 M1237.8,1006.3 H1244.6 M1237.8,1008.54 H1244.6 M1237.8,1009.66 H1244.6 M1238.7,1011.9 H1244.6 M1239.75,1007.1 V1012.4 M1241.2,1005.8 V1012.4 M1244.1,1007.1 V1012.4 M1241.57,1009.1 L1244.6,1012.3 M1240.83,1009.1 L1237.8,1012.3" stroke="#fff" stroke-width="1.3" fill="none"/>
<text transform="translate(1011.3,923.6) scale(0.8,1)" font-family="'Liberation Serif', serif" font-size="10.9" font-weight="bold" fill="#fff" stroke="#fff" stroke-width="0.45" text-anchor="middle">41</text>
<path d="M1035.54,917.62 H1039.42 M1032.42,920.26 H1039.42 M1035.54,922.9 H1039.42 M1032.92,915.8 V922.4 M1035.92,915.8 V923.4 M1038.92,915.8 V922.4 M1036.3,919.6 L1039.42,923.3 M1040.42,917.62 H1047.42 M1041.32,920.26 H1047.42 M1041.32,921.58 H1047.42 M1040.42,922.9 H1047.42 M1043.92,915.8 V923.4 M1046.92,917.1 V923.4 M1043.54,919.6 L1040.42,923.3" stroke="#fff" stroke-width="1.3" fill="none"/>
<text transform="translate(1047.92,923.6) scale(0.8,1)" font-family="'Liberation Serif', serif" font-size="10.9" font-weight="bold" fill="#fff" stroke="#fff" stroke-width="0.45" text-anchor="start">M10X30</text>
<text transform="translate(1097.5,923.6) scale(0.8,1)" font-family="'Liberation Serif', serif" font-size="10.9" font-weight="bold" fill="#fff" stroke="#fff" stroke-width="0.45" text-anchor="middle">10</text>
<rect x="1174" y="916.6" width="7.7" height="4.4" fill="#fff"/>
<rect x="1185" y="916.6" width="8" height="4.4" fill="#fff"/>
<text transform="translate(1011.3,933.6) scale(0.8,1)" font-family="'Liberation Serif', serif" font-size="10.9" font-weight="bold" fill="#fff" stroke="#fff" stroke-width="0.45" text-anchor="middle">40</text>
<path d="M1040.4,928.94 H1046.5 M1039.5,930.26 H1046.5 M1039.5,931.58 H1046.5 M1040,927.1 V933.4 M1043,928.8 V933.4 M1044.5,928.8 V933.4 M1042.62,929.6 L1039.5,933.3 M1047.5,926.3 H1054.5 M1047.5,928.94 H1053.6 M1047.5,931.58 H1054.5 M1049.5,925.8 V932.4 M1051,925.8 V933.4 M1054,927.1 V932.4 M1051.38,929.6 L1054.5,933.3 M1050.62,929.6 L1047.5,933.3 M1055.5,927.62 H1061.6 M1056.4,928.94 H1062.5 M1055.5,930.26 H1062.5 M1055.5,932.9 H1062.5 M1056,928.8 V933.4 M1060.5,928.8 V932.4 M1062,925.8 V933.4 M1059.38,929.6 L1062.5,933.3 M1063.5,927.62 H1070.5 M1066.62,931.58 H1070.5 M1063.5,932.9 H1070.5 M1065.5,927.1 V933.4 M1067,925.8 V932.4 M1070,928.8 V933.4 M1067.38,929.6 L1070.5,933.3 M1074.62,926.3 H1078.5 M1071.5,928.94 H1077.6 M1071.5,930.26 H1078.5 M1072.4,932.9 H1078.5 M1075,925.8 V933.4 M1076.5,925.8 V932.4 M1078,927.1 V932.4 M1075.38,929.6 L1078.5,933.3" stroke="#fff" stroke-width="1.3" fill="none"/>
<text transform="translate(1097.5,933.6) scale(0.8,1)" font-family="'Liberation Serif', serif" font-size="10.9" font-weight="bold" fill="#fff" stroke="#fff" stroke-width="0.45" text-anchor="middle">1</text>
<path d="M1126.9,926.3 H1132.1 M1126.9,927.62 H1132.1 M1129.12,930.26 H1133 M1129.12,931.58 H1132.1 M1128,925.8 V933.4 M1129.5,925.8 V932.4 M1132.5,928.8 V932.4 M1129.88,929.6 L1133,933.3 M1134.9,930.26 H1140.1 M1134,931.58 H1140.1 M1137.12,932.9 H1141 M1134.5,925.8 V932.4 M1136,925.8 V933.4 M1140.5,927.1 V932.4 M1137.88,929.6 L1141,933.3" stroke="#fff" stroke-width="1.3" fill="none"/>
<text transform="translate(1011.3,943.6) scale(0.8,1)" font-family="'Liberation Serif', serif" font-size="10.9" font-weight="bold" fill="#fff" stroke="#fff" stroke-width="0.45" text-anchor="middle">39</text>
<path d="M1049.62,937.62 H1053.5 M1046.5,940.26 H1052.6 M1046.5,942.9 H1053.5 M1047,935.8 V942.4 M1051.5,935.8 V943.4 M1053,938.8 V942.4 M1050.38,939.6 L1053.5,943.3 M1054.5,936.3 H1061.5 M1054.5,937.62 H1061.5 M1055.4,940.26 H1061.5 M1054.5,942.9 H1060.6 M1056.5,935.8 V942.4 M1059.5,935.8 V943.4 M1061,935.8 V942.4 M1057.62,939.6 L1054.5,943.3" stroke="#fff" stroke-width="1.3" fill="none"/>
<text transform="translate(1097.5,943.6) scale(0.8,1)" font-family="'Liberation Serif', serif" font-size="10.9" font-weight="bold" fill="#fff" stroke="#fff" stroke-width="0.45" text-anchor="middle">1</text>
<text transform="translate(1011.3,953.6) scale(0.8,1)" font-family="'Liberation Serif', serif" font-size="10.9" font-weight="bold" fill="#fff" stroke="#fff" stroke-width="0.45" text-anchor="middle">38</text>
<path d="M1047.4,947.62 H1052.6 M1047.4,948.94 H1052.6 M1046.5,952.9 H1053.5 M1048.5,947.1 V952.4 M1050,948.8 V953.4 M1049.62,949.6 L1046.5,953.3 M1054.5,946.3 H1060.6 M1054.5,948.94 H1061.5 M1055.4,951.58 H1061.5 M1055,948.8 V953.4 M1058,945.8 V953.4 M1059.5,945.8 V953.4 M1057.62,949.6 L1054.5,953.3" stroke="#fff" stroke-width="1.3" fill="none"/>
<text transform="translate(1097.5,953.6) scale(0.8,1)" font-family="'Liberation Serif', serif" font-size="10.9" font-weight="bold" fill="#fff" stroke="#fff" stroke-width="0.45" text-anchor="middle">1</text>
<text transform="translate(1133.5,953.6) scale(0.7,1)" font-family="'Liberation Serif', serif" font-size="10.5" font-weight="bold" fill="#fff" stroke="#fff" stroke-width="0.45" text-anchor="middle">40Cr</text>
<path d="M1187.9,947.62 H1193.1 M1187.9,948.94 H1194 M1187,950.26 H1194 M1187.9,952.9 H1194 M1187.5,945.8 V953.4 M1192,945.8 V952.4 M1193.5,948.8 V953.4 M1195.9,946.3 H1202 M1195,947.62 H1202 M1195,950.26 H1201.1 M1195.5,947.1 V952.4 M1197,948.8 V953.4 M1201.5,948.8 V953.4 M1198.12,949.6 L1195,953.3" stroke="#fff" stroke-width="1.3" fill="none"/>
<text transform="translate(1011.3,964.2) scale(0.8,1)" font-family="'Liberation Serif', serif" font-size="10.9" font-weight="bold" fill="#fff" stroke="#fff" stroke-width="0.45" text-anchor="middle">37</text>
<path d="M1040.6,959.54 H1047.6 M1040.6,960.86 H1047.6 M1040.6,962.18 H1046.7 M1042.6,959.4 V964 M1044.1,956.4 V963 M1043.72,960.2 L1040.6,963.9" stroke="#fff" stroke-width="1.3" fill="none"/>
<text transform="translate(1048.1,964.2) scale(0.8,1)" font-family="'Liberation Serif', serif" font-size="10.9" font-weight="bold" fill="#fff" stroke="#fff" stroke-width="0.45" text-anchor="start">16X10</text>
<text transform="translate(1097.5,964.2) scale(0.8,1)" font-family="'Liberation Serif', serif" font-size="10.9" font-weight="bold" fill="#fff" stroke="#fff" stroke-width="0.45" text-anchor="middle">1</text>
<rect x="1173" y="957.2" width="8.7" height="4.4" fill="#fff"/>
<rect x="1184" y="957.2" width="19.8" height="4.4" fill="#fff"/>
<text transform="translate(1011.3,974.3) scale(0.8,1)" font-family="'Liberation Serif', serif" font-size="10.9" font-weight="bold" fill="#fff" stroke="#fff" stroke-width="0.45" text-anchor="middle">36</text>
<rect x="1028.7" y="966.8" width="28" height="6.7" fill="#fff" rx="2"/>
<text transform="translate(1097.5,974.3) scale(0.8,1)" font-family="'Liberation Serif', serif" font-size="10.9" font-weight="bold" fill="#fff" stroke="#fff" stroke-width="0.45" text-anchor="middle">45</text>
<rect x="1171" y="967.3" width="8.7" height="4.4" fill="#fff"/>
<rect x="1182" y="967.3" width="3.8" height="4.4" fill="#fff"/>
<text transform="translate(1011.3,984.3) scale(0.8,1)" font-family="'Liberation Serif', serif" font-size="10.9" font-weight="bold" fill="#fff" stroke="#fff" stroke-width="0.45" text-anchor="middle">35</text>
<path d="M1046.5,978.32 H1052.6 M1046.5,979.64 H1053.5 M1049.62,982.28 H1052.6 M1046.5,983.6 H1053.5 M1048.5,976.5 V984.1 M1050,977.8 V983.1 M1053,977.8 V983.1 M1049.62,980.3 L1046.5,984 M1055.4,977 H1060.6 M1055.4,979.64 H1061.5 M1055.4,980.96 H1061.5 M1054.5,983.6 H1061.5 M1056.5,976.5 V983.1 M1061,979.5 V984.1 M1058.38,980.3 L1061.5,984" stroke="#fff" stroke-width="1.3" fill="none"/>
<text transform="translate(1097.5,984.3) scale(0.8,1)" font-family="'Liberation Serif', serif" font-size="10.9" font-weight="bold" fill="#fff" stroke="#fff" stroke-width="0.45" text-anchor="middle">1</text>
<path d="M1126,977 H1133 M1126.9,978.32 H1133 M1126.9,982.28 H1133 M1126.5,976.5 V984.1 M1132.5,977.8 V984.1 M1129.88,980.3 L1133,984 M1134.9,977 H1141 M1134.9,980.96 H1141 M1134,983.6 H1141 M1136,976.5 V984.1 M1137.5,976.5 V984.1 M1140.5,979.5 V984.1 M1137.12,980.3 L1134,984" stroke="#fff" stroke-width="1.3" fill="none"/>
<text transform="translate(1011.3,994.2) scale(0.8,1)" font-family="'Liberation Serif', serif" font-size="10.9" font-weight="bold" fill="#fff" stroke="#fff" stroke-width="0.45" text-anchor="middle">34</text>
<path d="M1040.6,986.9 H1047.6 M1040.6,988.22 H1047.6 M1040.6,992.18 H1046.7 M1041.5,993.5 H1046.7 M1041.1,987.7 V993 M1042.6,986.4 V993 M1044.48,990.2 L1047.6,993.9 M1043.72,990.2 L1040.6,993.9" stroke="#fff" stroke-width="1.3" fill="none"/>
<text transform="translate(1048.1,994.2) scale(0.8,1)" font-family="'Liberation Serif', serif" font-size="10.9" font-weight="bold" fill="#fff" stroke="#fff" stroke-width="0.45" text-anchor="start">16X10</text>
<text transform="translate(1097.5,994.2) scale(0.8,1)" font-family="'Liberation Serif', serif" font-size="10.9" font-weight="bold" fill="#fff" stroke="#fff" stroke-width="0.45" text-anchor="middle">1</text>
<rect x="1170" y="987.2" width="8.7" height="4.4" fill="#fff"/>
<rect x="1181" y="987.2" width="19.8" height="4.4" fill="#fff"/>
<text transform="translate(1011.3,1003.9) scale(0.8,1)" font-family="'Liberation Serif', serif" font-size="10.9" font-weight="bold" fill="#fff" stroke="#fff" stroke-width="0.45" text-anchor="middle">33</text>
<path d="M1043.72,996.6 H1046.7 M1041.5,999.24 H1047.6 M1040.6,1000.56 H1047.6 M1041.1,999.1 V1002.7 M1044.1,999.1 V1003.7" stroke="#fff" stroke-width="1.3" fill="none"/>
<text transform="translate(1048.1,1003.9) scale(0.8,1)" font-family="'Liberation Serif', serif" font-size="10.9" font-weight="bold" fill="#fff" stroke="#fff" stroke-width="0.45" text-anchor="start">16X10</text>
<text transform="translate(1097.5,1003.9) scale(0.8,1)" font-family="'Liberation Serif', serif" font-size="10.9" font-weight="bold" fill="#fff" stroke="#fff" stroke-width="0.45" text-anchor="middle">1</text>
<rect x="1173" y="996.9" width="8.7" height="4.4" fill="#fff"/>
<rect x="1184" y="996.9" width="19.8" height="4.4" fill="#fff"/>
<path d="M1004.4,1008.78 H1010.8 M1005.3,1010.86 H1010.8 M1004.4,1011.9 H1010.8 M1006.25,1006.2 V1012.4 M1010.3,1007.5 V1012.4 M1007.95,1009.3 L1010.8,1012.3 M1012.7,1006.7 H1017.3 M1014.65,1007.74 H1018.2 M1012.7,1008.78 H1017.3 M1014.65,1010.86 H1017.3 M1012.3,1007.5 V1012.4 M1015,1008.64 V1012.4 M1017.7,1007.5 V1012.4 M1014.65,1009.3 L1011.8,1012.3" stroke="#fff" stroke-width="1.3" fill="none"/>
<path d="M1032.8,1006.7 H1039.2 M1032.8,1007.74 H1038.3 M1032.8,1010.86 H1039.2 M1033.3,1006.2 V1011.4 M1034.65,1006.2 V1012.4 M1036,1006.2 V1012.4 M1035.65,1009.3 L1032.8,1012.3" stroke="#fff" stroke-width="1.3" fill="none"/>
<path d="M1068.7,1006.7 H1074.2 M1067.8,1008.78 H1073.3 M1067.8,1009.82 H1074.2 M1070.65,1010.86 H1073.3 M1068.3,1008.64 V1012.4 M1069.65,1008.64 V1011.4 M1071,1006.2 V1012.4 M1071.35,1009.3 L1074.2,1012.3 M1070.65,1009.3 L1067.8,1012.3" stroke="#fff" stroke-width="1.3" fill="none"/>
<path d="M1091.5,1007.74 H1097.5 M1091.5,1008.78 H1096.6 M1092.4,1011.9 H1097.5 M1093.25,1007.5 V1012.4 M1095.75,1007.5 V1012.4 M1097,1006.2 V1012.4 M1094.83,1009.3 L1097.5,1012.3 M1098.5,1007.74 H1103.6 M1098.5,1008.78 H1104.5 M1099.4,1009.82 H1104.5 M1099,1007.5 V1011.4 M1100.25,1006.2 V1012.4 M1102.75,1006.2 V1012.4 M1101.83,1009.3 L1104.5,1012.3 M1101.17,1009.3 L1098.5,1012.3" stroke="#fff" stroke-width="1.3" fill="none"/>
<path d="M1121.65,1006.7 H1124.3 M1121.65,1008.78 H1125.2 M1121.65,1009.82 H1125.2 M1121.65,1011.9 H1125.2 M1120.65,1006.2 V1011.4 M1124.7,1006.2 V1012.4 M1122.35,1009.3 L1125.2,1012.3" stroke="#fff" stroke-width="1.3" fill="none"/>
<path d="M1148.7,1006.7 H1154.2 M1147.8,1009.82 H1154.2 M1150.65,1010.86 H1154.2 M1150.65,1011.9 H1154.2 M1149.65,1006.2 V1011.4 M1153.7,1007.5 V1012.4 M1150.65,1009.3 L1147.8,1012.3" stroke="#fff" stroke-width="1.3" fill="none"/>
<path d="M1177.8,1006.7 H1184.2 M1178.7,1007.74 H1184.2 M1177.8,1008.78 H1184.2 M1178.3,1008.64 V1011.4 M1183.7,1007.5 V1012.4 M1181.35,1009.3 L1184.2,1012.3" stroke="#fff" stroke-width="1.3" fill="none"/>
<path d="M1208.7,1008.78 H1213.3 M1210.65,1009.82 H1213.3 M1208.7,1010.86 H1214.2 M1210.65,1011.9 H1214.2 M1208.3,1008.64 V1012.4 M1212.35,1008.64 V1012.4 M1213.7,1006.2 V1012.4 M1211.35,1009.3 L1214.2,1012.3" stroke="#fff" stroke-width="1.3" fill="none"/>
<text transform="translate(49.3,66.3) scale(0.74,1)" font-family="'Liberation Serif', serif" font-size="14" font-weight="bold" fill="#fff" stroke="#fff" stroke-width="0.3" text-anchor="start">9</text>
<text transform="translate(135,66.3) scale(0.74,1)" font-family="'Liberation Serif', serif" font-size="14" font-weight="bold" fill="#fff" stroke="#fff" stroke-width="0.3" text-anchor="start">10</text>
<text transform="translate(255,66.3) scale(0.74,1)" font-family="'Liberation Serif', serif" font-size="14" font-weight="bold" fill="#fff" stroke="#fff" stroke-width="0.3" text-anchor="start">11</text>
<text transform="translate(370.7,66.3) scale(0.74,1)" font-family="'Liberation Serif', serif" font-size="14" font-weight="bold" fill="#fff" stroke="#fff" stroke-width="0.3" text-anchor="start">12</text>
<text transform="translate(456.7,66.3) scale(0.74,1)" font-family="'Liberation Serif', serif" font-size="14" font-weight="bold" fill="#fff" stroke="#fff" stroke-width="0.3" text-anchor="start">13</text>
<text transform="translate(558.7,66.3) scale(0.74,1)" font-family="'Liberation Serif', serif" font-size="14" font-weight="bold" fill="#fff" stroke="#fff" stroke-width="0.3" text-anchor="start">14</text>
<text transform="translate(620.3,66.3) scale(0.74,1)" font-family="'Liberation Serif', serif" font-size="14" font-weight="bold" fill="#fff" stroke="#fff" stroke-width="0.3" text-anchor="start">15</text>
<text transform="translate(707.3,66.3) scale(0.74,1)" font-family="'Liberation Serif', serif" font-size="14" font-weight="bold" fill="#fff" stroke="#fff" stroke-width="0.3" text-anchor="start">16</text>
<text transform="translate(49.3,118.3) scale(0.74,1)" font-family="'Liberation Serif', serif" font-size="14" font-weight="bold" fill="#fff" stroke="#fff" stroke-width="0.3" text-anchor="start">8</text>
<text transform="translate(49.3,164.3) scale(0.74,1)" font-family="'Liberation Serif', serif" font-size="14" font-weight="bold" fill="#fff" stroke="#fff" stroke-width="0.3" text-anchor="start">7</text>
<text transform="translate(49.3,215.8) scale(0.74,1)" font-family="'Liberation Serif', serif" font-size="14" font-weight="bold" fill="#fff" stroke="#fff" stroke-width="0.3" text-anchor="start">6</text>
<text transform="translate(49.3,270.9) scale(0.74,1)" font-family="'Liberation Serif', serif" font-size="14" font-weight="bold" fill="#fff" stroke="#fff" stroke-width="0.3" text-anchor="start">5</text>
<text transform="translate(50,355.6) scale(0.74,1)" font-family="'Liberation Serif', serif" font-size="14" font-weight="bold" fill="#fff" stroke="#fff" stroke-width="0.3" text-anchor="start">4</text>
<text transform="translate(49.3,714.6) scale(0.74,1)" font-family="'Liberation Serif', serif" font-size="14" font-weight="bold" fill="#fff" stroke="#fff" stroke-width="0.3" text-anchor="start">3</text>
<text transform="translate(49.3,801.1) scale(0.74,1)" font-family="'Liberation Serif', serif" font-size="14" font-weight="bold" fill="#fff" stroke="#fff" stroke-width="0.3" text-anchor="start">2</text>
<text transform="translate(46,894.6) scale(0.74,1)" font-family="'Liberation Serif', serif" font-size="14" font-weight="bold" fill="#fff" stroke="#fff" stroke-width="0.3" text-anchor="start">1</text>
<text transform="translate(385,600.6) scale(0.74,1)" font-family="'Liberation Serif', serif" font-size="14" font-weight="bold" fill="#fff" stroke="#fff" stroke-width="0.3" text-anchor="start">38</text>
<text transform="translate(474.3,600.6) scale(0.74,1)" font-family="'Liberation Serif', serif" font-size="14" font-weight="bold" fill="#fff" stroke="#fff" stroke-width="0.3" text-anchor="start">37</text>
<text transform="translate(839.7,67.2) scale(0.74,1)" font-family="'Liberation Serif', serif" font-size="14" font-weight="bold" fill="#fff" stroke="#fff" stroke-width="0.3" text-anchor="start">17</text>
<text transform="translate(941.3,65.6) scale(0.74,1)" font-family="'Liberation Serif', serif" font-size="14" font-weight="bold" fill="#fff" stroke="#fff" stroke-width="0.3" text-anchor="start">18</text>
<text transform="translate(1021.7,65.6) scale(0.74,1)" font-family="'Liberation Serif', serif" font-size="14" font-weight="bold" fill="#fff" stroke="#fff" stroke-width="0.3" text-anchor="start">19</text>
<text transform="translate(1067.7,104) scale(0.74,1)" font-family="'Liberation Serif', serif" font-size="14" font-weight="bold" fill="#fff" stroke="#fff" stroke-width="0.3" text-anchor="start">20</text>
<text transform="translate(1067.7,188.4) scale(0.74,1)" font-family="'Liberation Serif', serif" font-size="14" font-weight="bold" fill="#fff" stroke="#fff" stroke-width="0.3" text-anchor="start">21</text>
<text transform="translate(1067.7,237.3) scale(0.74,1)" font-family="'Liberation Serif', serif" font-size="14" font-weight="bold" fill="#fff" stroke="#fff" stroke-width="0.3" text-anchor="start">22</text>
<text transform="translate(1067.7,290) scale(0.74,1)" font-family="'Liberation Serif', serif" font-size="14" font-weight="bold" fill="#fff" stroke="#fff" stroke-width="0.3" text-anchor="start">23</text>
<text transform="translate(1067.7,321.8) scale(0.74,1)" font-family="'Liberation Serif', serif" font-size="14" font-weight="bold" fill="#fff" stroke="#fff" stroke-width="0.3" text-anchor="start">24</text>
<text transform="translate(1067.7,363.8) scale(0.74,1)" font-family="'Liberation Serif', serif" font-size="14" font-weight="bold" fill="#fff" stroke="#fff" stroke-width="0.3" text-anchor="start">25</text>
<text transform="translate(1067.7,388.8) scale(0.74,1)" font-family="'Liberation Serif', serif" font-size="14" font-weight="bold" fill="#fff" stroke="#fff" stroke-width="0.3" text-anchor="start">26</text>
<text transform="translate(1067.7,406.3) scale(0.74,1)" font-family="'Liberation Serif', serif" font-size="14" font-weight="bold" fill="#fff" stroke="#fff" stroke-width="0.3" text-anchor="start">27</text>
<text transform="translate(1067.7,465.3) scale(0.74,1)" font-family="'Liberation Serif', serif" font-size="14" font-weight="bold" fill="#fff" stroke="#fff" stroke-width="0.3" text-anchor="start">28</text>
<text transform="translate(1067.7,498.6) scale(0.74,1)" font-family="'Liberation Serif', serif" font-size="14" font-weight="bold" fill="#fff" stroke="#fff" stroke-width="0.3" text-anchor="start">29</text>
<text transform="translate(1067.7,545.3) scale(0.74,1)" font-family="'Liberation Serif', serif" font-size="14" font-weight="bold" fill="#fff" stroke="#fff" stroke-width="0.3" text-anchor="start">30</text>
<text transform="translate(1067.7,600.6) scale(0.74,1)" font-family="'Liberation Serif', serif" font-size="14" font-weight="bold" fill="#fff" stroke="#fff" stroke-width="0.3" text-anchor="start">31</text>
<text transform="translate(977.7,600.6) scale(0.74,1)" font-family="'Liberation Serif', serif" font-size="14" font-weight="bold" fill="#fff" stroke="#fff" stroke-width="0.3" text-anchor="start">32</text>
<text transform="translate(838.5,600.6) scale(0.74,1)" font-family="'Liberation Serif', serif" font-size="14" font-weight="bold" fill="#fff" stroke="#fff" stroke-width="0.3" text-anchor="start">33</text>
<text transform="translate(753.5,600.6) scale(0.74,1)" font-family="'Liberation Serif', serif" font-size="14" font-weight="bold" fill="#fff" stroke="#fff" stroke-width="0.3" text-anchor="start">34</text>
<text transform="translate(673.3,602.8) scale(0.74,1)" font-family="'Liberation Serif', serif" font-size="14" font-weight="bold" fill="#fff" stroke="#fff" stroke-width="0.3" text-anchor="start">35</text>
<text transform="translate(580,600.6) scale(0.74,1)" font-family="'Liberation Serif', serif" font-size="14" font-weight="bold" fill="#fff" stroke="#fff" stroke-width="0.3" text-anchor="start">36</text>
<text transform="translate(1067.7,670.6) scale(0.74,1)" font-family="'Liberation Serif', serif" font-size="14" font-weight="bold" fill="#fff" stroke="#fff" stroke-width="0.3" text-anchor="start">39</text>
<text transform="translate(1067.7,738.2) scale(0.74,1)" font-family="'Liberation Serif', serif" font-size="14" font-weight="bold" fill="#fff" stroke="#fff" stroke-width="0.3" text-anchor="start">40</text>
<text transform="translate(1067.4,789.6) scale(0.74,1)" font-family="'Liberation Serif', serif" font-size="14" font-weight="bold" fill="#fff" stroke="#fff" stroke-width="0.3" text-anchor="start">41</text>
<text transform="translate(139.6,353) rotate(-90) scale(0.8,1)" font-family="'Liberation Serif', serif" font-size="14.5" font-weight="bold" fill="#ff0000" stroke="#ff0000" stroke-width="0.3" text-anchor="middle">258</text>
<text transform="translate(669.8,531.6) scale(0.8,1)" font-family="'Liberation Serif', serif" font-size="14.5" font-weight="bold" fill="#ff0000" stroke="#ff0000" stroke-width="0.3" text-anchor="middle">329</text>
<text transform="translate(757,390) rotate(-90) scale(0.8,1)" font-family="'Liberation Serif', serif" font-size="14.5" font-weight="bold" fill="#ff0000" stroke="#ff0000" stroke-width="0.3" text-anchor="middle">143,75</text>
<text transform="translate(757.4,308) rotate(-90) scale(0.8,1)" font-family="'Liberation Serif', serif" font-size="14.5" font-weight="bold" fill="#ff0000" stroke="#ff0000" stroke-width="0.3" text-anchor="middle">116,25</text>
<text transform="translate(613.6,786) rotate(-90) scale(0.8,1)" font-family="'Liberation Serif', serif" font-size="14.5" font-weight="bold" fill="#ff0000" stroke="#ff0000" stroke-width="0.3" text-anchor="middle">436,95</text>
<text transform="translate(339.2,816) rotate(-90) scale(0.8,1)" font-family="'Liberation Serif', serif" font-size="14.5" font-weight="bold" fill="#ff0000" stroke="#ff0000" stroke-width="0.3" text-anchor="middle">75,05</text>
<text transform="translate(977.5,838.5) rotate(-90) scale(0.8,1)" font-family="'Liberation Serif', serif" font-size="14.5" font-weight="bold" fill="#ff0000" stroke="#ff0000" stroke-width="0.3" text-anchor="middle">271,24</text>
<text transform="translate(853.7,986.2) scale(0.8,1)" font-family="'Liberation Serif', serif" font-size="14.5" font-weight="bold" fill="#ff0000" stroke="#ff0000" stroke-width="0.3" text-anchor="middle">270,5</text>
<text transform="translate(344.8,273.5) rotate(-90) scale(0.66,1)" font-family="'Liberation Serif', serif" font-size="12" font-weight="bold" fill="#ff0000" stroke="#ff0000" stroke-width="0.3" text-anchor="middle">Φ61.37</text>
<rect x="329.5" y="261" width="6.5" height="5.2" fill="none" stroke="#ff0000" stroke-width="1.2"/>
<line x1="329.5" y1="263.6" x2="336" y2="263.6" stroke="#ff0000" stroke-width="1"/>
<line x1="332.8" y1="261" x2="332.8" y2="266.2" stroke="#ff0000" stroke-width="1"/>
<rect x="329.5" y="267.4" width="6.5" height="5.2" fill="none" stroke="#ff0000" stroke-width="1.2"/>
<line x1="329.5" y1="270" x2="336" y2="270" stroke="#ff0000" stroke-width="1"/>
<line x1="332.8" y1="267.4" x2="332.8" y2="272.6" stroke="#ff0000" stroke-width="1"/>
<text transform="translate(545.6,272.8) rotate(-90) scale(0.64,1)" font-family="'Liberation Serif', serif" font-size="12.5" font-weight="bold" fill="#ff0000" stroke="#ff0000" stroke-width="0.3" text-anchor="middle">Φ65.56</text>
<rect x="531" y="260.5" width="6.5" height="5.2" fill="none" stroke="#ff0000" stroke-width="1.2"/>
<line x1="531" y1="263.1" x2="537.5" y2="263.1" stroke="#ff0000" stroke-width="1"/>
<line x1="534.3" y1="260.5" x2="534.3" y2="265.7" stroke="#ff0000" stroke-width="1"/>
<rect x="531" y="266.9" width="6.5" height="5.2" fill="none" stroke="#ff0000" stroke-width="1.2"/>
<line x1="531" y1="269.5" x2="537.5" y2="269.5" stroke="#ff0000" stroke-width="1"/>
<line x1="534.3" y1="266.9" x2="534.3" y2="272.1" stroke="#ff0000" stroke-width="1"/>
<text transform="translate(487,435.5) rotate(-90) scale(0.66,1)" font-family="'Liberation Serif', serif" font-size="12.5" font-weight="bold" fill="#ff0000" stroke="#ff0000" stroke-width="0.3" text-anchor="middle">Φ55.56</text>
<rect x="471" y="422.5" width="6.5" height="5.2" fill="none" stroke="#ff0000" stroke-width="1.2"/>
<line x1="471" y1="425.1" x2="477.5" y2="425.1" stroke="#ff0000" stroke-width="1"/>
<line x1="474.3" y1="422.5" x2="474.3" y2="427.7" stroke="#ff0000" stroke-width="1"/>
<rect x="471" y="428.9" width="6.5" height="5.2" fill="none" stroke="#ff0000" stroke-width="1.2"/>
<line x1="471" y1="431.5" x2="477.5" y2="431.5" stroke="#ff0000" stroke-width="1"/>
<line x1="474.3" y1="428.9" x2="474.3" y2="434.1" stroke="#ff0000" stroke-width="1"/>
<text transform="translate(731.8,434.8) rotate(-90) scale(0.66,1)" font-family="'Liberation Serif', serif" font-size="12.5" font-weight="bold" fill="#ff0000" stroke="#ff0000" stroke-width="0.3" text-anchor="middle">Φ41.56</text>
<rect x="716" y="421" width="6.5" height="5.2" fill="none" stroke="#ff0000" stroke-width="1.2"/>
<line x1="716" y1="423.6" x2="722.5" y2="423.6" stroke="#ff0000" stroke-width="1"/>
<line x1="719.3" y1="421" x2="719.3" y2="426.2" stroke="#ff0000" stroke-width="1"/>
<rect x="716" y="427.4" width="6.5" height="5.2" fill="none" stroke="#ff0000" stroke-width="1.2"/>
<line x1="716" y1="430" x2="722.5" y2="430" stroke="#ff0000" stroke-width="1"/>
<line x1="719.3" y1="427.4" x2="719.3" y2="432.6" stroke="#ff0000" stroke-width="1"/>
<text transform="translate(898.2,296) rotate(-90) scale(0.66,1)" font-family="'Liberation Serif', serif" font-size="12.5" font-weight="bold" fill="#ff0000" stroke="#ff0000" stroke-width="0.3" text-anchor="middle">Φ25.56</text>
<rect x="883.3" y="283.3" width="6.5" height="5.2" fill="none" stroke="#ff0000" stroke-width="1.2"/>
<line x1="883.3" y1="285.9" x2="889.8" y2="285.9" stroke="#ff0000" stroke-width="1"/>
<line x1="886.6" y1="283.3" x2="886.6" y2="288.5" stroke="#ff0000" stroke-width="1"/>
<rect x="883.3" y="289.7" width="6.5" height="5.2" fill="none" stroke="#ff0000" stroke-width="1.2"/>
<line x1="883.3" y1="292.3" x2="889.8" y2="292.3" stroke="#ff0000" stroke-width="1"/>
<line x1="886.6" y1="289.7" x2="886.6" y2="294.9" stroke="#ff0000" stroke-width="1"/>
<text transform="translate(779,370) rotate(-90) scale(0.8,1)" font-family="'Liberation Serif', serif" font-size="12.5" font-weight="bold" fill="#ff0000" stroke="#ff0000" stroke-width="0.3" text-anchor="middle">Φ105</text>
<rect x="764" y="357.5" width="6.5" height="5.2" fill="none" stroke="#ff0000" stroke-width="1.2"/>
<line x1="764" y1="360.1" x2="770.5" y2="360.1" stroke="#ff0000" stroke-width="1"/>
<line x1="767.3" y1="357.5" x2="767.3" y2="362.7" stroke="#ff0000" stroke-width="1"/>
<rect x="764" y="363.9" width="6.5" height="5.2" fill="none" stroke="#ff0000" stroke-width="1.2"/>
<line x1="764" y1="366.5" x2="770.5" y2="366.5" stroke="#ff0000" stroke-width="1"/>
<line x1="767.3" y1="363.9" x2="767.3" y2="369.1" stroke="#ff0000" stroke-width="1"/>
<text transform="translate(818.3,370) rotate(-90) scale(0.78,1)" font-family="'Liberation Serif', serif" font-size="12.5" font-weight="bold" fill="#ff0000" stroke="#ff0000" stroke-width="0.3" text-anchor="middle">Φ37.5</text>
<rect x="803.3" y="357.5" width="6.5" height="5.2" fill="none" stroke="#ff0000" stroke-width="1.2"/>
<line x1="803.3" y1="360.1" x2="809.8" y2="360.1" stroke="#ff0000" stroke-width="1"/>
<line x1="806.6" y1="357.5" x2="806.6" y2="362.7" stroke="#ff0000" stroke-width="1"/>
<rect x="803.3" y="363.9" width="6.5" height="5.2" fill="none" stroke="#ff0000" stroke-width="1.2"/>
<line x1="803.3" y1="366.5" x2="809.8" y2="366.5" stroke="#ff0000" stroke-width="1"/>
<line x1="806.6" y1="363.9" x2="806.6" y2="369.1" stroke="#ff0000" stroke-width="1"/>
<text transform="translate(872.8,370) rotate(-90) scale(0.78,1)" font-family="'Liberation Serif', serif" font-size="12.5" font-weight="bold" fill="#ff0000" stroke="#ff0000" stroke-width="0.3" text-anchor="middle">Φ37.5</text>
<rect x="857.3" y="357.5" width="6.5" height="5.2" fill="none" stroke="#ff0000" stroke-width="1.2"/>
<line x1="857.3" y1="360.1" x2="863.8" y2="360.1" stroke="#ff0000" stroke-width="1"/>
<line x1="860.6" y1="357.5" x2="860.6" y2="362.7" stroke="#ff0000" stroke-width="1"/>
<rect x="857.3" y="363.9" width="6.5" height="5.2" fill="none" stroke="#ff0000" stroke-width="1.2"/>
<line x1="857.3" y1="366.5" x2="863.8" y2="366.5" stroke="#ff0000" stroke-width="1"/>
<line x1="860.6" y1="363.9" x2="860.6" y2="369.1" stroke="#ff0000" stroke-width="1"/>
<text transform="translate(844.4,440.5) rotate(-90) scale(0.66,1)" font-family="'Liberation Serif', serif" font-size="12.5" font-weight="bold" fill="#ff0000" stroke="#ff0000" stroke-width="0.3" text-anchor="middle">Φ57.56</text>
<rect x="828.3" y="428.3" width="6.5" height="5.2" fill="none" stroke="#ff0000" stroke-width="1.2"/>
<line x1="828.3" y1="430.9" x2="834.8" y2="430.9" stroke="#ff0000" stroke-width="1"/>
<line x1="831.6" y1="428.3" x2="831.6" y2="433.5" stroke="#ff0000" stroke-width="1"/>
<rect x="828.3" y="434.7" width="6.5" height="5.2" fill="none" stroke="#ff0000" stroke-width="1.2"/>
<line x1="828.3" y1="437.3" x2="834.8" y2="437.3" stroke="#ff0000" stroke-width="1"/>
<line x1="831.6" y1="434.7" x2="831.6" y2="439.9" stroke="#ff0000" stroke-width="1"/>
<text transform="translate(917.6,436.5) rotate(-90) scale(0.66,1)" font-family="'Liberation Serif', serif" font-size="12.5" font-weight="bold" fill="#ff0000" stroke="#ff0000" stroke-width="0.3" text-anchor="middle">Φ50.56</text>
<rect x="902.8" y="422.8" width="6.5" height="5.2" fill="none" stroke="#ff0000" stroke-width="1.2"/>
<line x1="902.8" y1="425.4" x2="909.3" y2="425.4" stroke="#ff0000" stroke-width="1"/>
<line x1="906.1" y1="422.8" x2="906.1" y2="428" stroke="#ff0000" stroke-width="1"/>
<rect x="902.8" y="429.2" width="6.5" height="5.2" fill="none" stroke="#ff0000" stroke-width="1.2"/>
<line x1="902.8" y1="431.8" x2="909.3" y2="431.8" stroke="#ff0000" stroke-width="1"/>
<line x1="906.1" y1="429.2" x2="906.1" y2="434.4" stroke="#ff0000" stroke-width="1"/>
</g>
</svg>
</body></html>
